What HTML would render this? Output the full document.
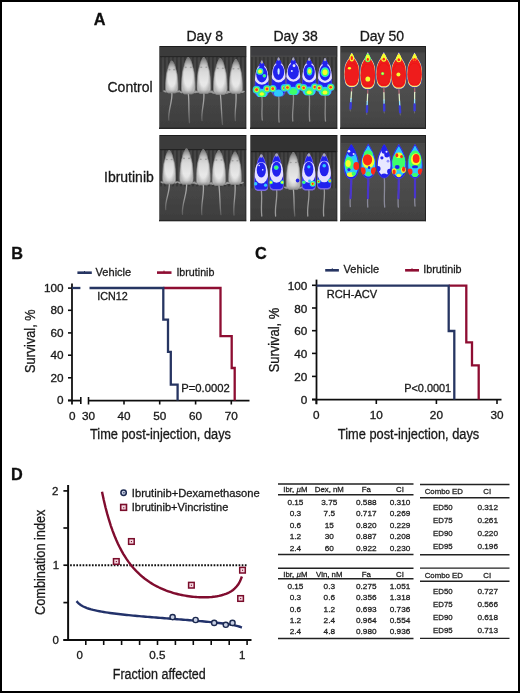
<!DOCTYPE html>
<html><head><meta charset="utf-8"><title>Figure</title><style>
html,body{margin:0;padding:0;background:#fff;width:520px;height:693px;overflow:hidden}
svg{display:block}
text{font-family:"Liberation Sans",sans-serif;stroke:currentColor;stroke-width:0.3px}
</style></head><body>
<svg width="520" height="693" viewBox="0 0 520 693">
<defs><filter id="gsoft" x="0" y="0" width="100%" height="100%" filterUnits="userSpaceOnUse"><feGaussianBlur stdDeviation="0.32"/></filter></defs>
<g filter="url(#gsoft)">
<rect x="0" y="0" width="520" height="693" fill="#fff"/>
<text x="93.7" y="24.6" font-size="16.3" font-weight="bold" fill="#111" color="#111">A</text>
<text x="204.8" y="40.7" font-size="14" text-anchor="middle" fill="#1a1a1a" color="#1a1a1a">Day 8</text>
<text x="295.6" y="40.7" font-size="14" text-anchor="middle" fill="#1a1a1a" color="#1a1a1a">Day 38</text>
<text x="381.9" y="40.7" font-size="14" text-anchor="middle" fill="#1a1a1a" color="#1a1a1a">Day 50</text>
<text x="107.5" y="91.9" font-size="14" fill="#1a1a1a" color="#1a1a1a">Control</text>
<text x="104.0" y="181.9" font-size="14" fill="#1a1a1a" color="#1a1a1a">Ibrutinib</text>
<defs>
<linearGradient id="gW" x1="0" y1="0" x2="0" y2="1">
<stop offset="0" stop-color="#8a8a8a"/><stop offset="0.1" stop-color="#ababab"/><stop offset="0.22" stop-color="#c6c6c6"/><stop offset="0.4" stop-color="#dadada"/><stop offset="0.7" stop-color="#e8e8e8"/><stop offset="0.9" stop-color="#e4e4e4"/><stop offset="1" stop-color="#b8b8b8"/>
</linearGradient>
<radialGradient id="gWe" cx="0.5" cy="0.5" r="0.5"><stop offset="0.6" stop-color="#000" stop-opacity="0"/><stop offset="1" stop-color="#000" stop-opacity="0.2"/></radialGradient>
<linearGradient id="gT" x1="0" y1="0" x2="0" y2="1" gradientUnits="objectBoundingBox"><stop offset="0" stop-color="#b0b0b0"/><stop offset="0.5" stop-color="#969696"/><stop offset="1" stop-color="#5e5e5e"/></linearGradient>
<linearGradient id="gBG" x1="0" y1="0" x2="0" y2="1"><stop offset="0" stop-color="#fff" stop-opacity="0.0"/><stop offset="0.45" stop-color="#fff" stop-opacity="0.05"/><stop offset="1" stop-color="#000" stop-opacity="0.06"/></linearGradient>
<filter id="soft" x="-5%" y="-5%" width="110%" height="110%"><feGaussianBlur stdDeviation="0.55"/></filter>
<clipPath id="ci1"><rect x="159" y="46" width="87.5" height="83"/></clipPath>
<clipPath id="ci2"><rect x="250" y="46" width="87.5" height="83"/></clipPath>
<clipPath id="ci3"><rect x="340" y="46" width="86" height="83"/></clipPath>
<clipPath id="ci4"><rect x="159" y="135" width="87.5" height="86.4"/></clipPath>
<clipPath id="ci5"><rect x="250" y="135" width="87.5" height="86.4"/></clipPath>
<clipPath id="ci6"><rect x="340" y="135" width="86" height="86.4"/></clipPath>
</defs>
<g clip-path="url(#ci1)"><g filter="url(#soft)">
<rect x="159" y="46" width="87.5" height="83" fill="#404040"/>
<rect x="159" y="46" width="87.5" height="83" fill="url(#gBG)"/>
<rect x="160" y="57" width="1.8" height="34.9" fill="#2a2a2a" opacity="0.55"/>
<rect x="164" y="57" width="1.8" height="34.9" fill="#2a2a2a" opacity="0.55"/>
<rect x="168" y="57" width="1.8" height="34.9" fill="#2a2a2a" opacity="0.55"/>
<rect x="172" y="57" width="1.8" height="34.9" fill="#2a2a2a" opacity="0.55"/>
<rect x="176" y="57" width="1.8" height="34.9" fill="#2a2a2a" opacity="0.55"/>
<rect x="180" y="57" width="1.8" height="34.9" fill="#2a2a2a" opacity="0.55"/>
<rect x="184" y="57" width="1.8" height="34.9" fill="#2a2a2a" opacity="0.55"/>
<rect x="188" y="57" width="1.8" height="34.9" fill="#2a2a2a" opacity="0.55"/>
<rect x="192" y="57" width="1.8" height="34.9" fill="#2a2a2a" opacity="0.55"/>
<rect x="196" y="57" width="1.8" height="34.9" fill="#2a2a2a" opacity="0.55"/>
<rect x="200" y="57" width="1.8" height="34.9" fill="#2a2a2a" opacity="0.55"/>
<rect x="204" y="57" width="1.8" height="34.9" fill="#2a2a2a" opacity="0.55"/>
<rect x="208" y="57" width="1.8" height="34.9" fill="#2a2a2a" opacity="0.55"/>
<rect x="212" y="57" width="1.8" height="34.9" fill="#2a2a2a" opacity="0.55"/>
<rect x="216" y="57" width="1.8" height="34.9" fill="#2a2a2a" opacity="0.55"/>
<rect x="220" y="57" width="1.8" height="34.9" fill="#2a2a2a" opacity="0.55"/>
<rect x="224" y="57" width="1.8" height="34.9" fill="#2a2a2a" opacity="0.55"/>
<rect x="228" y="57" width="1.8" height="34.9" fill="#2a2a2a" opacity="0.55"/>
<rect x="232" y="57" width="1.8" height="34.9" fill="#2a2a2a" opacity="0.55"/>
<rect x="236" y="57" width="1.8" height="34.9" fill="#2a2a2a" opacity="0.55"/>
<rect x="240" y="57" width="1.8" height="34.9" fill="#2a2a2a" opacity="0.55"/>
<rect x="244" y="57" width="1.8" height="34.9" fill="#2a2a2a" opacity="0.55"/>
<rect x="159" y="46" width="87.5" height="11" fill="#3a3a3a"/>
<rect x="159" y="56" width="87.5" height="1.2" fill="#262626"/>
<rect x="159" y="46" width="87.5" height="1" fill="#1e1e1e"/>
<rect x="159" y="46" width="1" height="83" fill="#6a6a6a"/>
<rect x="245.5" y="46" width="1" height="83" fill="#242424"/>
<rect x="159" y="127.5" width="87.5" height="1.5" fill="#262626"/>
<path d="M171.80,92.00 C172.92,101.24 167.68,110.48 168.80,120.00" stroke="url(#gT)" stroke-width="1.3" fill="none" stroke-linecap="round"/>
<ellipse cx="165.00" cy="91.40" rx="2.0" ry="0.9" fill="#9a9a9a" transform="rotate(20 165.00 91.40)"/>
<ellipse cx="178.60" cy="91.40" rx="2.0" ry="0.9" fill="#9a9a9a" transform="rotate(-20 178.60 91.40)"/>
<path d="M172.42,61.00 L173.06,62.10 L173.70,63.21 L174.32,64.31 L174.75,65.41 L175.17,66.52 L175.41,67.62 L175.66,68.72 L176.01,69.83 L176.35,70.93 L176.63,72.03 L176.90,73.14 L177.12,74.24 L177.25,75.34 L177.38,76.45 L177.51,77.55 L177.63,78.66 L177.70,79.76 L177.77,80.86 L177.85,81.97 L177.92,83.07 L177.95,84.17 L177.96,85.28 L177.98,86.38 L177.99,87.48 L177.95,88.59 L177.87,89.69 L177.66,90.79 L177.19,91.90 L175.21,93.00 L168.39,93.00 L166.41,91.90 L165.94,90.79 L165.73,89.69 L165.65,88.59 L165.61,87.48 L165.62,86.38 L165.64,85.28 L165.65,84.17 L165.68,83.07 L165.75,81.97 L165.83,80.86 L165.90,79.76 L165.97,78.66 L166.09,77.55 L166.22,76.45 L166.35,75.34 L166.48,74.24 L166.70,73.14 L166.97,72.03 L167.25,70.93 L167.59,69.83 L167.94,68.72 L168.19,67.62 L168.43,66.52 L168.85,65.41 L169.28,64.31 L169.90,63.21 L170.54,62.10 L171.18,61.00Z" fill="url(#gW)" stroke="#9c9c9c" stroke-width="0.8" stroke-opacity="0.7"/>
<path d="M172.42,61.00 L173.06,62.10 L173.70,63.21 L174.32,64.31 L174.75,65.41 L175.17,66.52 L175.41,67.62 L175.66,68.72 L176.01,69.83 L176.35,70.93 L176.63,72.03 L176.90,73.14 L177.12,74.24 L177.25,75.34 L177.38,76.45 L177.51,77.55 L177.63,78.66 L177.70,79.76 L177.77,80.86 L177.85,81.97 L177.92,83.07 L177.95,84.17 L177.96,85.28 L177.98,86.38 L177.99,87.48 L177.95,88.59 L177.87,89.69 L177.66,90.79 L177.19,91.90 L175.21,93.00 L168.39,93.00 L166.41,91.90 L165.94,90.79 L165.73,89.69 L165.65,88.59 L165.61,87.48 L165.62,86.38 L165.64,85.28 L165.65,84.17 L165.68,83.07 L165.75,81.97 L165.83,80.86 L165.90,79.76 L165.97,78.66 L166.09,77.55 L166.22,76.45 L166.35,75.34 L166.48,74.24 L166.70,73.14 L166.97,72.03 L167.25,70.93 L167.59,69.83 L167.94,68.72 L168.19,67.62 L168.43,66.52 L168.85,65.41 L169.28,64.31 L169.90,63.21 L170.54,62.10 L171.18,61.00Z" fill="url(#gWe)"/>
<ellipse cx="169.44" cy="69.64" rx="1.1" ry="0.8" fill="#8a8a8a" opacity="0.7"/>
<ellipse cx="174.16" cy="69.64" rx="1.1" ry="0.8" fill="#8a8a8a" opacity="0.7"/>
<path d="M188.30,93.00 C189.42,102.80 188.38,112.60 189.50,122.70" stroke="url(#gT)" stroke-width="1.3" fill="none" stroke-linecap="round"/>
<ellipse cx="180.90" cy="92.17" rx="2.0" ry="0.9" fill="#9a9a9a" transform="rotate(20 180.90 92.17)"/>
<ellipse cx="195.70" cy="92.17" rx="2.0" ry="0.9" fill="#9a9a9a" transform="rotate(-20 195.70 92.17)"/>
<path d="M188.98,57.50 L189.68,58.76 L190.39,60.02 L191.07,61.28 L191.54,62.53 L191.99,63.79 L192.26,65.05 L192.53,66.31 L192.92,67.57 L193.29,68.83 L193.59,70.09 L193.90,71.34 L194.14,72.60 L194.28,73.86 L194.42,75.12 L194.56,76.38 L194.70,77.64 L194.77,78.90 L194.85,80.16 L194.93,81.41 L195.01,82.67 L195.04,83.93 L195.06,85.19 L195.08,86.45 L195.09,87.71 L195.04,88.97 L194.96,90.22 L194.73,91.48 L194.22,92.74 L192.04,94.00 L184.56,94.00 L182.38,92.74 L181.87,91.48 L181.64,90.22 L181.56,88.97 L181.51,87.71 L181.52,86.45 L181.54,85.19 L181.56,83.93 L181.59,82.67 L181.67,81.41 L181.75,80.16 L181.83,78.90 L181.90,77.64 L182.04,76.38 L182.18,75.12 L182.32,73.86 L182.46,72.60 L182.70,71.34 L183.01,70.09 L183.31,68.83 L183.68,67.57 L184.07,66.31 L184.34,65.05 L184.61,63.79 L185.06,62.53 L185.53,61.28 L186.21,60.02 L186.92,58.76 L187.62,57.50Z" fill="url(#gW)" stroke="#9c9c9c" stroke-width="0.8" stroke-opacity="0.7"/>
<path d="M188.98,57.50 L189.68,58.76 L190.39,60.02 L191.07,61.28 L191.54,62.53 L191.99,63.79 L192.26,65.05 L192.53,66.31 L192.92,67.57 L193.29,68.83 L193.59,70.09 L193.90,71.34 L194.14,72.60 L194.28,73.86 L194.42,75.12 L194.56,76.38 L194.70,77.64 L194.77,78.90 L194.85,80.16 L194.93,81.41 L195.01,82.67 L195.04,83.93 L195.06,85.19 L195.08,86.45 L195.09,87.71 L195.04,88.97 L194.96,90.22 L194.73,91.48 L194.22,92.74 L192.04,94.00 L184.56,94.00 L182.38,92.74 L181.87,91.48 L181.64,90.22 L181.56,88.97 L181.51,87.71 L181.52,86.45 L181.54,85.19 L181.56,83.93 L181.59,82.67 L181.67,81.41 L181.75,80.16 L181.83,78.90 L181.90,77.64 L182.04,76.38 L182.18,75.12 L182.32,73.86 L182.46,72.60 L182.70,71.34 L183.01,70.09 L183.31,68.83 L183.68,67.57 L184.07,66.31 L184.34,65.05 L184.61,63.79 L185.06,62.53 L185.53,61.28 L186.21,60.02 L186.92,58.76 L187.62,57.50Z" fill="url(#gWe)"/>
<ellipse cx="185.72" cy="67.36" rx="1.1" ry="0.8" fill="#8a8a8a" opacity="0.7"/>
<ellipse cx="190.88" cy="67.36" rx="1.1" ry="0.8" fill="#8a8a8a" opacity="0.7"/>
<path d="M203.80,92.50 C204.92,101.74 200.88,110.98 202.00,120.50" stroke="url(#gT)" stroke-width="1.3" fill="none" stroke-linecap="round"/>
<ellipse cx="196.40" cy="91.70" rx="2.0" ry="0.9" fill="#9a9a9a" transform="rotate(20 196.40 91.70)"/>
<ellipse cx="211.20" cy="91.70" rx="2.0" ry="0.9" fill="#9a9a9a" transform="rotate(-20 211.20 91.70)"/>
<path d="M204.48,57.50 L205.18,58.74 L205.89,59.98 L206.57,61.22 L207.04,62.47 L207.49,63.71 L207.76,64.95 L208.03,66.19 L208.42,67.43 L208.79,68.67 L209.09,69.91 L209.40,71.16 L209.64,72.40 L209.78,73.64 L209.92,74.88 L210.06,76.12 L210.20,77.36 L210.27,78.60 L210.35,79.84 L210.43,81.09 L210.51,82.33 L210.54,83.57 L210.56,84.81 L210.58,86.05 L210.59,87.29 L210.54,88.53 L210.46,89.78 L210.23,91.02 L209.72,92.26 L207.54,93.50 L200.06,93.50 L197.88,92.26 L197.37,91.02 L197.14,89.78 L197.06,88.53 L197.01,87.29 L197.02,86.05 L197.04,84.81 L197.06,83.57 L197.09,82.33 L197.17,81.09 L197.25,79.84 L197.33,78.60 L197.40,77.36 L197.54,76.12 L197.68,74.88 L197.82,73.64 L197.96,72.40 L198.20,71.16 L198.51,69.91 L198.81,68.67 L199.18,67.43 L199.57,66.19 L199.84,64.95 L200.11,63.71 L200.56,62.47 L201.03,61.22 L201.71,59.98 L202.42,58.74 L203.12,57.50Z" fill="url(#gW)" stroke="#9c9c9c" stroke-width="0.8" stroke-opacity="0.7"/>
<path d="M204.48,57.50 L205.18,58.74 L205.89,59.98 L206.57,61.22 L207.04,62.47 L207.49,63.71 L207.76,64.95 L208.03,66.19 L208.42,67.43 L208.79,68.67 L209.09,69.91 L209.40,71.16 L209.64,72.40 L209.78,73.64 L209.92,74.88 L210.06,76.12 L210.20,77.36 L210.27,78.60 L210.35,79.84 L210.43,81.09 L210.51,82.33 L210.54,83.57 L210.56,84.81 L210.58,86.05 L210.59,87.29 L210.54,88.53 L210.46,89.78 L210.23,91.02 L209.72,92.26 L207.54,93.50 L200.06,93.50 L197.88,92.26 L197.37,91.02 L197.14,89.78 L197.06,88.53 L197.01,87.29 L197.02,86.05 L197.04,84.81 L197.06,83.57 L197.09,82.33 L197.17,81.09 L197.25,79.84 L197.33,78.60 L197.40,77.36 L197.54,76.12 L197.68,74.88 L197.82,73.64 L197.96,72.40 L198.20,71.16 L198.51,69.91 L198.81,68.67 L199.18,67.43 L199.57,66.19 L199.84,64.95 L200.11,63.71 L200.56,62.47 L201.03,61.22 L201.71,59.98 L202.42,58.74 L203.12,57.50Z" fill="url(#gWe)"/>
<ellipse cx="201.22" cy="67.22" rx="1.1" ry="0.8" fill="#8a8a8a" opacity="0.7"/>
<ellipse cx="206.38" cy="67.22" rx="1.1" ry="0.8" fill="#8a8a8a" opacity="0.7"/>
<path d="M220.30,93.50 C221.42,103.70 221.38,113.89 222.50,124.40" stroke="url(#gT)" stroke-width="1.3" fill="none" stroke-linecap="round"/>
<ellipse cx="212.90" cy="92.70" rx="2.0" ry="0.9" fill="#9a9a9a" transform="rotate(20 212.90 92.70)"/>
<ellipse cx="227.70" cy="92.70" rx="2.0" ry="0.9" fill="#9a9a9a" transform="rotate(-20 227.70 92.70)"/>
<path d="M220.98,58.50 L221.68,59.74 L222.39,60.98 L223.07,62.22 L223.54,63.47 L223.99,64.71 L224.26,65.95 L224.53,67.19 L224.92,68.43 L225.29,69.67 L225.59,70.91 L225.90,72.16 L226.14,73.40 L226.28,74.64 L226.42,75.88 L226.56,77.12 L226.70,78.36 L226.77,79.60 L226.85,80.84 L226.93,82.09 L227.01,83.33 L227.04,84.57 L227.06,85.81 L227.08,87.05 L227.09,88.29 L227.04,89.53 L226.96,90.78 L226.73,92.02 L226.22,93.26 L224.04,94.50 L216.56,94.50 L214.38,93.26 L213.87,92.02 L213.64,90.78 L213.56,89.53 L213.51,88.29 L213.52,87.05 L213.54,85.81 L213.56,84.57 L213.59,83.33 L213.67,82.09 L213.75,80.84 L213.83,79.60 L213.90,78.36 L214.04,77.12 L214.18,75.88 L214.32,74.64 L214.46,73.40 L214.70,72.16 L215.01,70.91 L215.31,69.67 L215.68,68.43 L216.07,67.19 L216.34,65.95 L216.61,64.71 L217.06,63.47 L217.53,62.22 L218.21,60.98 L218.92,59.74 L219.62,58.50Z" fill="url(#gW)" stroke="#9c9c9c" stroke-width="0.8" stroke-opacity="0.7"/>
<path d="M220.98,58.50 L221.68,59.74 L222.39,60.98 L223.07,62.22 L223.54,63.47 L223.99,64.71 L224.26,65.95 L224.53,67.19 L224.92,68.43 L225.29,69.67 L225.59,70.91 L225.90,72.16 L226.14,73.40 L226.28,74.64 L226.42,75.88 L226.56,77.12 L226.70,78.36 L226.77,79.60 L226.85,80.84 L226.93,82.09 L227.01,83.33 L227.04,84.57 L227.06,85.81 L227.08,87.05 L227.09,88.29 L227.04,89.53 L226.96,90.78 L226.73,92.02 L226.22,93.26 L224.04,94.50 L216.56,94.50 L214.38,93.26 L213.87,92.02 L213.64,90.78 L213.56,89.53 L213.51,88.29 L213.52,87.05 L213.54,85.81 L213.56,84.57 L213.59,83.33 L213.67,82.09 L213.75,80.84 L213.83,79.60 L213.90,78.36 L214.04,77.12 L214.18,75.88 L214.32,74.64 L214.46,73.40 L214.70,72.16 L215.01,70.91 L215.31,69.67 L215.68,68.43 L216.07,67.19 L216.34,65.95 L216.61,64.71 L217.06,63.47 L217.53,62.22 L218.21,60.98 L218.92,59.74 L219.62,58.50Z" fill="url(#gWe)"/>
<ellipse cx="217.72" cy="68.22" rx="1.1" ry="0.8" fill="#8a8a8a" opacity="0.7"/>
<ellipse cx="222.88" cy="68.22" rx="1.1" ry="0.8" fill="#8a8a8a" opacity="0.7"/>
<path d="M235.90,92.50 C237.02,101.74 234.28,110.98 235.40,120.50" stroke="url(#gT)" stroke-width="1.3" fill="none" stroke-linecap="round"/>
<ellipse cx="228.80" cy="91.80" rx="2.0" ry="0.9" fill="#9a9a9a" transform="rotate(20 228.80 91.80)"/>
<ellipse cx="243.00" cy="91.80" rx="2.0" ry="0.9" fill="#9a9a9a" transform="rotate(-20 243.00 91.80)"/>
<path d="M236.55,59.50 L237.22,60.67 L237.89,61.84 L238.54,63.02 L238.99,64.19 L239.43,65.36 L239.68,66.53 L239.94,67.71 L240.32,68.88 L240.67,70.05 L240.96,71.22 L241.25,72.40 L241.48,73.57 L241.61,74.74 L241.75,75.91 L241.88,77.09 L242.01,78.26 L242.09,79.43 L242.16,80.60 L242.24,81.78 L242.31,82.95 L242.35,84.12 L242.36,85.29 L242.38,86.47 L242.39,87.64 L242.35,88.81 L242.26,89.98 L242.05,91.16 L241.55,92.33 L239.47,93.50 L232.33,93.50 L230.25,92.33 L229.75,91.16 L229.54,89.98 L229.45,88.81 L229.41,87.64 L229.42,86.47 L229.44,85.29 L229.45,84.12 L229.49,82.95 L229.56,81.78 L229.64,80.60 L229.71,79.43 L229.79,78.26 L229.92,77.09 L230.05,75.91 L230.19,74.74 L230.32,73.57 L230.55,72.40 L230.84,71.22 L231.13,70.05 L231.48,68.88 L231.86,67.71 L232.12,66.53 L232.37,65.36 L232.81,64.19 L233.26,63.02 L233.91,61.84 L234.58,60.67 L235.25,59.50Z" fill="url(#gW)" stroke="#9c9c9c" stroke-width="0.8" stroke-opacity="0.7"/>
<path d="M236.55,59.50 L237.22,60.67 L237.89,61.84 L238.54,63.02 L238.99,64.19 L239.43,65.36 L239.68,66.53 L239.94,67.71 L240.32,68.88 L240.67,70.05 L240.96,71.22 L241.25,72.40 L241.48,73.57 L241.61,74.74 L241.75,75.91 L241.88,77.09 L242.01,78.26 L242.09,79.43 L242.16,80.60 L242.24,81.78 L242.31,82.95 L242.35,84.12 L242.36,85.29 L242.38,86.47 L242.39,87.64 L242.35,88.81 L242.26,89.98 L242.05,91.16 L241.55,92.33 L239.47,93.50 L232.33,93.50 L230.25,92.33 L229.75,91.16 L229.54,89.98 L229.45,88.81 L229.41,87.64 L229.42,86.47 L229.44,85.29 L229.45,84.12 L229.49,82.95 L229.56,81.78 L229.64,80.60 L229.71,79.43 L229.79,78.26 L229.92,77.09 L230.05,75.91 L230.19,74.74 L230.32,73.57 L230.55,72.40 L230.84,71.22 L231.13,70.05 L231.48,68.88 L231.86,67.71 L232.12,66.53 L232.37,65.36 L232.81,64.19 L233.26,63.02 L233.91,61.84 L234.58,60.67 L235.25,59.50Z" fill="url(#gWe)"/>
<ellipse cx="233.43" cy="68.68" rx="1.1" ry="0.8" fill="#8a8a8a" opacity="0.7"/>
<ellipse cx="238.37" cy="68.68" rx="1.1" ry="0.8" fill="#8a8a8a" opacity="0.7"/>
</g></g>
<g clip-path="url(#ci4)"><g filter="url(#soft)">
<rect x="159" y="135" width="87.5" height="86.4" fill="#404040"/>
<rect x="159" y="135" width="87.5" height="86.4" fill="url(#gBG)"/>
<rect x="160" y="150" width="1.8" height="36.3" fill="#2a2a2a" opacity="0.55"/>
<rect x="164" y="150" width="1.8" height="36.3" fill="#2a2a2a" opacity="0.55"/>
<rect x="168" y="150" width="1.8" height="36.3" fill="#2a2a2a" opacity="0.55"/>
<rect x="172" y="150" width="1.8" height="36.3" fill="#2a2a2a" opacity="0.55"/>
<rect x="176" y="150" width="1.8" height="36.3" fill="#2a2a2a" opacity="0.55"/>
<rect x="180" y="150" width="1.8" height="36.3" fill="#2a2a2a" opacity="0.55"/>
<rect x="184" y="150" width="1.8" height="36.3" fill="#2a2a2a" opacity="0.55"/>
<rect x="188" y="150" width="1.8" height="36.3" fill="#2a2a2a" opacity="0.55"/>
<rect x="192" y="150" width="1.8" height="36.3" fill="#2a2a2a" opacity="0.55"/>
<rect x="196" y="150" width="1.8" height="36.3" fill="#2a2a2a" opacity="0.55"/>
<rect x="200" y="150" width="1.8" height="36.3" fill="#2a2a2a" opacity="0.55"/>
<rect x="204" y="150" width="1.8" height="36.3" fill="#2a2a2a" opacity="0.55"/>
<rect x="208" y="150" width="1.8" height="36.3" fill="#2a2a2a" opacity="0.55"/>
<rect x="212" y="150" width="1.8" height="36.3" fill="#2a2a2a" opacity="0.55"/>
<rect x="216" y="150" width="1.8" height="36.3" fill="#2a2a2a" opacity="0.55"/>
<rect x="220" y="150" width="1.8" height="36.3" fill="#2a2a2a" opacity="0.55"/>
<rect x="224" y="150" width="1.8" height="36.3" fill="#2a2a2a" opacity="0.55"/>
<rect x="228" y="150" width="1.8" height="36.3" fill="#2a2a2a" opacity="0.55"/>
<rect x="232" y="150" width="1.8" height="36.3" fill="#2a2a2a" opacity="0.55"/>
<rect x="236" y="150" width="1.8" height="36.3" fill="#2a2a2a" opacity="0.55"/>
<rect x="240" y="150" width="1.8" height="36.3" fill="#2a2a2a" opacity="0.55"/>
<rect x="244" y="150" width="1.8" height="36.3" fill="#2a2a2a" opacity="0.55"/>
<rect x="159" y="135" width="87.5" height="15" fill="#3a3a3a"/>
<rect x="159" y="149" width="87.5" height="1.2" fill="#222222"/>
<rect x="159" y="135" width="87.5" height="1" fill="#1e1e1e"/>
<rect x="159" y="135" width="1" height="86.4" fill="#6a6a6a"/>
<rect x="245.5" y="135" width="1" height="86.4" fill="#242424"/>
<rect x="159" y="219.9" width="87.5" height="1.5" fill="#262626"/>
<path d="M169.20,183.00 C170.32,191.75 164.58,200.49 165.70,209.50" stroke="url(#gT)" stroke-width="1.3" fill="none" stroke-linecap="round"/>
<ellipse cx="162.20" cy="182.32" rx="2.0" ry="0.9" fill="#9a9a9a" transform="rotate(20 162.20 182.32)"/>
<ellipse cx="176.20" cy="182.32" rx="2.0" ry="0.9" fill="#9a9a9a" transform="rotate(-20 176.20 182.32)"/>
<path d="M169.84,150.50 L170.50,151.66 L171.16,152.81 L171.80,153.97 L172.25,155.12 L172.67,156.28 L172.93,157.43 L173.18,158.59 L173.55,159.74 L173.89,160.90 L174.18,162.05 L174.47,163.21 L174.69,164.36 L174.83,165.52 L174.96,166.67 L175.09,167.83 L175.22,168.98 L175.29,170.14 L175.37,171.29 L175.44,172.45 L175.51,173.60 L175.55,174.76 L175.56,175.91 L175.58,177.07 L175.59,178.22 L175.55,179.38 L175.46,180.53 L175.25,181.69 L174.77,182.84 L172.72,184.00 L165.68,184.00 L163.63,182.84 L163.15,181.69 L162.94,180.53 L162.85,179.38 L162.81,178.22 L162.82,177.07 L162.84,175.91 L162.85,174.76 L162.89,173.60 L162.96,172.45 L163.03,171.29 L163.11,170.14 L163.18,168.98 L163.31,167.83 L163.44,166.67 L163.57,165.52 L163.71,164.36 L163.93,163.21 L164.22,162.05 L164.51,160.90 L164.85,159.74 L165.22,158.59 L165.47,157.43 L165.73,156.28 L166.15,155.12 L166.60,153.97 L167.24,152.81 L167.90,151.66 L168.56,150.50Z" fill="url(#gW)" stroke="#9c9c9c" stroke-width="0.8" stroke-opacity="0.7"/>
<path d="M169.84,150.50 L170.50,151.66 L171.16,152.81 L171.80,153.97 L172.25,155.12 L172.67,156.28 L172.93,157.43 L173.18,158.59 L173.55,159.74 L173.89,160.90 L174.18,162.05 L174.47,163.21 L174.69,164.36 L174.83,165.52 L174.96,166.67 L175.09,167.83 L175.22,168.98 L175.29,170.14 L175.37,171.29 L175.44,172.45 L175.51,173.60 L175.55,174.76 L175.56,175.91 L175.58,177.07 L175.59,178.22 L175.55,179.38 L175.46,180.53 L175.25,181.69 L174.77,182.84 L172.72,184.00 L165.68,184.00 L163.63,182.84 L163.15,181.69 L162.94,180.53 L162.85,179.38 L162.81,178.22 L162.82,177.07 L162.84,175.91 L162.85,174.76 L162.89,173.60 L162.96,172.45 L163.03,171.29 L163.11,170.14 L163.18,168.98 L163.31,167.83 L163.44,166.67 L163.57,165.52 L163.71,164.36 L163.93,163.21 L164.22,162.05 L164.51,160.90 L164.85,159.74 L165.22,158.59 L165.47,157.43 L165.73,156.28 L166.15,155.12 L166.60,153.97 L167.24,152.81 L167.90,151.66 L168.56,150.50Z" fill="url(#gWe)"/>
<ellipse cx="166.77" cy="159.54" rx="1.1" ry="0.8" fill="#8a8a8a" opacity="0.7"/>
<ellipse cx="171.63" cy="159.54" rx="1.1" ry="0.8" fill="#8a8a8a" opacity="0.7"/>
<path d="M186.50,183.30 C187.62,193.53 181.38,203.76 182.50,214.30" stroke="url(#gT)" stroke-width="1.3" fill="none" stroke-linecap="round"/>
<ellipse cx="179.20" cy="182.53" rx="2.0" ry="0.9" fill="#9a9a9a" transform="rotate(20 179.20 182.53)"/>
<ellipse cx="193.80" cy="182.53" rx="2.0" ry="0.9" fill="#9a9a9a" transform="rotate(-20 193.80 182.53)"/>
<path d="M187.17,148.80 L187.86,150.02 L188.56,151.25 L189.23,152.47 L189.69,153.70 L190.14,154.92 L190.40,156.14 L190.67,157.37 L191.05,158.59 L191.41,159.82 L191.71,161.04 L192.01,162.27 L192.25,163.49 L192.39,164.71 L192.53,165.94 L192.67,167.16 L192.80,168.39 L192.88,169.61 L192.96,170.83 L193.03,172.06 L193.11,173.28 L193.14,174.51 L193.16,175.73 L193.18,176.96 L193.19,178.18 L193.14,179.40 L193.06,180.63 L192.84,181.85 L192.33,183.08 L190.19,184.30 L182.81,184.30 L180.67,183.08 L180.16,181.85 L179.94,180.63 L179.86,179.40 L179.81,178.18 L179.82,176.96 L179.84,175.73 L179.86,174.51 L179.89,173.28 L179.97,172.06 L180.04,170.83 L180.12,169.61 L180.20,168.39 L180.33,167.16 L180.47,165.94 L180.61,164.71 L180.75,163.49 L180.99,162.27 L181.29,161.04 L181.59,159.82 L181.95,158.59 L182.33,157.37 L182.60,156.14 L182.86,154.92 L183.31,153.70 L183.77,152.47 L184.44,151.25 L185.14,150.02 L185.83,148.80Z" fill="url(#gW)" stroke="#9c9c9c" stroke-width="0.8" stroke-opacity="0.7"/>
<path d="M187.17,148.80 L187.86,150.02 L188.56,151.25 L189.23,152.47 L189.69,153.70 L190.14,154.92 L190.40,156.14 L190.67,157.37 L191.05,158.59 L191.41,159.82 L191.71,161.04 L192.01,162.27 L192.25,163.49 L192.39,164.71 L192.53,165.94 L192.67,167.16 L192.80,168.39 L192.88,169.61 L192.96,170.83 L193.03,172.06 L193.11,173.28 L193.14,174.51 L193.16,175.73 L193.18,176.96 L193.19,178.18 L193.14,179.40 L193.06,180.63 L192.84,181.85 L192.33,183.08 L190.19,184.30 L182.81,184.30 L180.67,183.08 L180.16,181.85 L179.94,180.63 L179.86,179.40 L179.81,178.18 L179.82,176.96 L179.84,175.73 L179.86,174.51 L179.89,173.28 L179.97,172.06 L180.04,170.83 L180.12,169.61 L180.20,168.39 L180.33,167.16 L180.47,165.94 L180.61,164.71 L180.75,163.49 L180.99,162.27 L181.29,161.04 L181.59,159.82 L181.95,158.59 L182.33,157.37 L182.60,156.14 L182.86,154.92 L183.31,153.70 L183.77,152.47 L184.44,151.25 L185.14,150.02 L185.83,148.80Z" fill="url(#gWe)"/>
<ellipse cx="183.95" cy="158.39" rx="1.1" ry="0.8" fill="#8a8a8a" opacity="0.7"/>
<ellipse cx="189.05" cy="158.39" rx="1.1" ry="0.8" fill="#8a8a8a" opacity="0.7"/>
<path d="M203.30,184.10 C204.42,194.13 200.68,204.16 201.80,214.50" stroke="url(#gT)" stroke-width="1.3" fill="none" stroke-linecap="round"/>
<ellipse cx="195.80" cy="183.32" rx="2.0" ry="0.9" fill="#9a9a9a" transform="rotate(20 195.80 183.32)"/>
<ellipse cx="210.80" cy="183.32" rx="2.0" ry="0.9" fill="#9a9a9a" transform="rotate(-20 210.80 183.32)"/>
<path d="M203.99,149.60 L204.70,150.82 L205.42,152.05 L206.11,153.27 L206.58,154.50 L207.05,155.72 L207.32,156.94 L207.59,158.17 L207.99,159.39 L208.36,160.62 L208.67,161.84 L208.98,163.07 L209.22,164.29 L209.36,165.51 L209.51,166.74 L209.65,167.96 L209.79,169.19 L209.87,170.41 L209.95,171.63 L210.03,172.86 L210.11,174.08 L210.14,175.31 L210.16,176.53 L210.18,177.76 L210.19,178.98 L210.14,180.20 L210.05,181.43 L209.83,182.65 L209.30,183.88 L207.09,185.10 L199.51,185.10 L197.30,183.88 L196.77,182.65 L196.55,181.43 L196.46,180.20 L196.41,178.98 L196.42,177.76 L196.44,176.53 L196.46,175.31 L196.49,174.08 L196.57,172.86 L196.65,171.63 L196.73,170.41 L196.81,169.19 L196.95,167.96 L197.09,166.74 L197.24,165.51 L197.38,164.29 L197.62,163.07 L197.93,161.84 L198.24,160.62 L198.61,159.39 L199.01,158.17 L199.28,156.94 L199.55,155.72 L200.02,154.50 L200.49,153.27 L201.18,152.05 L201.90,150.82 L202.61,149.60Z" fill="url(#gW)" stroke="#9c9c9c" stroke-width="0.8" stroke-opacity="0.7"/>
<path d="M203.99,149.60 L204.70,150.82 L205.42,152.05 L206.11,153.27 L206.58,154.50 L207.05,155.72 L207.32,156.94 L207.59,158.17 L207.99,159.39 L208.36,160.62 L208.67,161.84 L208.98,163.07 L209.22,164.29 L209.36,165.51 L209.51,166.74 L209.65,167.96 L209.79,169.19 L209.87,170.41 L209.95,171.63 L210.03,172.86 L210.11,174.08 L210.14,175.31 L210.16,176.53 L210.18,177.76 L210.19,178.98 L210.14,180.20 L210.05,181.43 L209.83,182.65 L209.30,183.88 L207.09,185.10 L199.51,185.10 L197.30,183.88 L196.77,182.65 L196.55,181.43 L196.46,180.20 L196.41,178.98 L196.42,177.76 L196.44,176.53 L196.46,175.31 L196.49,174.08 L196.57,172.86 L196.65,171.63 L196.73,170.41 L196.81,169.19 L196.95,167.96 L197.09,166.74 L197.24,165.51 L197.38,164.29 L197.62,163.07 L197.93,161.84 L198.24,160.62 L198.61,159.39 L199.01,158.17 L199.28,156.94 L199.55,155.72 L200.02,154.50 L200.49,153.27 L201.18,152.05 L201.90,150.82 L202.61,149.60Z" fill="url(#gWe)"/>
<ellipse cx="200.68" cy="159.19" rx="1.1" ry="0.8" fill="#8a8a8a" opacity="0.7"/>
<ellipse cx="205.92" cy="159.19" rx="1.1" ry="0.8" fill="#8a8a8a" opacity="0.7"/>
<path d="M218.90,184.50 C220.02,194.40 219.78,204.30 220.90,214.50" stroke="url(#gT)" stroke-width="1.3" fill="none" stroke-linecap="round"/>
<ellipse cx="211.60" cy="183.75" rx="2.0" ry="0.9" fill="#9a9a9a" transform="rotate(20 211.60 183.75)"/>
<ellipse cx="226.20" cy="183.75" rx="2.0" ry="0.9" fill="#9a9a9a" transform="rotate(-20 226.20 183.75)"/>
<path d="M219.57,150.50 L220.26,151.71 L220.96,152.91 L221.63,154.12 L222.09,155.33 L222.54,156.53 L222.80,157.74 L223.07,158.95 L223.45,160.16 L223.81,161.36 L224.11,162.57 L224.41,163.78 L224.65,164.98 L224.79,166.19 L224.93,167.40 L225.07,168.60 L225.20,169.81 L225.28,171.02 L225.36,172.22 L225.43,173.43 L225.51,174.64 L225.54,175.84 L225.56,177.05 L225.58,178.26 L225.59,179.47 L225.54,180.67 L225.46,181.88 L225.24,183.09 L224.73,184.29 L222.59,185.50 L215.22,185.50 L213.07,184.29 L212.56,183.09 L212.34,181.88 L212.26,180.67 L212.21,179.47 L212.22,178.26 L212.24,177.05 L212.26,175.84 L212.29,174.64 L212.37,173.43 L212.44,172.22 L212.52,171.02 L212.60,169.81 L212.73,168.60 L212.87,167.40 L213.01,166.19 L213.15,164.98 L213.39,163.78 L213.69,162.57 L213.99,161.36 L214.35,160.16 L214.73,158.95 L215.00,157.74 L215.26,156.53 L215.71,155.33 L216.17,154.12 L216.84,152.91 L217.54,151.71 L218.23,150.50Z" fill="url(#gW)" stroke="#9c9c9c" stroke-width="0.8" stroke-opacity="0.7"/>
<path d="M219.57,150.50 L220.26,151.71 L220.96,152.91 L221.63,154.12 L222.09,155.33 L222.54,156.53 L222.80,157.74 L223.07,158.95 L223.45,160.16 L223.81,161.36 L224.11,162.57 L224.41,163.78 L224.65,164.98 L224.79,166.19 L224.93,167.40 L225.07,168.60 L225.20,169.81 L225.28,171.02 L225.36,172.22 L225.43,173.43 L225.51,174.64 L225.54,175.84 L225.56,177.05 L225.58,178.26 L225.59,179.47 L225.54,180.67 L225.46,181.88 L225.24,183.09 L224.73,184.29 L222.59,185.50 L215.22,185.50 L213.07,184.29 L212.56,183.09 L212.34,181.88 L212.26,180.67 L212.21,179.47 L212.22,178.26 L212.24,177.05 L212.26,175.84 L212.29,174.64 L212.37,173.43 L212.44,172.22 L212.52,171.02 L212.60,169.81 L212.73,168.60 L212.87,167.40 L213.01,166.19 L213.15,164.98 L213.39,163.78 L213.69,162.57 L213.99,161.36 L214.35,160.16 L214.73,158.95 L215.00,157.74 L215.26,156.53 L215.71,155.33 L216.17,154.12 L216.84,152.91 L217.54,151.71 L218.23,150.50Z" fill="url(#gWe)"/>
<ellipse cx="216.35" cy="159.95" rx="1.1" ry="0.8" fill="#8a8a8a" opacity="0.7"/>
<ellipse cx="221.45" cy="159.95" rx="1.1" ry="0.8" fill="#8a8a8a" opacity="0.7"/>
<path d="M235.00,183.50 C236.12,193.90 232.88,204.29 234.00,215.00" stroke="url(#gT)" stroke-width="1.3" fill="none" stroke-linecap="round"/>
<ellipse cx="228.00" cy="182.88" rx="2.0" ry="0.9" fill="#9a9a9a" transform="rotate(20 228.00 182.88)"/>
<ellipse cx="242.00" cy="182.88" rx="2.0" ry="0.9" fill="#9a9a9a" transform="rotate(-20 242.00 182.88)"/>
<path d="M235.64,152.00 L236.30,153.12 L236.96,154.24 L237.60,155.36 L238.05,156.48 L238.47,157.60 L238.73,158.72 L238.98,159.84 L239.35,160.97 L239.69,162.09 L239.98,163.21 L240.27,164.33 L240.49,165.45 L240.63,166.57 L240.76,167.69 L240.89,168.81 L241.02,169.93 L241.09,171.05 L241.17,172.17 L241.24,173.29 L241.31,174.41 L241.35,175.53 L241.36,176.66 L241.38,177.78 L241.39,178.90 L241.35,180.02 L241.26,181.14 L241.05,182.26 L240.57,183.38 L238.52,184.50 L231.48,184.50 L229.43,183.38 L228.95,182.26 L228.74,181.14 L228.65,180.02 L228.61,178.90 L228.62,177.78 L228.64,176.66 L228.65,175.53 L228.69,174.41 L228.76,173.29 L228.83,172.17 L228.91,171.05 L228.98,169.93 L229.11,168.81 L229.24,167.69 L229.37,166.57 L229.51,165.45 L229.73,164.33 L230.02,163.21 L230.31,162.09 L230.65,160.97 L231.02,159.84 L231.27,158.72 L231.53,157.60 L231.95,156.48 L232.40,155.36 L233.04,154.24 L233.70,153.12 L234.36,152.00Z" fill="url(#gW)" stroke="#9c9c9c" stroke-width="0.8" stroke-opacity="0.7"/>
<path d="M235.64,152.00 L236.30,153.12 L236.96,154.24 L237.60,155.36 L238.05,156.48 L238.47,157.60 L238.73,158.72 L238.98,159.84 L239.35,160.97 L239.69,162.09 L239.98,163.21 L240.27,164.33 L240.49,165.45 L240.63,166.57 L240.76,167.69 L240.89,168.81 L241.02,169.93 L241.09,171.05 L241.17,172.17 L241.24,173.29 L241.31,174.41 L241.35,175.53 L241.36,176.66 L241.38,177.78 L241.39,178.90 L241.35,180.02 L241.26,181.14 L241.05,182.26 L240.57,183.38 L238.52,184.50 L231.48,184.50 L229.43,183.38 L228.95,182.26 L228.74,181.14 L228.65,180.02 L228.61,178.90 L228.62,177.78 L228.64,176.66 L228.65,175.53 L228.69,174.41 L228.76,173.29 L228.83,172.17 L228.91,171.05 L228.98,169.93 L229.11,168.81 L229.24,167.69 L229.37,166.57 L229.51,165.45 L229.73,164.33 L230.02,163.21 L230.31,162.09 L230.65,160.97 L231.02,159.84 L231.27,158.72 L231.53,157.60 L231.95,156.48 L232.40,155.36 L233.04,154.24 L233.70,153.12 L234.36,152.00Z" fill="url(#gWe)"/>
<ellipse cx="232.57" cy="160.78" rx="1.1" ry="0.8" fill="#8a8a8a" opacity="0.7"/>
<ellipse cx="237.43" cy="160.78" rx="1.1" ry="0.8" fill="#8a8a8a" opacity="0.7"/>
</g></g>
<g clip-path="url(#ci2)"><g filter="url(#soft)">
<rect x="250" y="46" width="87.5" height="83" fill="#404040"/>
<rect x="250" y="46" width="87.5" height="83" fill="url(#gBG)"/>
<rect x="251" y="56.5" width="1.8" height="34.9" fill="#2a2a2a" opacity="0.55"/>
<rect x="255" y="56.5" width="1.8" height="34.9" fill="#2a2a2a" opacity="0.55"/>
<rect x="259" y="56.5" width="1.8" height="34.9" fill="#2a2a2a" opacity="0.55"/>
<rect x="263" y="56.5" width="1.8" height="34.9" fill="#2a2a2a" opacity="0.55"/>
<rect x="267" y="56.5" width="1.8" height="34.9" fill="#2a2a2a" opacity="0.55"/>
<rect x="271" y="56.5" width="1.8" height="34.9" fill="#2a2a2a" opacity="0.55"/>
<rect x="275" y="56.5" width="1.8" height="34.9" fill="#2a2a2a" opacity="0.55"/>
<rect x="279" y="56.5" width="1.8" height="34.9" fill="#2a2a2a" opacity="0.55"/>
<rect x="283" y="56.5" width="1.8" height="34.9" fill="#2a2a2a" opacity="0.55"/>
<rect x="287" y="56.5" width="1.8" height="34.9" fill="#2a2a2a" opacity="0.55"/>
<rect x="291" y="56.5" width="1.8" height="34.9" fill="#2a2a2a" opacity="0.55"/>
<rect x="295" y="56.5" width="1.8" height="34.9" fill="#2a2a2a" opacity="0.55"/>
<rect x="299" y="56.5" width="1.8" height="34.9" fill="#2a2a2a" opacity="0.55"/>
<rect x="303" y="56.5" width="1.8" height="34.9" fill="#2a2a2a" opacity="0.55"/>
<rect x="307" y="56.5" width="1.8" height="34.9" fill="#2a2a2a" opacity="0.55"/>
<rect x="311" y="56.5" width="1.8" height="34.9" fill="#2a2a2a" opacity="0.55"/>
<rect x="315" y="56.5" width="1.8" height="34.9" fill="#2a2a2a" opacity="0.55"/>
<rect x="319" y="56.5" width="1.8" height="34.9" fill="#2a2a2a" opacity="0.55"/>
<rect x="323" y="56.5" width="1.8" height="34.9" fill="#2a2a2a" opacity="0.55"/>
<rect x="327" y="56.5" width="1.8" height="34.9" fill="#2a2a2a" opacity="0.55"/>
<rect x="331" y="56.5" width="1.8" height="34.9" fill="#2a2a2a" opacity="0.55"/>
<rect x="335" y="56.5" width="1.8" height="34.9" fill="#2a2a2a" opacity="0.55"/>
<rect x="250" y="46" width="87.5" height="10.5" fill="#3c3c40"/>
<rect x="250" y="55.5" width="87.5" height="1.2" fill="#4a4a4a"/>
<rect x="250" y="46" width="87.5" height="1" fill="#1e1e1e"/>
<rect x="250" y="46" width="1" height="83" fill="#6a6a6a"/>
<rect x="336.5" y="46" width="1" height="83" fill="#242424"/>
<rect x="250" y="127.5" width="87.5" height="1.5" fill="#262626"/>
<path d="M261.80,96.00 C262.92,103.92 261.18,111.84 262.30,120.00" stroke="#8a8a8a" stroke-width="1.3" fill="none" stroke-linecap="round"/>
<clipPath id="m2_0"><path d="M262.23,60.50 L262.81,61.76 L263.44,63.02 L264.22,64.28 L264.99,65.53 L265.65,66.79 L266.30,68.05 L266.80,69.31 L267.20,70.57 L267.59,71.83 L267.84,73.09 L268.03,74.34 L268.22,75.60 L268.41,76.86 L268.50,78.12 L268.59,79.38 L268.67,80.64 L268.75,81.90 L268.81,83.16 L268.86,84.41 L268.91,85.67 L268.96,86.93 L268.99,88.19 L268.94,89.45 L268.90,90.71 L268.84,91.97 L268.53,93.22 L268.22,94.48 L267.13,95.74 L265.76,97.00 L257.84,97.00 L256.47,95.74 L255.38,94.48 L255.07,93.22 L254.76,91.97 L254.70,90.71 L254.66,89.45 L254.61,88.19 L254.64,86.93 L254.69,85.67 L254.74,84.41 L254.79,83.16 L254.85,81.90 L254.93,80.64 L255.01,79.38 L255.10,78.12 L255.19,76.86 L255.38,75.60 L255.57,74.34 L255.76,73.09 L256.01,71.83 L256.40,70.57 L256.80,69.31 L257.30,68.05 L257.95,66.79 L258.61,65.53 L259.38,64.28 L260.16,63.02 L260.79,61.76 L261.37,60.50Z"/></clipPath>
<path d="M262.23,60.50 L262.81,61.76 L263.44,63.02 L264.22,64.28 L264.99,65.53 L265.65,66.79 L266.30,68.05 L266.80,69.31 L267.20,70.57 L267.59,71.83 L267.84,73.09 L268.03,74.34 L268.22,75.60 L268.41,76.86 L268.50,78.12 L268.59,79.38 L268.67,80.64 L268.75,81.90 L268.81,83.16 L268.86,84.41 L268.91,85.67 L268.96,86.93 L268.99,88.19 L268.94,89.45 L268.90,90.71 L268.84,91.97 L268.53,93.22 L268.22,94.48 L267.13,95.74 L265.76,97.00 L257.84,97.00 L256.47,95.74 L255.38,94.48 L255.07,93.22 L254.76,91.97 L254.70,90.71 L254.66,89.45 L254.61,88.19 L254.64,86.93 L254.69,85.67 L254.74,84.41 L254.79,83.16 L254.85,81.90 L254.93,80.64 L255.01,79.38 L255.10,78.12 L255.19,76.86 L255.38,75.60 L255.57,74.34 L255.76,73.09 L256.01,71.83 L256.40,70.57 L256.80,69.31 L257.30,68.05 L257.95,66.79 L258.61,65.53 L259.38,64.28 L260.16,63.02 L260.79,61.76 L261.37,60.50Z" fill="#5a48c8"/>
<g clip-path="url(#m2_0)">
<path d="M262.19,62.33 L262.71,63.46 L263.28,64.59 L263.98,65.72 L264.67,66.86 L265.27,67.99 L265.85,69.12 L266.30,70.25 L266.66,71.39 L267.01,72.52 L267.24,73.65 L267.41,74.79 L267.58,75.92 L267.75,77.05 L267.83,78.18 L267.91,79.32 L267.98,80.45 L268.06,81.58 L268.11,82.71 L268.16,83.85 L268.20,84.98 L268.25,86.11 L268.27,87.25 L268.23,88.38 L268.19,89.51 L268.13,90.64 L267.85,91.78 L267.58,92.91 L266.59,94.04 L265.36,95.18 L258.24,95.18 L257.01,94.04 L256.02,92.91 L255.75,91.78 L255.47,90.64 L255.41,89.51 L255.37,88.38 L255.33,87.25 L255.35,86.11 L255.40,84.98 L255.44,83.85 L255.49,82.71 L255.54,81.58 L255.62,80.45 L255.69,79.32 L255.77,78.18 L255.85,77.05 L256.02,75.92 L256.19,74.79 L256.36,73.65 L256.59,72.52 L256.94,71.39 L257.30,70.25 L257.75,69.12 L258.33,67.99 L258.93,66.86 L259.62,65.72 L260.32,64.59 L260.89,63.46 L261.41,62.33Z" fill="#2222ee"/>
<ellipse cx="261.80" cy="75.10" rx="8.05" ry="9.72" fill="#e2dcff" transform="rotate(0 261.80 75.10)"/>
<ellipse cx="261.80" cy="74.37" rx="5.60" ry="8.10" fill="#2222ee" transform="rotate(0 261.80 74.37)"/>
<ellipse cx="261.80" cy="64.88" rx="2.45" ry="3.24" fill="#2222ee" transform="rotate(0 261.80 64.88)"/>
<ellipse cx="260.00" cy="71.45" rx="3.40" ry="3.40" fill="#2fc8ff" transform="rotate(0 260.00 71.45)"/>
<ellipse cx="260.00" cy="71.45" rx="2.65" ry="2.65" fill="#3cff6a" transform="rotate(0 260.00 71.45)"/>
<ellipse cx="260.00" cy="71.45" rx="1.90" ry="1.90" fill="#f4ff2c" transform="rotate(0 260.00 71.45)"/>
<ellipse cx="264.32" cy="75.83" rx="1.80" ry="1.80" fill="#2fc8ff" transform="rotate(0 264.32 75.83)"/>
<ellipse cx="264.32" cy="75.83" rx="1.40" ry="1.40" fill="#3cff6a" transform="rotate(0 264.32 75.83)"/>
<ellipse cx="261.80" cy="93.35" rx="5.72" ry="4.62" fill="#2fc8ff" transform="rotate(0 261.80 93.35)"/>
<ellipse cx="261.80" cy="93.72" rx="3.96" ry="3.30" fill="#3cff6a" transform="rotate(0 261.80 93.72)"/>
<ellipse cx="261.80" cy="94.08" rx="2.20" ry="1.76" fill="#f4ff2c" transform="rotate(0 261.80 94.08)"/>
<ellipse cx="261.80" cy="60.50" rx="1.60" ry="3.20" fill="#a8a8b0" transform="rotate(0 261.80 60.50)"/>
</g>
<ellipse cx="256.62" cy="89.70" rx="4.00" ry="4.00" fill="#2fc8ff" transform="rotate(0 256.62 89.70)" opacity="0.9"/>
<ellipse cx="256.62" cy="89.70" rx="3.12" ry="3.12" fill="#3cff6a" transform="rotate(0 256.62 89.70)" opacity="0.9"/>
<ellipse cx="256.62" cy="89.70" rx="2.24" ry="2.24" fill="#f4ff2c" transform="rotate(0 256.62 89.70)" opacity="0.9"/>
<ellipse cx="256.62" cy="89.70" rx="1.44" ry="1.44" fill="#ff2a12" transform="rotate(0 256.62 89.70)" opacity="0.9"/>
<ellipse cx="266.98" cy="88.97" rx="4.00" ry="4.00" fill="#2fc8ff" transform="rotate(0 266.98 88.97)" opacity="0.9"/>
<ellipse cx="266.98" cy="88.97" rx="3.12" ry="3.12" fill="#3cff6a" transform="rotate(0 266.98 88.97)" opacity="0.9"/>
<ellipse cx="266.98" cy="88.97" rx="2.24" ry="2.24" fill="#f4ff2c" transform="rotate(0 266.98 88.97)" opacity="0.9"/>
<ellipse cx="266.98" cy="88.97" rx="1.44" ry="1.44" fill="#ff2a12" transform="rotate(0 266.98 88.97)" opacity="0.9"/>
<path d="M278.60,95.50 C279.72,104.25 277.98,112.99 279.10,122.00" stroke="#8a8a8a" stroke-width="1.3" fill="none" stroke-linecap="round"/>
<clipPath id="m2_1"><path d="M279.04,57.50 L279.63,58.84 L280.26,60.19 L281.05,61.53 L281.84,62.88 L282.51,64.22 L283.17,65.57 L283.67,66.91 L284.07,68.26 L284.47,69.60 L284.73,70.95 L284.92,72.29 L285.11,73.64 L285.31,74.98 L285.40,76.33 L285.48,77.67 L285.56,79.02 L285.65,80.36 L285.71,81.71 L285.76,83.05 L285.81,84.40 L285.86,85.74 L285.89,87.09 L285.84,88.43 L285.80,89.78 L285.74,91.12 L285.42,92.47 L285.11,93.81 L284.00,95.16 L282.62,96.50 L274.59,96.50 L273.20,95.16 L272.09,93.81 L271.78,92.47 L271.46,91.12 L271.40,89.78 L271.36,88.43 L271.31,87.09 L271.34,85.74 L271.39,84.40 L271.44,83.05 L271.49,81.71 L271.55,80.36 L271.64,79.02 L271.72,77.67 L271.80,76.33 L271.89,74.98 L272.09,73.64 L272.28,72.29 L272.47,70.95 L272.73,69.60 L273.13,68.26 L273.53,66.91 L274.03,65.57 L274.69,64.22 L275.36,62.88 L276.15,61.53 L276.94,60.19 L277.57,58.84 L278.16,57.50Z"/></clipPath>
<path d="M279.04,57.50 L279.63,58.84 L280.26,60.19 L281.05,61.53 L281.84,62.88 L282.51,64.22 L283.17,65.57 L283.67,66.91 L284.07,68.26 L284.47,69.60 L284.73,70.95 L284.92,72.29 L285.11,73.64 L285.31,74.98 L285.40,76.33 L285.48,77.67 L285.56,79.02 L285.65,80.36 L285.71,81.71 L285.76,83.05 L285.81,84.40 L285.86,85.74 L285.89,87.09 L285.84,88.43 L285.80,89.78 L285.74,91.12 L285.42,92.47 L285.11,93.81 L284.00,95.16 L282.62,96.50 L274.59,96.50 L273.20,95.16 L272.09,93.81 L271.78,92.47 L271.46,91.12 L271.40,89.78 L271.36,88.43 L271.31,87.09 L271.34,85.74 L271.39,84.40 L271.44,83.05 L271.49,81.71 L271.55,80.36 L271.64,79.02 L271.72,77.67 L271.80,76.33 L271.89,74.98 L272.09,73.64 L272.28,72.29 L272.47,70.95 L272.73,69.60 L273.13,68.26 L273.53,66.91 L274.03,65.57 L274.69,64.22 L275.36,62.88 L276.15,61.53 L276.94,60.19 L277.57,58.84 L278.16,57.50Z" fill="#5a48c8"/>
<g clip-path="url(#m2_1)">
<path d="M278.99,59.45 L279.52,60.66 L280.10,61.87 L280.81,63.08 L281.51,64.29 L282.12,65.50 L282.71,66.71 L283.16,67.92 L283.52,69.13 L283.89,70.34 L284.11,71.55 L284.29,72.76 L284.46,73.97 L284.64,75.18 L284.72,76.39 L284.79,77.61 L284.87,78.82 L284.94,80.03 L285.00,81.24 L285.05,82.45 L285.09,83.66 L285.14,84.87 L285.16,86.08 L285.12,87.29 L285.08,88.50 L285.02,89.71 L284.74,90.92 L284.46,92.13 L283.46,93.34 L282.21,94.55 L274.99,94.55 L273.74,93.34 L272.74,92.13 L272.46,90.92 L272.18,89.71 L272.12,88.50 L272.08,87.29 L272.04,86.08 L272.06,84.87 L272.11,83.66 L272.15,82.45 L272.20,81.24 L272.26,80.03 L272.33,78.82 L272.41,77.61 L272.48,76.39 L272.56,75.18 L272.74,73.97 L272.91,72.76 L273.09,71.55 L273.31,70.34 L273.68,69.13 L274.04,67.92 L274.49,66.71 L275.08,65.50 L275.69,64.29 L276.39,63.08 L277.10,61.87 L277.68,60.66 L278.21,59.45Z" fill="#2222ee"/>
<ellipse cx="278.60" cy="72.71" rx="8.05" ry="9.72" fill="#e2dcff" transform="rotate(0 278.60 72.71)"/>
<ellipse cx="278.60" cy="71.93" rx="5.60" ry="8.10" fill="#2222ee" transform="rotate(0 278.60 71.93)"/>
<ellipse cx="278.60" cy="62.18" rx="2.45" ry="3.24" fill="#2222ee" transform="rotate(0 278.60 62.18)"/>
<ellipse cx="278.60" cy="71.54" rx="1.10" ry="3.20" fill="#c8f0ff" transform="rotate(0 278.60 71.54)"/>
<ellipse cx="278.60" cy="93.38" rx="4.68" ry="3.78" fill="#2fc8ff" transform="rotate(0 278.60 93.38)"/>
<ellipse cx="278.60" cy="57.50" rx="1.60" ry="3.20" fill="#a8a8b0" transform="rotate(0 278.60 57.50)"/>
</g>
<ellipse cx="272.76" cy="88.70" rx="3.80" ry="3.80" fill="#2fc8ff" transform="rotate(0 272.76 88.70)" opacity="0.9"/>
<ellipse cx="272.76" cy="88.70" rx="2.96" ry="2.96" fill="#3cff6a" transform="rotate(0 272.76 88.70)" opacity="0.9"/>
<ellipse cx="272.76" cy="88.70" rx="2.13" ry="2.13" fill="#f4ff2c" transform="rotate(0 272.76 88.70)" opacity="0.9"/>
<ellipse cx="272.76" cy="88.70" rx="1.37" ry="1.37" fill="#ff2a12" transform="rotate(0 272.76 88.70)" opacity="0.9"/>
<ellipse cx="284.44" cy="87.92" rx="3.80" ry="3.80" fill="#2fc8ff" transform="rotate(0 284.44 87.92)" opacity="0.9"/>
<ellipse cx="284.44" cy="87.92" rx="2.96" ry="2.96" fill="#3cff6a" transform="rotate(0 284.44 87.92)" opacity="0.9"/>
<ellipse cx="284.44" cy="87.92" rx="2.13" ry="2.13" fill="#f4ff2c" transform="rotate(0 284.44 87.92)" opacity="0.9"/>
<ellipse cx="284.44" cy="87.92" rx="1.37" ry="1.37" fill="#ff2a12" transform="rotate(0 284.44 87.92)" opacity="0.9"/>
<path d="M293.30,94.00 C294.42,102.91 291.68,111.82 292.80,121.00" stroke="#8a8a8a" stroke-width="1.3" fill="none" stroke-linecap="round"/>
<clipPath id="m2_2"><path d="M293.74,57.50 L294.33,58.79 L294.96,60.09 L295.75,61.38 L296.54,62.67 L297.21,63.97 L297.87,65.26 L298.37,66.55 L298.77,67.84 L299.17,69.14 L299.43,70.43 L299.62,71.72 L299.81,73.02 L300.01,74.31 L300.10,75.60 L300.18,76.90 L300.26,78.19 L300.35,79.48 L300.41,80.78 L300.46,82.07 L300.51,83.36 L300.56,84.66 L300.59,85.95 L300.54,87.24 L300.50,88.53 L300.44,89.83 L300.12,91.12 L299.81,92.41 L298.70,93.71 L297.31,95.00 L289.29,95.00 L287.90,93.71 L286.79,92.41 L286.48,91.12 L286.16,89.83 L286.10,88.53 L286.06,87.24 L286.01,85.95 L286.04,84.66 L286.09,83.36 L286.14,82.07 L286.19,80.78 L286.25,79.48 L286.34,78.19 L286.42,76.90 L286.50,75.60 L286.59,74.31 L286.79,73.02 L286.98,71.72 L287.17,70.43 L287.43,69.14 L287.83,67.84 L288.23,66.55 L288.73,65.26 L289.39,63.97 L290.06,62.67 L290.85,61.38 L291.64,60.09 L292.27,58.79 L292.86,57.50Z"/></clipPath>
<path d="M293.74,57.50 L294.33,58.79 L294.96,60.09 L295.75,61.38 L296.54,62.67 L297.21,63.97 L297.87,65.26 L298.37,66.55 L298.77,67.84 L299.17,69.14 L299.43,70.43 L299.62,71.72 L299.81,73.02 L300.01,74.31 L300.10,75.60 L300.18,76.90 L300.26,78.19 L300.35,79.48 L300.41,80.78 L300.46,82.07 L300.51,83.36 L300.56,84.66 L300.59,85.95 L300.54,87.24 L300.50,88.53 L300.44,89.83 L300.12,91.12 L299.81,92.41 L298.70,93.71 L297.31,95.00 L289.29,95.00 L287.90,93.71 L286.79,92.41 L286.48,91.12 L286.16,89.83 L286.10,88.53 L286.06,87.24 L286.01,85.95 L286.04,84.66 L286.09,83.36 L286.14,82.07 L286.19,80.78 L286.25,79.48 L286.34,78.19 L286.42,76.90 L286.50,75.60 L286.59,74.31 L286.79,73.02 L286.98,71.72 L287.17,70.43 L287.43,69.14 L287.83,67.84 L288.23,66.55 L288.73,65.26 L289.39,63.97 L290.06,62.67 L290.85,61.38 L291.64,60.09 L292.27,58.79 L292.86,57.50Z" fill="#5a48c8"/>
<g clip-path="url(#m2_2)">
<path d="M293.69,59.38 L294.22,60.54 L294.80,61.70 L295.51,62.87 L296.21,64.03 L296.82,65.19 L297.41,66.36 L297.86,67.52 L298.22,68.69 L298.59,69.85 L298.81,71.01 L298.99,72.18 L299.16,73.34 L299.34,74.50 L299.42,75.67 L299.49,76.83 L299.57,78.00 L299.64,79.16 L299.70,80.32 L299.75,81.49 L299.79,82.65 L299.84,83.81 L299.86,84.98 L299.82,86.14 L299.78,87.31 L299.72,88.47 L299.44,89.63 L299.16,90.80 L298.16,91.96 L296.91,93.12 L289.69,93.12 L288.44,91.96 L287.44,90.80 L287.16,89.63 L286.88,88.47 L286.82,87.31 L286.78,86.14 L286.74,84.98 L286.76,83.81 L286.81,82.65 L286.85,81.49 L286.90,80.32 L286.96,79.16 L287.03,78.00 L287.11,76.83 L287.18,75.67 L287.26,74.50 L287.44,73.34 L287.61,72.18 L287.79,71.01 L288.01,69.85 L288.38,68.69 L288.74,67.52 L289.19,66.36 L289.78,65.19 L290.39,64.03 L291.09,62.87 L291.80,61.70 L292.38,60.54 L292.91,59.38Z" fill="#2222ee"/>
<ellipse cx="293.30" cy="72.12" rx="8.05" ry="9.72" fill="#e2dcff" transform="rotate(0 293.30 72.12)"/>
<ellipse cx="293.30" cy="71.38" rx="5.60" ry="8.10" fill="#2222ee" transform="rotate(0 293.30 71.38)"/>
<ellipse cx="293.30" cy="62.00" rx="2.45" ry="3.24" fill="#2222ee" transform="rotate(0 293.30 62.00)"/>
<ellipse cx="294.03" cy="65.75" rx="1.40" ry="1.40" fill="#e0e0ff" transform="rotate(0 294.03 65.75)"/>
<ellipse cx="291.84" cy="71.00" rx="1.00" ry="1.00" fill="#e0e0ff" transform="rotate(0 291.84 71.00)"/>
<ellipse cx="293.30" cy="91.25" rx="5.72" ry="4.62" fill="#2fc8ff" transform="rotate(0 293.30 91.25)"/>
<ellipse cx="293.30" cy="91.62" rx="3.96" ry="3.30" fill="#3cff6a" transform="rotate(0 293.30 91.62)"/>
<ellipse cx="293.30" cy="57.50" rx="1.60" ry="3.20" fill="#a8a8b0" transform="rotate(0 293.30 57.50)"/>
</g>
<ellipse cx="287.46" cy="87.50" rx="3.80" ry="3.80" fill="#2fc8ff" transform="rotate(0 287.46 87.50)" opacity="0.9"/>
<ellipse cx="287.46" cy="87.50" rx="2.96" ry="2.96" fill="#3cff6a" transform="rotate(0 287.46 87.50)" opacity="0.9"/>
<ellipse cx="287.46" cy="87.50" rx="2.13" ry="2.13" fill="#f4ff2c" transform="rotate(0 287.46 87.50)" opacity="0.9"/>
<ellipse cx="287.46" cy="87.50" rx="1.37" ry="1.37" fill="#ff2a12" transform="rotate(0 287.46 87.50)" opacity="0.9"/>
<ellipse cx="299.14" cy="86.75" rx="3.80" ry="3.80" fill="#2fc8ff" transform="rotate(0 299.14 86.75)" opacity="0.9"/>
<ellipse cx="299.14" cy="86.75" rx="2.96" ry="2.96" fill="#3cff6a" transform="rotate(0 299.14 86.75)" opacity="0.9"/>
<ellipse cx="299.14" cy="86.75" rx="2.13" ry="2.13" fill="#f4ff2c" transform="rotate(0 299.14 86.75)" opacity="0.9"/>
<ellipse cx="299.14" cy="86.75" rx="1.37" ry="1.37" fill="#ff2a12" transform="rotate(0 299.14 86.75)" opacity="0.9"/>
<path d="M309.20,94.30 C310.32,103.11 308.58,111.92 309.70,121.00" stroke="#8a8a8a" stroke-width="1.3" fill="none" stroke-linecap="round"/>
<clipPath id="m2_3"><path d="M309.64,57.80 L310.23,59.09 L310.86,60.39 L311.65,61.68 L312.44,62.97 L313.11,64.27 L313.77,65.56 L314.27,66.85 L314.67,68.14 L315.07,69.44 L315.33,70.73 L315.52,72.02 L315.71,73.32 L315.91,74.61 L316.00,75.90 L316.08,77.20 L316.16,78.49 L316.25,79.78 L316.31,81.08 L316.36,82.37 L316.41,83.66 L316.46,84.96 L316.49,86.25 L316.44,87.54 L316.40,88.83 L316.34,90.13 L316.02,91.42 L315.71,92.71 L314.60,94.01 L313.21,95.30 L305.19,95.30 L303.80,94.01 L302.69,92.71 L302.38,91.42 L302.06,90.13 L302.00,88.83 L301.96,87.54 L301.91,86.25 L301.94,84.96 L301.99,83.66 L302.04,82.37 L302.09,81.08 L302.15,79.78 L302.24,78.49 L302.32,77.20 L302.40,75.90 L302.49,74.61 L302.69,73.32 L302.88,72.02 L303.07,70.73 L303.33,69.44 L303.73,68.14 L304.13,66.85 L304.63,65.56 L305.29,64.27 L305.96,62.97 L306.75,61.68 L307.54,60.39 L308.17,59.09 L308.76,57.80Z"/></clipPath>
<path d="M309.64,57.80 L310.23,59.09 L310.86,60.39 L311.65,61.68 L312.44,62.97 L313.11,64.27 L313.77,65.56 L314.27,66.85 L314.67,68.14 L315.07,69.44 L315.33,70.73 L315.52,72.02 L315.71,73.32 L315.91,74.61 L316.00,75.90 L316.08,77.20 L316.16,78.49 L316.25,79.78 L316.31,81.08 L316.36,82.37 L316.41,83.66 L316.46,84.96 L316.49,86.25 L316.44,87.54 L316.40,88.83 L316.34,90.13 L316.02,91.42 L315.71,92.71 L314.60,94.01 L313.21,95.30 L305.19,95.30 L303.80,94.01 L302.69,92.71 L302.38,91.42 L302.06,90.13 L302.00,88.83 L301.96,87.54 L301.91,86.25 L301.94,84.96 L301.99,83.66 L302.04,82.37 L302.09,81.08 L302.15,79.78 L302.24,78.49 L302.32,77.20 L302.40,75.90 L302.49,74.61 L302.69,73.32 L302.88,72.02 L303.07,70.73 L303.33,69.44 L303.73,68.14 L304.13,66.85 L304.63,65.56 L305.29,64.27 L305.96,62.97 L306.75,61.68 L307.54,60.39 L308.17,59.09 L308.76,57.80Z" fill="#5a48c8"/>
<g clip-path="url(#m2_3)">
<path d="M309.59,59.67 L310.12,60.84 L310.70,62.00 L311.41,63.17 L312.11,64.33 L312.72,65.49 L313.31,66.66 L313.76,67.82 L314.12,68.99 L314.49,70.15 L314.71,71.31 L314.89,72.48 L315.06,73.64 L315.24,74.80 L315.32,75.97 L315.39,77.13 L315.47,78.30 L315.54,79.46 L315.60,80.62 L315.65,81.79 L315.69,82.95 L315.74,84.11 L315.76,85.28 L315.72,86.44 L315.68,87.61 L315.62,88.77 L315.34,89.93 L315.06,91.10 L314.06,92.26 L312.81,93.42 L305.59,93.42 L304.34,92.26 L303.34,91.10 L303.06,89.93 L302.78,88.77 L302.72,87.61 L302.68,86.44 L302.64,85.28 L302.66,84.11 L302.71,82.95 L302.75,81.79 L302.80,80.62 L302.86,79.46 L302.93,78.30 L303.01,77.13 L303.08,75.97 L303.16,74.80 L303.34,73.64 L303.51,72.48 L303.69,71.31 L303.91,70.15 L304.28,68.99 L304.64,67.82 L305.09,66.66 L305.68,65.49 L306.29,64.33 L306.99,63.17 L307.70,62.00 L308.28,60.84 L308.81,59.67Z" fill="#2222ee"/>
<ellipse cx="309.20" cy="72.80" rx="8.05" ry="9.72" fill="#e2dcff" transform="rotate(0 309.20 72.80)"/>
<ellipse cx="309.20" cy="72.05" rx="5.60" ry="8.10" fill="#2222ee" transform="rotate(0 309.20 72.05)"/>
<ellipse cx="309.20" cy="62.30" rx="2.45" ry="3.24" fill="#2222ee" transform="rotate(0 309.20 62.30)"/>
<ellipse cx="309.56" cy="71.30" rx="2.80" ry="4.20" fill="#2fc8ff" transform="rotate(0 309.56 71.30)"/>
<ellipse cx="309.56" cy="71.30" rx="2.18" ry="3.28" fill="#3cff6a" transform="rotate(0 309.56 71.30)"/>
<ellipse cx="309.56" cy="71.30" rx="1.57" ry="2.35" fill="#f4ff2c" transform="rotate(0 309.56 71.30)"/>
<ellipse cx="309.20" cy="91.55" rx="6.24" ry="5.04" fill="#2fc8ff" transform="rotate(0 309.20 91.55)"/>
<ellipse cx="309.20" cy="91.92" rx="4.32" ry="3.60" fill="#3cff6a" transform="rotate(0 309.20 91.92)"/>
<ellipse cx="309.20" cy="92.30" rx="2.40" ry="1.92" fill="#f4ff2c" transform="rotate(0 309.20 92.30)"/>
<ellipse cx="309.20" cy="57.80" rx="1.60" ry="3.20" fill="#a8a8b0" transform="rotate(0 309.20 57.80)"/>
</g>
<ellipse cx="303.65" cy="87.80" rx="3.80" ry="3.80" fill="#2fc8ff" transform="rotate(0 303.65 87.80)" opacity="0.9"/>
<ellipse cx="303.65" cy="87.80" rx="2.96" ry="2.96" fill="#3cff6a" transform="rotate(0 303.65 87.80)" opacity="0.9"/>
<ellipse cx="303.65" cy="87.80" rx="2.13" ry="2.13" fill="#f4ff2c" transform="rotate(0 303.65 87.80)" opacity="0.9"/>
<ellipse cx="303.65" cy="87.80" rx="1.37" ry="1.37" fill="#ff2a12" transform="rotate(0 303.65 87.80)" opacity="0.9"/>
<ellipse cx="314.75" cy="87.05" rx="3.80" ry="3.80" fill="#2fc8ff" transform="rotate(0 314.75 87.05)" opacity="0.9"/>
<ellipse cx="314.75" cy="87.05" rx="2.96" ry="2.96" fill="#3cff6a" transform="rotate(0 314.75 87.05)" opacity="0.9"/>
<ellipse cx="314.75" cy="87.05" rx="2.13" ry="2.13" fill="#f4ff2c" transform="rotate(0 314.75 87.05)" opacity="0.9"/>
<ellipse cx="314.75" cy="87.05" rx="1.37" ry="1.37" fill="#ff2a12" transform="rotate(0 314.75 87.05)" opacity="0.9"/>
<path d="M325.00,94.50 C326.12,103.25 324.38,111.99 325.50,121.00" stroke="#8a8a8a" stroke-width="1.3" fill="none" stroke-linecap="round"/>
<clipPath id="m2_4"><path d="M325.44,58.00 L326.03,59.29 L326.66,60.59 L327.45,61.88 L328.24,63.17 L328.91,64.47 L329.57,65.76 L330.07,67.05 L330.47,68.34 L330.87,69.64 L331.13,70.93 L331.32,72.22 L331.51,73.52 L331.71,74.81 L331.80,76.10 L331.88,77.40 L331.96,78.69 L332.05,79.98 L332.11,81.28 L332.16,82.57 L332.21,83.86 L332.26,85.16 L332.29,86.45 L332.24,87.74 L332.20,89.03 L332.14,90.33 L331.82,91.62 L331.51,92.91 L330.40,94.21 L329.01,95.50 L320.99,95.50 L319.60,94.21 L318.49,92.91 L318.18,91.62 L317.86,90.33 L317.80,89.03 L317.76,87.74 L317.71,86.45 L317.74,85.16 L317.79,83.86 L317.84,82.57 L317.89,81.28 L317.95,79.98 L318.04,78.69 L318.12,77.40 L318.20,76.10 L318.29,74.81 L318.49,73.52 L318.68,72.22 L318.87,70.93 L319.13,69.64 L319.53,68.34 L319.93,67.05 L320.43,65.76 L321.09,64.47 L321.76,63.17 L322.55,61.88 L323.34,60.59 L323.97,59.29 L324.56,58.00Z"/></clipPath>
<path d="M325.44,58.00 L326.03,59.29 L326.66,60.59 L327.45,61.88 L328.24,63.17 L328.91,64.47 L329.57,65.76 L330.07,67.05 L330.47,68.34 L330.87,69.64 L331.13,70.93 L331.32,72.22 L331.51,73.52 L331.71,74.81 L331.80,76.10 L331.88,77.40 L331.96,78.69 L332.05,79.98 L332.11,81.28 L332.16,82.57 L332.21,83.86 L332.26,85.16 L332.29,86.45 L332.24,87.74 L332.20,89.03 L332.14,90.33 L331.82,91.62 L331.51,92.91 L330.40,94.21 L329.01,95.50 L320.99,95.50 L319.60,94.21 L318.49,92.91 L318.18,91.62 L317.86,90.33 L317.80,89.03 L317.76,87.74 L317.71,86.45 L317.74,85.16 L317.79,83.86 L317.84,82.57 L317.89,81.28 L317.95,79.98 L318.04,78.69 L318.12,77.40 L318.20,76.10 L318.29,74.81 L318.49,73.52 L318.68,72.22 L318.87,70.93 L319.13,69.64 L319.53,68.34 L319.93,67.05 L320.43,65.76 L321.09,64.47 L321.76,63.17 L322.55,61.88 L323.34,60.59 L323.97,59.29 L324.56,58.00Z" fill="#5a48c8"/>
<g clip-path="url(#m2_4)">
<path d="M325.39,59.88 L325.92,61.04 L326.50,62.20 L327.21,63.37 L327.91,64.53 L328.52,65.69 L329.11,66.86 L329.56,68.02 L329.92,69.19 L330.29,70.35 L330.51,71.51 L330.69,72.68 L330.86,73.84 L331.04,75.00 L331.12,76.17 L331.19,77.33 L331.27,78.50 L331.34,79.66 L331.40,80.82 L331.45,81.99 L331.49,83.15 L331.54,84.31 L331.56,85.48 L331.52,86.64 L331.48,87.81 L331.42,88.97 L331.14,90.13 L330.86,91.30 L329.86,92.46 L328.61,93.62 L321.39,93.62 L320.14,92.46 L319.14,91.30 L318.86,90.13 L318.58,88.97 L318.52,87.81 L318.48,86.64 L318.44,85.48 L318.46,84.31 L318.51,83.15 L318.55,81.99 L318.60,80.82 L318.66,79.66 L318.73,78.50 L318.81,77.33 L318.88,76.17 L318.96,75.00 L319.14,73.84 L319.31,72.68 L319.49,71.51 L319.71,70.35 L320.08,69.19 L320.44,68.02 L320.89,66.86 L321.48,65.69 L322.09,64.53 L322.79,63.37 L323.50,62.20 L324.08,61.04 L324.61,59.88Z" fill="#2222ee"/>
<ellipse cx="325.00" cy="73.38" rx="8.05" ry="9.72" fill="#e2dcff" transform="rotate(0 325.00 73.38)"/>
<ellipse cx="325.00" cy="72.62" rx="5.60" ry="8.10" fill="#2222ee" transform="rotate(0 325.00 72.62)"/>
<ellipse cx="325.00" cy="62.50" rx="2.45" ry="3.24" fill="#2222ee" transform="rotate(0 325.00 62.50)"/>
<ellipse cx="325.00" cy="72.25" rx="4.40" ry="5.06" fill="#2fc8ff" transform="rotate(0 325.00 72.25)"/>
<ellipse cx="325.00" cy="72.25" rx="3.43" ry="3.95" fill="#3cff6a" transform="rotate(0 325.00 72.25)"/>
<ellipse cx="325.00" cy="72.25" rx="2.46" ry="2.83" fill="#f4ff2c" transform="rotate(0 325.00 72.25)"/>
<ellipse cx="325.00" cy="91.75" rx="6.24" ry="5.04" fill="#2fc8ff" transform="rotate(0 325.00 91.75)"/>
<ellipse cx="325.00" cy="92.12" rx="4.32" ry="3.60" fill="#3cff6a" transform="rotate(0 325.00 92.12)"/>
<ellipse cx="325.00" cy="92.50" rx="2.40" ry="1.92" fill="#f4ff2c" transform="rotate(0 325.00 92.50)"/>
<ellipse cx="325.00" cy="58.00" rx="1.60" ry="3.20" fill="#a8a8b0" transform="rotate(0 325.00 58.00)"/>
</g>
<ellipse cx="319.31" cy="88.00" rx="3.80" ry="3.80" fill="#2fc8ff" transform="rotate(0 319.31 88.00)" opacity="0.9"/>
<ellipse cx="319.31" cy="88.00" rx="2.96" ry="2.96" fill="#3cff6a" transform="rotate(0 319.31 88.00)" opacity="0.9"/>
<ellipse cx="319.31" cy="88.00" rx="2.13" ry="2.13" fill="#f4ff2c" transform="rotate(0 319.31 88.00)" opacity="0.9"/>
<ellipse cx="319.31" cy="88.00" rx="1.37" ry="1.37" fill="#ff2a12" transform="rotate(0 319.31 88.00)" opacity="0.9"/>
<ellipse cx="330.69" cy="87.25" rx="3.80" ry="3.80" fill="#2fc8ff" transform="rotate(0 330.69 87.25)" opacity="0.9"/>
<ellipse cx="330.69" cy="87.25" rx="2.96" ry="2.96" fill="#3cff6a" transform="rotate(0 330.69 87.25)" opacity="0.9"/>
<ellipse cx="330.69" cy="87.25" rx="2.13" ry="2.13" fill="#f4ff2c" transform="rotate(0 330.69 87.25)" opacity="0.9"/>
<ellipse cx="330.69" cy="87.25" rx="1.37" ry="1.37" fill="#ff2a12" transform="rotate(0 330.69 87.25)" opacity="0.9"/>
</g></g>
<g clip-path="url(#ci3)"><g filter="url(#soft)">
<rect x="340" y="46" width="86" height="83" fill="#464646"/>
<rect x="340" y="46" width="86" height="83" fill="url(#gBG)"/>
<rect x="340" y="46" width="86" height="7.5" fill="#3a3a3a"/>
<rect x="340" y="52.5" width="86" height="1.2" fill="#4a4a4a"/>
<rect x="340" y="46" width="86" height="1" fill="#1e1e1e"/>
<rect x="340" y="46" width="1" height="83" fill="#6a6a6a"/>
<rect x="425" y="46" width="1" height="83" fill="#242424"/>
<rect x="340" y="127.5" width="86" height="1.5" fill="#262626"/>
<path d="M351.80,86.50 C352.92,94.59 349.18,102.67 350.30,111.00" stroke="#6a6a6a" stroke-width="1.1" fill="none" stroke-linecap="round"/>
<path d="M351.80,86.50 L351.47,91.89" stroke="#a86070" stroke-width="1.2" fill="none" stroke-linecap="round"/>
<path d="M351.47,91.89 L351.05,98.75" stroke="#e0f0c8" stroke-width="1.2" fill="none" stroke-linecap="round"/>
<path d="M351.05,98.75 L350.78,103.16" stroke="#90e0ff" stroke-width="1.3" fill="none" stroke-linecap="round"/>
<path d="M350.78,103.16 L350.45,108.55" stroke="#3a3ad8" stroke-width="2.4" fill="none" stroke-linecap="round"/>
<clipPath id="m3_0"><path d="M352.19,52.50 L352.69,53.71 L353.20,54.91 L353.83,56.12 L354.52,57.33 L355.31,58.53 L356.16,59.74 L356.90,60.95 L357.57,62.16 L358.16,63.36 L358.56,64.57 L358.97,65.78 L359.25,66.98 L359.34,68.19 L359.43,69.40 L359.51,70.60 L359.60,71.81 L359.57,73.02 L359.54,74.22 L359.52,75.43 L359.49,76.64 L359.46,77.84 L359.39,79.05 L359.19,80.26 L358.98,81.47 L358.77,82.67 L358.29,83.88 L357.52,85.09 L356.49,86.29 L354.14,87.50 L349.46,87.50 L347.11,86.29 L346.08,85.09 L345.31,83.88 L344.83,82.67 L344.62,81.47 L344.41,80.26 L344.21,79.05 L344.14,77.84 L344.11,76.64 L344.08,75.43 L344.06,74.22 L344.03,73.02 L344.00,71.81 L344.09,70.60 L344.17,69.40 L344.26,68.19 L344.35,66.98 L344.63,65.78 L345.04,64.57 L345.44,63.36 L346.03,62.16 L346.70,60.95 L347.44,59.74 L348.29,58.53 L349.08,57.33 L349.77,56.12 L350.40,54.91 L350.91,53.71 L351.41,52.50Z"/></clipPath>
<path d="M352.19,52.50 L352.69,53.71 L353.20,54.91 L353.83,56.12 L354.52,57.33 L355.31,58.53 L356.16,59.74 L356.90,60.95 L357.57,62.16 L358.16,63.36 L358.56,64.57 L358.97,65.78 L359.25,66.98 L359.34,68.19 L359.43,69.40 L359.51,70.60 L359.60,71.81 L359.57,73.02 L359.54,74.22 L359.52,75.43 L359.49,76.64 L359.46,77.84 L359.39,79.05 L359.19,80.26 L358.98,81.47 L358.77,82.67 L358.29,83.88 L357.52,85.09 L356.49,86.29 L354.14,87.50 L349.46,87.50 L347.11,86.29 L346.08,85.09 L345.31,83.88 L344.83,82.67 L344.62,81.47 L344.41,80.26 L344.21,79.05 L344.14,77.84 L344.11,76.64 L344.08,75.43 L344.06,74.22 L344.03,73.02 L344.00,71.81 L344.09,70.60 L344.17,69.40 L344.26,68.19 L344.35,66.98 L344.63,65.78 L345.04,64.57 L345.44,63.36 L346.03,62.16 L346.70,60.95 L347.44,59.74 L348.29,58.53 L349.08,57.33 L349.77,56.12 L350.40,54.91 L350.91,53.71 L351.41,52.50Z" fill="#4438c8"/>
<g clip-path="url(#m3_0)">
<path d="M352.18,53.02 L352.67,54.20 L353.16,55.37 L353.77,56.54 L354.44,57.71 L355.21,58.88 L356.03,60.05 L356.74,61.22 L357.40,62.39 L357.97,63.56 L358.36,64.73 L358.75,65.90 L359.02,67.07 L359.11,68.24 L359.20,69.41 L359.28,70.59 L359.36,71.76 L359.34,72.93 L359.31,74.10 L359.29,75.27 L359.26,76.44 L359.23,77.61 L359.16,78.78 L358.96,79.95 L358.76,81.12 L358.56,82.29 L358.10,83.46 L357.35,84.63 L356.35,85.80 L354.07,86.97 L349.53,86.97 L347.25,85.80 L346.25,84.63 L345.50,83.46 L345.04,82.29 L344.84,81.12 L344.64,79.95 L344.44,78.78 L344.37,77.61 L344.34,76.44 L344.31,75.27 L344.29,74.10 L344.26,72.93 L344.24,71.76 L344.32,70.59 L344.40,69.41 L344.49,68.24 L344.58,67.07 L344.85,65.90 L345.24,64.73 L345.63,63.56 L346.20,62.39 L346.86,61.22 L347.57,60.05 L348.39,58.88 L349.16,57.71 L349.83,56.54 L350.44,55.37 L350.93,54.20 L351.42,53.02Z" fill="#f0f080"/>
<path d="M352.15,54.25 L352.60,55.34 L353.06,56.42 L353.63,57.51 L354.25,58.59 L354.96,59.68 L355.72,60.77 L356.39,61.85 L356.99,62.94 L357.52,64.03 L357.89,65.11 L358.25,66.20 L358.50,67.28 L358.58,68.37 L358.66,69.46 L358.74,70.54 L358.82,71.63 L358.79,72.72 L358.77,73.80 L358.75,74.89 L358.72,75.97 L358.70,77.06 L358.63,78.15 L358.45,79.23 L358.26,80.32 L358.07,81.41 L357.64,82.49 L356.95,83.58 L356.02,84.66 L353.91,85.75 L349.69,85.75 L347.58,84.66 L346.65,83.58 L345.96,82.49 L345.53,81.41 L345.34,80.32 L345.15,79.23 L344.97,78.15 L344.90,77.06 L344.88,75.97 L344.85,74.89 L344.83,73.80 L344.81,72.72 L344.78,71.63 L344.86,70.54 L344.94,69.46 L345.02,68.37 L345.10,67.28 L345.35,66.20 L345.71,65.11 L346.08,64.03 L346.61,62.94 L347.21,61.85 L347.88,60.77 L348.64,59.68 L349.35,58.59 L349.97,57.51 L350.54,56.42 L351.00,55.34 L351.45,54.25Z" fill="#ee1a1a"/>
<ellipse cx="351.80" cy="74.20" rx="7.20" ry="11.00" fill="#ee1a1a" transform="rotate(0 351.80 74.20)"/>
<ellipse cx="351.80" cy="57.40" rx="2.40" ry="4.00" fill="#f4ff30" transform="rotate(0 351.80 57.40)"/>
<ellipse cx="351.80" cy="58.10" rx="1.20" ry="2.20" fill="#ff2a12" transform="rotate(0 351.80 58.10)"/>
<ellipse cx="349.46" cy="68.25" rx="1.60" ry="1.20" fill="#f4ff30" transform="rotate(0 349.46 68.25)"/>
</g>
<path d="M367.80,88.50 C368.92,97.05 365.68,105.59 366.80,114.40" stroke="#6a6a6a" stroke-width="1.1" fill="none" stroke-linecap="round"/>
<path d="M367.80,88.50 L367.58,94.20" stroke="#a86070" stroke-width="1.2" fill="none" stroke-linecap="round"/>
<path d="M367.58,94.20 L367.30,101.45" stroke="#e0f0c8" stroke-width="1.2" fill="none" stroke-linecap="round"/>
<path d="M367.30,101.45 L367.12,106.11" stroke="#90e0ff" stroke-width="1.3" fill="none" stroke-linecap="round"/>
<path d="M367.12,106.11 L366.90,111.81" stroke="#3a3ad8" stroke-width="2.4" fill="none" stroke-linecap="round"/>
<clipPath id="m3_1"><path d="M368.19,52.00 L368.69,53.29 L369.20,54.59 L369.83,55.88 L370.52,57.17 L371.31,58.47 L372.16,59.76 L372.90,61.05 L373.57,62.34 L374.16,63.64 L374.56,64.93 L374.97,66.22 L375.25,67.52 L375.34,68.81 L375.43,70.10 L375.51,71.40 L375.60,72.69 L375.57,73.98 L375.54,75.28 L375.52,76.57 L375.49,77.86 L375.46,79.16 L375.39,80.45 L375.19,81.74 L374.98,83.03 L374.77,84.33 L374.29,85.62 L373.52,86.91 L372.49,88.21 L370.14,89.50 L365.46,89.50 L363.11,88.21 L362.08,86.91 L361.31,85.62 L360.83,84.33 L360.62,83.03 L360.41,81.74 L360.21,80.45 L360.14,79.16 L360.11,77.86 L360.08,76.57 L360.06,75.28 L360.03,73.98 L360.00,72.69 L360.09,71.40 L360.17,70.10 L360.26,68.81 L360.35,67.52 L360.63,66.22 L361.04,64.93 L361.44,63.64 L362.03,62.34 L362.70,61.05 L363.44,59.76 L364.29,58.47 L365.08,57.17 L365.77,55.88 L366.40,54.59 L366.91,53.29 L367.41,52.00Z"/></clipPath>
<path d="M368.19,52.00 L368.69,53.29 L369.20,54.59 L369.83,55.88 L370.52,57.17 L371.31,58.47 L372.16,59.76 L372.90,61.05 L373.57,62.34 L374.16,63.64 L374.56,64.93 L374.97,66.22 L375.25,67.52 L375.34,68.81 L375.43,70.10 L375.51,71.40 L375.60,72.69 L375.57,73.98 L375.54,75.28 L375.52,76.57 L375.49,77.86 L375.46,79.16 L375.39,80.45 L375.19,81.74 L374.98,83.03 L374.77,84.33 L374.29,85.62 L373.52,86.91 L372.49,88.21 L370.14,89.50 L365.46,89.50 L363.11,88.21 L362.08,86.91 L361.31,85.62 L360.83,84.33 L360.62,83.03 L360.41,81.74 L360.21,80.45 L360.14,79.16 L360.11,77.86 L360.08,76.57 L360.06,75.28 L360.03,73.98 L360.00,72.69 L360.09,71.40 L360.17,70.10 L360.26,68.81 L360.35,67.52 L360.63,66.22 L361.04,64.93 L361.44,63.64 L362.03,62.34 L362.70,61.05 L363.44,59.76 L364.29,58.47 L365.08,57.17 L365.77,55.88 L366.40,54.59 L366.91,53.29 L367.41,52.00Z" fill="#4438c8"/>
<g clip-path="url(#m3_1)">
<path d="M368.18,52.56 L368.67,53.82 L369.16,55.07 L369.77,56.33 L370.44,57.58 L371.21,58.83 L372.03,60.09 L372.74,61.34 L373.40,62.60 L373.97,63.85 L374.36,65.11 L374.75,66.36 L375.02,67.61 L375.11,68.87 L375.20,70.12 L375.28,71.38 L375.36,72.63 L375.34,73.89 L375.31,75.14 L375.29,76.39 L375.26,77.65 L375.23,78.90 L375.16,80.16 L374.96,81.41 L374.76,82.67 L374.56,83.92 L374.10,85.17 L373.35,86.43 L372.35,87.68 L370.07,88.94 L365.53,88.94 L363.25,87.68 L362.25,86.43 L361.50,85.17 L361.04,83.92 L360.84,82.67 L360.64,81.41 L360.44,80.16 L360.37,78.90 L360.34,77.65 L360.31,76.39 L360.29,75.14 L360.26,73.89 L360.24,72.63 L360.32,71.38 L360.40,70.12 L360.49,68.87 L360.58,67.61 L360.85,66.36 L361.24,65.11 L361.63,63.85 L362.20,62.60 L362.86,61.34 L363.57,60.09 L364.39,58.83 L365.16,57.58 L365.83,56.33 L366.44,55.07 L366.93,53.82 L367.42,52.56Z" fill="#f0f080"/>
<path d="M368.15,53.88 L368.60,55.04 L369.06,56.20 L369.63,57.37 L370.25,58.53 L370.96,59.69 L371.72,60.86 L372.39,62.02 L372.99,63.19 L373.52,64.35 L373.89,65.51 L374.25,66.68 L374.50,67.84 L374.58,69.00 L374.66,70.17 L374.74,71.33 L374.82,72.50 L374.79,73.66 L374.77,74.82 L374.75,75.99 L374.72,77.15 L374.70,78.31 L374.63,79.48 L374.45,80.64 L374.26,81.81 L374.07,82.97 L373.64,84.13 L372.95,85.30 L372.02,86.46 L369.91,87.62 L365.69,87.62 L363.58,86.46 L362.65,85.30 L361.96,84.13 L361.53,82.97 L361.34,81.81 L361.15,80.64 L360.97,79.48 L360.90,78.31 L360.88,77.15 L360.85,75.99 L360.83,74.82 L360.81,73.66 L360.78,72.50 L360.86,71.33 L360.94,70.17 L361.02,69.00 L361.10,67.84 L361.35,66.68 L361.71,65.51 L362.08,64.35 L362.61,63.19 L363.21,62.02 L363.88,60.86 L364.64,59.69 L365.35,58.53 L365.97,57.37 L366.54,56.20 L367.00,55.04 L367.45,53.88Z" fill="#ee1a1a"/>
<ellipse cx="367.80" cy="75.25" rx="7.20" ry="11.00" fill="#ee1a1a" transform="rotate(0 367.80 75.25)"/>
<ellipse cx="367.80" cy="58.00" rx="3.00" ry="4.20" fill="#3cff6a" transform="rotate(0 367.80 58.00)"/>
<ellipse cx="367.80" cy="58.00" rx="2.20" ry="3.40" fill="#f4ff30" transform="rotate(0 367.80 58.00)"/>
<ellipse cx="367.80" cy="59.50" rx="1.10" ry="1.40" fill="#ff2a12" transform="rotate(0 367.80 59.50)"/>
<ellipse cx="367.80" cy="79.00" rx="2.40" ry="2.60" fill="#f4ff30" transform="rotate(0 367.80 79.00)"/>
</g>
<path d="M383.80,87.00 C384.92,95.58 383.18,104.16 384.30,113.00" stroke="#6a6a6a" stroke-width="1.1" fill="none" stroke-linecap="round"/>
<path d="M383.80,87.00 L383.91,92.72" stroke="#a86070" stroke-width="1.2" fill="none" stroke-linecap="round"/>
<path d="M383.91,92.72 L384.05,100.00" stroke="#e0f0c8" stroke-width="1.2" fill="none" stroke-linecap="round"/>
<path d="M384.05,100.00 L384.14,104.68" stroke="#90e0ff" stroke-width="1.3" fill="none" stroke-linecap="round"/>
<path d="M384.14,104.68 L384.25,110.40" stroke="#3a3ad8" stroke-width="2.4" fill="none" stroke-linecap="round"/>
<clipPath id="m3_2"><path d="M384.19,52.00 L384.69,53.24 L385.20,54.48 L385.83,55.72 L386.52,56.97 L387.31,58.21 L388.16,59.45 L388.90,60.69 L389.57,61.93 L390.16,63.17 L390.56,64.41 L390.97,65.66 L391.25,66.90 L391.34,68.14 L391.43,69.38 L391.51,70.62 L391.60,71.86 L391.57,73.10 L391.54,74.34 L391.52,75.59 L391.49,76.83 L391.46,78.07 L391.39,79.31 L391.19,80.55 L390.98,81.79 L390.77,83.03 L390.29,84.28 L389.52,85.52 L388.49,86.76 L386.14,88.00 L381.46,88.00 L379.11,86.76 L378.08,85.52 L377.31,84.28 L376.83,83.03 L376.62,81.79 L376.41,80.55 L376.21,79.31 L376.14,78.07 L376.11,76.83 L376.08,75.59 L376.06,74.34 L376.03,73.10 L376.00,71.86 L376.09,70.62 L376.17,69.38 L376.26,68.14 L376.35,66.90 L376.63,65.66 L377.04,64.41 L377.44,63.17 L378.03,61.93 L378.70,60.69 L379.44,59.45 L380.29,58.21 L381.08,56.97 L381.77,55.72 L382.40,54.48 L382.91,53.24 L383.41,52.00Z"/></clipPath>
<path d="M384.19,52.00 L384.69,53.24 L385.20,54.48 L385.83,55.72 L386.52,56.97 L387.31,58.21 L388.16,59.45 L388.90,60.69 L389.57,61.93 L390.16,63.17 L390.56,64.41 L390.97,65.66 L391.25,66.90 L391.34,68.14 L391.43,69.38 L391.51,70.62 L391.60,71.86 L391.57,73.10 L391.54,74.34 L391.52,75.59 L391.49,76.83 L391.46,78.07 L391.39,79.31 L391.19,80.55 L390.98,81.79 L390.77,83.03 L390.29,84.28 L389.52,85.52 L388.49,86.76 L386.14,88.00 L381.46,88.00 L379.11,86.76 L378.08,85.52 L377.31,84.28 L376.83,83.03 L376.62,81.79 L376.41,80.55 L376.21,79.31 L376.14,78.07 L376.11,76.83 L376.08,75.59 L376.06,74.34 L376.03,73.10 L376.00,71.86 L376.09,70.62 L376.17,69.38 L376.26,68.14 L376.35,66.90 L376.63,65.66 L377.04,64.41 L377.44,63.17 L378.03,61.93 L378.70,60.69 L379.44,59.45 L380.29,58.21 L381.08,56.97 L381.77,55.72 L382.40,54.48 L382.91,53.24 L383.41,52.00Z" fill="#4438c8"/>
<g clip-path="url(#m3_2)">
<path d="M384.18,52.54 L384.67,53.74 L385.16,54.95 L385.77,56.15 L386.44,57.36 L387.21,58.56 L388.03,59.76 L388.74,60.97 L389.40,62.17 L389.97,63.38 L390.36,64.58 L390.75,65.79 L391.02,66.99 L391.11,68.19 L391.20,69.40 L391.28,70.60 L391.36,71.81 L391.34,73.01 L391.31,74.21 L391.29,75.42 L391.26,76.62 L391.23,77.83 L391.16,79.03 L390.96,80.24 L390.76,81.44 L390.56,82.64 L390.10,83.85 L389.35,85.05 L388.35,86.26 L386.07,87.46 L381.53,87.46 L379.25,86.26 L378.25,85.05 L377.50,83.85 L377.04,82.64 L376.84,81.44 L376.64,80.24 L376.44,79.03 L376.37,77.83 L376.34,76.62 L376.31,75.42 L376.29,74.21 L376.26,73.01 L376.24,71.81 L376.32,70.60 L376.40,69.40 L376.49,68.19 L376.58,66.99 L376.85,65.79 L377.24,64.58 L377.63,63.38 L378.20,62.17 L378.86,60.97 L379.57,59.76 L380.39,58.56 L381.16,57.36 L381.83,56.15 L382.44,54.95 L382.93,53.74 L383.42,52.54Z" fill="#f0f080"/>
<path d="M384.15,53.80 L384.60,54.92 L385.06,56.03 L385.63,57.15 L386.25,58.27 L386.96,59.39 L387.72,60.50 L388.39,61.62 L388.99,62.74 L389.52,63.86 L389.89,64.97 L390.25,66.09 L390.50,67.21 L390.58,68.32 L390.66,69.44 L390.74,70.56 L390.82,71.68 L390.79,72.79 L390.77,73.91 L390.75,75.03 L390.72,76.14 L390.70,77.26 L390.63,78.38 L390.45,79.50 L390.26,80.61 L390.07,81.73 L389.64,82.85 L388.95,83.97 L388.02,85.08 L385.91,86.20 L381.69,86.20 L379.58,85.08 L378.65,83.97 L377.96,82.85 L377.53,81.73 L377.34,80.61 L377.15,79.50 L376.97,78.38 L376.90,77.26 L376.88,76.14 L376.85,75.03 L376.83,73.91 L376.81,72.79 L376.78,71.68 L376.86,70.56 L376.94,69.44 L377.02,68.32 L377.10,67.21 L377.35,66.09 L377.71,64.97 L378.08,63.86 L378.61,62.74 L379.21,61.62 L379.88,60.50 L380.64,59.39 L381.35,58.27 L381.97,57.15 L382.54,56.03 L383.00,54.92 L383.45,53.80Z" fill="#ee1a1a"/>
<ellipse cx="383.80" cy="74.32" rx="7.20" ry="11.00" fill="#ee1a1a" transform="rotate(0 383.80 74.32)"/>
<ellipse cx="383.80" cy="57.76" rx="2.80" ry="4.00" fill="#f4ff30" transform="rotate(0 383.80 57.76)"/>
<ellipse cx="383.80" cy="59.20" rx="1.20" ry="1.40" fill="#ff2a12" transform="rotate(0 383.80 59.20)"/>
<ellipse cx="382.63" cy="73.60" rx="1.60" ry="1.60" fill="#3cff6a" transform="rotate(0 382.63 73.60)"/>
<ellipse cx="382.63" cy="73.60" rx="1.00" ry="1.00" fill="#f4ff30" transform="rotate(0 382.63 73.60)"/>
</g>
<path d="M398.80,88.30 C399.92,97.11 399.18,105.92 400.30,115.00" stroke="#6a6a6a" stroke-width="1.1" fill="none" stroke-linecap="round"/>
<path d="M398.80,88.30 L399.13,94.17" stroke="#a86070" stroke-width="1.2" fill="none" stroke-linecap="round"/>
<path d="M399.13,94.17 L399.55,101.65" stroke="#e0f0c8" stroke-width="1.2" fill="none" stroke-linecap="round"/>
<path d="M399.55,101.65 L399.82,106.46" stroke="#90e0ff" stroke-width="1.3" fill="none" stroke-linecap="round"/>
<path d="M399.82,106.46 L400.15,112.33" stroke="#3a3ad8" stroke-width="2.4" fill="none" stroke-linecap="round"/>
<clipPath id="m3_3"><path d="M399.19,52.30 L399.69,53.58 L400.20,54.85 L400.83,56.13 L401.52,57.40 L402.31,58.68 L403.16,59.96 L403.90,61.23 L404.57,62.51 L405.16,63.78 L405.56,65.06 L405.97,66.33 L406.25,67.61 L406.34,68.89 L406.43,70.16 L406.51,71.44 L406.60,72.71 L406.57,73.99 L406.54,75.27 L406.52,76.54 L406.49,77.82 L406.46,79.09 L406.39,80.37 L406.19,81.64 L405.98,82.92 L405.77,84.20 L405.29,85.47 L404.52,86.75 L403.49,88.02 L401.14,89.30 L396.46,89.30 L394.11,88.02 L393.08,86.75 L392.31,85.47 L391.83,84.20 L391.62,82.92 L391.41,81.64 L391.21,80.37 L391.14,79.09 L391.11,77.82 L391.08,76.54 L391.06,75.27 L391.03,73.99 L391.00,72.71 L391.09,71.44 L391.17,70.16 L391.26,68.89 L391.35,67.61 L391.63,66.33 L392.04,65.06 L392.44,63.78 L393.03,62.51 L393.70,61.23 L394.44,59.96 L395.29,58.68 L396.08,57.40 L396.77,56.13 L397.40,54.85 L397.91,53.58 L398.41,52.30Z"/></clipPath>
<path d="M399.19,52.30 L399.69,53.58 L400.20,54.85 L400.83,56.13 L401.52,57.40 L402.31,58.68 L403.16,59.96 L403.90,61.23 L404.57,62.51 L405.16,63.78 L405.56,65.06 L405.97,66.33 L406.25,67.61 L406.34,68.89 L406.43,70.16 L406.51,71.44 L406.60,72.71 L406.57,73.99 L406.54,75.27 L406.52,76.54 L406.49,77.82 L406.46,79.09 L406.39,80.37 L406.19,81.64 L405.98,82.92 L405.77,84.20 L405.29,85.47 L404.52,86.75 L403.49,88.02 L401.14,89.30 L396.46,89.30 L394.11,88.02 L393.08,86.75 L392.31,85.47 L391.83,84.20 L391.62,82.92 L391.41,81.64 L391.21,80.37 L391.14,79.09 L391.11,77.82 L391.08,76.54 L391.06,75.27 L391.03,73.99 L391.00,72.71 L391.09,71.44 L391.17,70.16 L391.26,68.89 L391.35,67.61 L391.63,66.33 L392.04,65.06 L392.44,63.78 L393.03,62.51 L393.70,61.23 L394.44,59.96 L395.29,58.68 L396.08,57.40 L396.77,56.13 L397.40,54.85 L397.91,53.58 L398.41,52.30Z" fill="#4438c8"/>
<g clip-path="url(#m3_3)">
<path d="M399.18,52.85 L399.67,54.09 L400.16,55.33 L400.77,56.57 L401.44,57.81 L402.21,59.04 L403.03,60.28 L403.74,61.52 L404.40,62.76 L404.97,63.99 L405.36,65.23 L405.75,66.47 L406.02,67.71 L406.11,68.94 L406.20,70.18 L406.28,71.42 L406.36,72.66 L406.34,73.89 L406.31,75.13 L406.29,76.37 L406.26,77.61 L406.23,78.84 L406.16,80.08 L405.96,81.32 L405.76,82.56 L405.56,83.79 L405.10,85.03 L404.35,86.27 L403.35,87.51 L401.07,88.75 L396.53,88.75 L394.25,87.51 L393.25,86.27 L392.50,85.03 L392.04,83.79 L391.84,82.56 L391.64,81.32 L391.44,80.08 L391.37,78.84 L391.34,77.61 L391.31,76.37 L391.29,75.13 L391.26,73.89 L391.24,72.66 L391.32,71.42 L391.40,70.18 L391.49,68.94 L391.58,67.71 L391.85,66.47 L392.24,65.23 L392.63,63.99 L393.20,62.76 L393.86,61.52 L394.57,60.28 L395.39,59.04 L396.16,57.81 L396.83,56.57 L397.44,55.33 L397.93,54.09 L398.42,52.85Z" fill="#f0f080"/>
<path d="M399.15,54.15 L399.60,55.30 L400.06,56.45 L400.63,57.59 L401.25,58.74 L401.96,59.89 L402.72,61.04 L403.39,62.19 L403.99,63.34 L404.52,64.48 L404.89,65.63 L405.25,66.78 L405.50,67.93 L405.58,69.08 L405.66,70.23 L405.74,71.37 L405.82,72.52 L405.79,73.67 L405.77,74.82 L405.75,75.97 L405.72,77.12 L405.70,78.26 L405.63,79.41 L405.45,80.56 L405.26,81.71 L405.07,82.86 L404.64,84.01 L403.95,85.15 L403.02,86.30 L400.91,87.45 L396.69,87.45 L394.58,86.30 L393.65,85.15 L392.96,84.01 L392.53,82.86 L392.34,81.71 L392.15,80.56 L391.97,79.41 L391.90,78.26 L391.88,77.12 L391.85,75.97 L391.83,74.82 L391.81,73.67 L391.78,72.52 L391.86,71.37 L391.94,70.23 L392.02,69.08 L392.10,67.93 L392.35,66.78 L392.71,65.63 L393.08,64.48 L393.61,63.34 L394.21,62.19 L394.88,61.04 L395.64,59.89 L396.35,58.74 L396.97,57.59 L397.54,56.45 L398.00,55.30 L398.45,54.15Z" fill="#ee1a1a"/>
<ellipse cx="398.80" cy="75.24" rx="7.20" ry="11.00" fill="#ee1a1a" transform="rotate(0 398.80 75.24)"/>
<ellipse cx="398.80" cy="58.22" rx="2.80" ry="4.00" fill="#f4ff30" transform="rotate(0 398.80 58.22)"/>
<ellipse cx="398.80" cy="59.70" rx="1.30" ry="1.50" fill="#ff2a12" transform="rotate(0 398.80 59.70)"/>
<ellipse cx="398.41" cy="74.50" rx="2.00" ry="2.00" fill="#f4ff30" transform="rotate(0 398.41 74.50)"/>
</g>
<path d="M414.60,86.50 C415.72,95.25 413.48,103.99 414.60,113.00" stroke="#6a6a6a" stroke-width="1.1" fill="none" stroke-linecap="round"/>
<path d="M414.60,86.50 L414.60,92.33" stroke="#a86070" stroke-width="1.2" fill="none" stroke-linecap="round"/>
<path d="M414.60,92.33 L414.60,99.75" stroke="#e0f0c8" stroke-width="1.2" fill="none" stroke-linecap="round"/>
<path d="M414.60,99.75 L414.60,104.52" stroke="#90e0ff" stroke-width="1.3" fill="none" stroke-linecap="round"/>
<path d="M414.60,104.52 L414.60,110.35" stroke="#3a3ad8" stroke-width="2.4" fill="none" stroke-linecap="round"/>
<clipPath id="m3_4"><path d="M414.98,52.50 L415.47,53.71 L415.96,54.91 L416.58,56.12 L417.25,57.33 L418.02,58.53 L418.85,59.74 L419.57,60.95 L420.22,62.16 L420.80,63.36 L421.19,64.57 L421.58,65.78 L421.85,66.98 L421.94,68.19 L422.03,69.40 L422.12,70.60 L422.20,71.81 L422.17,73.02 L422.15,74.22 L422.12,75.43 L422.09,76.64 L422.07,77.84 L422.00,79.05 L421.80,80.26 L421.59,81.47 L421.39,82.67 L420.93,83.88 L420.17,85.09 L419.17,86.29 L416.88,87.50 L412.32,87.50 L410.03,86.29 L409.03,85.09 L408.27,83.88 L407.81,82.67 L407.61,81.47 L407.40,80.26 L407.20,79.05 L407.13,77.84 L407.11,76.64 L407.08,75.43 L407.05,74.22 L407.03,73.02 L407.00,71.81 L407.08,70.60 L407.17,69.40 L407.26,68.19 L407.35,66.98 L407.62,65.78 L408.01,64.57 L408.40,63.36 L408.98,62.16 L409.63,60.95 L410.35,59.74 L411.18,58.53 L411.95,57.33 L412.62,56.12 L413.24,54.91 L413.73,53.71 L414.22,52.50Z"/></clipPath>
<path d="M414.98,52.50 L415.47,53.71 L415.96,54.91 L416.58,56.12 L417.25,57.33 L418.02,58.53 L418.85,59.74 L419.57,60.95 L420.22,62.16 L420.80,63.36 L421.19,64.57 L421.58,65.78 L421.85,66.98 L421.94,68.19 L422.03,69.40 L422.12,70.60 L422.20,71.81 L422.17,73.02 L422.15,74.22 L422.12,75.43 L422.09,76.64 L422.07,77.84 L422.00,79.05 L421.80,80.26 L421.59,81.47 L421.39,82.67 L420.93,83.88 L420.17,85.09 L419.17,86.29 L416.88,87.50 L412.32,87.50 L410.03,86.29 L409.03,85.09 L408.27,83.88 L407.81,82.67 L407.61,81.47 L407.40,80.26 L407.20,79.05 L407.13,77.84 L407.11,76.64 L407.08,75.43 L407.05,74.22 L407.03,73.02 L407.00,71.81 L407.08,70.60 L407.17,69.40 L407.26,68.19 L407.35,66.98 L407.62,65.78 L408.01,64.57 L408.40,63.36 L408.98,62.16 L409.63,60.95 L410.35,59.74 L411.18,58.53 L411.95,57.33 L412.62,56.12 L413.24,54.91 L413.73,53.71 L414.22,52.50Z" fill="#4438c8"/>
<g clip-path="url(#m3_4)">
<path d="M414.97,53.02 L415.45,54.20 L415.92,55.37 L416.52,56.54 L417.17,57.71 L417.92,58.88 L418.72,60.05 L419.42,61.22 L420.05,62.39 L420.61,63.56 L420.99,64.73 L421.37,65.90 L421.64,67.07 L421.72,68.24 L421.81,69.41 L421.89,70.59 L421.97,71.76 L421.95,72.93 L421.92,74.10 L421.89,75.27 L421.87,76.44 L421.84,77.61 L421.78,78.78 L421.58,79.95 L421.38,81.12 L421.19,82.29 L420.74,83.46 L420.01,84.63 L419.04,85.80 L416.81,86.97 L412.39,86.97 L410.16,85.80 L409.19,84.63 L408.46,83.46 L408.01,82.29 L407.82,81.12 L407.62,79.95 L407.42,78.78 L407.36,77.61 L407.33,76.44 L407.31,75.27 L407.28,74.10 L407.25,72.93 L407.23,71.76 L407.31,70.59 L407.39,69.41 L407.48,68.24 L407.56,67.07 L407.83,65.90 L408.21,64.73 L408.59,63.56 L409.15,62.39 L409.78,61.22 L410.48,60.05 L411.28,58.88 L412.03,57.71 L412.68,56.54 L413.28,55.37 L413.75,54.20 L414.23,53.02Z" fill="#f0f080"/>
<path d="M414.94,54.25 L415.38,55.34 L415.83,56.42 L416.38,57.51 L416.99,58.59 L417.68,59.68 L418.42,60.77 L419.07,61.85 L419.66,62.94 L420.18,64.03 L420.53,65.11 L420.89,66.20 L421.13,67.28 L421.21,68.37 L421.29,69.46 L421.37,70.54 L421.44,71.63 L421.42,72.72 L421.39,73.80 L421.37,74.89 L421.34,75.97 L421.32,77.06 L421.26,78.15 L421.08,79.23 L420.89,80.32 L420.71,81.41 L420.29,82.49 L419.62,83.58 L418.72,84.66 L416.65,85.75 L412.55,85.75 L410.48,84.66 L409.58,83.58 L408.91,82.49 L408.49,81.41 L408.31,80.32 L408.12,79.23 L407.94,78.15 L407.88,77.06 L407.86,75.97 L407.83,74.89 L407.81,73.80 L407.78,72.72 L407.76,71.63 L407.83,70.54 L407.91,69.46 L407.99,68.37 L408.07,67.28 L408.31,66.20 L408.67,65.11 L409.02,64.03 L409.54,62.94 L410.13,61.85 L410.78,60.77 L411.52,59.68 L412.21,58.59 L412.82,57.51 L413.37,56.42 L413.82,55.34 L414.26,54.25Z" fill="#ee1a1a"/>
<ellipse cx="414.60" cy="74.20" rx="7.20" ry="11.00" fill="#ee1a1a" transform="rotate(0 414.60 74.20)"/>
<ellipse cx="414.60" cy="57.40" rx="2.20" ry="3.40" fill="#f4ff30" transform="rotate(0 414.60 57.40)"/>
<ellipse cx="414.60" cy="59.50" rx="1.40" ry="1.60" fill="#ff2a12" transform="rotate(0 414.60 59.50)"/>
</g>
</g></g>
<g clip-path="url(#ci5)"><g filter="url(#soft)">
<rect x="250" y="135" width="87.5" height="86.4" fill="#3e3e3e"/>
<rect x="250" y="135" width="87.5" height="86.4" fill="url(#gBG)"/>
<rect x="251" y="152" width="1.8" height="36.3" fill="#2a2a2a" opacity="0.55"/>
<rect x="255" y="152" width="1.8" height="36.3" fill="#2a2a2a" opacity="0.55"/>
<rect x="259" y="152" width="1.8" height="36.3" fill="#2a2a2a" opacity="0.55"/>
<rect x="263" y="152" width="1.8" height="36.3" fill="#2a2a2a" opacity="0.55"/>
<rect x="267" y="152" width="1.8" height="36.3" fill="#2a2a2a" opacity="0.55"/>
<rect x="271" y="152" width="1.8" height="36.3" fill="#2a2a2a" opacity="0.55"/>
<rect x="275" y="152" width="1.8" height="36.3" fill="#2a2a2a" opacity="0.55"/>
<rect x="279" y="152" width="1.8" height="36.3" fill="#2a2a2a" opacity="0.55"/>
<rect x="283" y="152" width="1.8" height="36.3" fill="#2a2a2a" opacity="0.55"/>
<rect x="287" y="152" width="1.8" height="36.3" fill="#2a2a2a" opacity="0.55"/>
<rect x="291" y="152" width="1.8" height="36.3" fill="#2a2a2a" opacity="0.55"/>
<rect x="295" y="152" width="1.8" height="36.3" fill="#2a2a2a" opacity="0.55"/>
<rect x="299" y="152" width="1.8" height="36.3" fill="#2a2a2a" opacity="0.55"/>
<rect x="303" y="152" width="1.8" height="36.3" fill="#2a2a2a" opacity="0.55"/>
<rect x="307" y="152" width="1.8" height="36.3" fill="#2a2a2a" opacity="0.55"/>
<rect x="311" y="152" width="1.8" height="36.3" fill="#2a2a2a" opacity="0.55"/>
<rect x="315" y="152" width="1.8" height="36.3" fill="#2a2a2a" opacity="0.55"/>
<rect x="319" y="152" width="1.8" height="36.3" fill="#2a2a2a" opacity="0.55"/>
<rect x="323" y="152" width="1.8" height="36.3" fill="#2a2a2a" opacity="0.55"/>
<rect x="327" y="152" width="1.8" height="36.3" fill="#2a2a2a" opacity="0.55"/>
<rect x="331" y="152" width="1.8" height="36.3" fill="#2a2a2a" opacity="0.55"/>
<rect x="335" y="152" width="1.8" height="36.3" fill="#2a2a2a" opacity="0.55"/>
<rect x="250" y="135" width="87.5" height="17" fill="#323232"/>
<rect x="250" y="151" width="87.5" height="1.2" fill="#1c1c1c"/>
<rect x="250" y="135" width="87.5" height="1" fill="#1e1e1e"/>
<rect x="250" y="135" width="1" height="86.4" fill="#6a6a6a"/>
<rect x="336.5" y="135" width="1" height="86.4" fill="#242424"/>
<rect x="250" y="219.9" width="87.5" height="1.5" fill="#262626"/>
<path d="M293.30,188.50 C294.42,197.57 293.68,206.65 294.80,216.00" stroke="url(#gT)" stroke-width="1.3" fill="none" stroke-linecap="round"/>
<ellipse cx="285.70" cy="187.65" rx="2.0" ry="0.9" fill="#9a9a9a" transform="rotate(20 285.70 187.65)"/>
<ellipse cx="300.90" cy="187.65" rx="2.0" ry="0.9" fill="#9a9a9a" transform="rotate(-20 300.90 187.65)"/>
<path d="M294.00,152.50 L294.72,153.78 L295.45,155.05 L296.15,156.33 L296.63,157.60 L297.10,158.88 L297.38,160.16 L297.66,161.43 L298.06,162.71 L298.43,163.98 L298.75,165.26 L299.06,166.53 L299.31,167.81 L299.45,169.09 L299.60,170.36 L299.74,171.64 L299.88,172.91 L299.96,174.19 L300.04,175.47 L300.13,176.74 L300.21,178.02 L300.24,179.29 L300.26,180.57 L300.28,181.84 L300.29,183.12 L300.24,184.40 L300.15,185.67 L299.92,186.95 L299.39,188.22 L297.15,189.50 L289.45,189.50 L287.21,188.22 L286.68,186.95 L286.45,185.67 L286.36,184.40 L286.31,183.12 L286.32,181.84 L286.34,180.57 L286.36,179.29 L286.39,178.02 L286.47,176.74 L286.56,175.47 L286.64,174.19 L286.72,172.91 L286.86,171.64 L287.00,170.36 L287.15,169.09 L287.29,167.81 L287.54,166.53 L287.85,165.26 L288.17,163.98 L288.54,162.71 L288.94,161.43 L289.22,160.16 L289.50,158.88 L289.97,157.60 L290.45,156.33 L291.15,155.05 L291.88,153.78 L292.60,152.50Z" fill="url(#gW)" stroke="#9c9c9c" stroke-width="0.8" stroke-opacity="0.7"/>
<path d="M294.00,152.50 L294.72,153.78 L295.45,155.05 L296.15,156.33 L296.63,157.60 L297.10,158.88 L297.38,160.16 L297.66,161.43 L298.06,162.71 L298.43,163.98 L298.75,165.26 L299.06,166.53 L299.31,167.81 L299.45,169.09 L299.60,170.36 L299.74,171.64 L299.88,172.91 L299.96,174.19 L300.04,175.47 L300.13,176.74 L300.21,178.02 L300.24,179.29 L300.26,180.57 L300.28,181.84 L300.29,183.12 L300.24,184.40 L300.15,185.67 L299.92,186.95 L299.39,188.22 L297.15,189.50 L289.45,189.50 L287.21,188.22 L286.68,186.95 L286.45,185.67 L286.36,184.40 L286.31,183.12 L286.32,181.84 L286.34,180.57 L286.36,179.29 L286.39,178.02 L286.47,176.74 L286.56,175.47 L286.64,174.19 L286.72,172.91 L286.86,171.64 L287.00,170.36 L287.15,169.09 L287.29,167.81 L287.54,166.53 L287.85,165.26 L288.17,163.98 L288.54,162.71 L288.94,161.43 L289.22,160.16 L289.50,158.88 L289.97,157.60 L290.45,156.33 L291.15,155.05 L291.88,153.78 L292.60,152.50Z" fill="url(#gWe)"/>
<ellipse cx="290.64" cy="162.49" rx="1.1" ry="0.8" fill="#8a8a8a" opacity="0.7"/>
<ellipse cx="295.96" cy="162.49" rx="1.1" ry="0.8" fill="#8a8a8a" opacity="0.7"/>
<ellipse cx="297.6" cy="180.4" rx="1.8" ry="2" fill="#2828e8"/>
<path d="M261.30,190.00 C262.42,198.58 260.68,207.16 261.80,216.00" stroke="#9a9a9a" stroke-width="1.3" fill="none" stroke-linecap="round"/>
<clipPath id="m5_0"><path d="M262.01,154.50 L262.74,155.76 L263.48,157.02 L264.19,158.28 L264.68,159.53 L265.15,160.79 L265.43,162.05 L265.72,163.31 L266.13,164.57 L266.51,165.83 L266.83,167.09 L267.14,168.34 L267.39,169.60 L267.54,170.86 L267.69,172.12 L267.83,173.38 L267.98,174.64 L268.06,175.90 L268.14,177.16 L268.22,178.41 L268.30,179.67 L268.34,180.93 L268.36,182.19 L268.38,183.45 L268.39,184.71 L268.34,185.97 L268.25,187.22 L268.01,188.48 L267.48,189.74 L265.20,191.00 L257.40,191.00 L255.12,189.74 L254.59,188.48 L254.35,187.22 L254.26,185.97 L254.21,184.71 L254.22,183.45 L254.24,182.19 L254.26,180.93 L254.30,179.67 L254.38,178.41 L254.46,177.16 L254.54,175.90 L254.62,174.64 L254.77,173.38 L254.91,172.12 L255.06,170.86 L255.21,169.60 L255.46,168.34 L255.77,167.09 L256.09,165.83 L256.47,164.57 L256.88,163.31 L257.17,162.05 L257.45,160.79 L257.92,159.53 L258.41,158.28 L259.12,157.02 L259.86,155.76 L260.59,154.50Z"/></clipPath>
<path d="M262.01,154.50 L262.74,155.76 L263.48,157.02 L264.19,158.28 L264.68,159.53 L265.15,160.79 L265.43,162.05 L265.72,163.31 L266.13,164.57 L266.51,165.83 L266.83,167.09 L267.14,168.34 L267.39,169.60 L267.54,170.86 L267.69,172.12 L267.83,173.38 L267.98,174.64 L268.06,175.90 L268.14,177.16 L268.22,178.41 L268.30,179.67 L268.34,180.93 L268.36,182.19 L268.38,183.45 L268.39,184.71 L268.34,185.97 L268.25,187.22 L268.01,188.48 L267.48,189.74 L265.20,191.00 L257.40,191.00 L255.12,189.74 L254.59,188.48 L254.35,187.22 L254.26,185.97 L254.21,184.71 L254.22,183.45 L254.24,182.19 L254.26,180.93 L254.30,179.67 L254.38,178.41 L254.46,177.16 L254.54,175.90 L254.62,174.64 L254.77,173.38 L254.91,172.12 L255.06,170.86 L255.21,169.60 L255.46,168.34 L255.77,167.09 L256.09,165.83 L256.47,164.57 L256.88,163.31 L257.17,162.05 L257.45,160.79 L257.92,159.53 L258.41,158.28 L259.12,157.02 L259.86,155.76 L260.59,154.50Z" fill="#7a6ae0"/>
<g clip-path="url(#m5_0)">
<path d="M261.95,155.96 L262.63,157.12 L263.30,158.28 L263.96,159.43 L264.41,160.59 L264.85,161.75 L265.10,162.91 L265.36,164.07 L265.74,165.22 L266.09,166.38 L266.38,167.54 L266.68,168.70 L266.91,169.86 L267.04,171.01 L267.18,172.17 L267.31,173.33 L267.44,174.49 L267.52,175.64 L267.59,176.80 L267.67,177.96 L267.74,179.12 L267.78,180.28 L267.79,181.43 L267.81,182.59 L267.83,183.75 L267.78,184.91 L267.69,186.07 L267.48,187.22 L266.98,188.38 L264.89,189.54 L257.71,189.54 L255.62,188.38 L255.12,187.22 L254.91,186.07 L254.82,184.91 L254.77,183.75 L254.79,182.59 L254.81,181.43 L254.82,180.28 L254.86,179.12 L254.93,177.96 L255.01,176.80 L255.08,175.64 L255.16,174.49 L255.29,173.33 L255.42,172.17 L255.56,171.01 L255.69,169.86 L255.92,168.70 L256.22,167.54 L256.51,166.38 L256.86,165.22 L257.24,164.07 L257.50,162.91 L257.75,161.75 L258.19,160.59 L258.64,159.43 L259.30,158.28 L259.97,157.12 L260.65,155.96Z" fill="#2424ee"/>
<ellipse cx="261.30" cy="154.50" rx="1.60" ry="3.20" fill="#a8a8b0" transform="rotate(0 261.30 154.50)"/>
<ellipse cx="261.30" cy="172.75" rx="7.00" ry="10.80" fill="#e4e0ff" transform="rotate(0 261.30 172.75)"/>
<ellipse cx="261.30" cy="170.01" rx="4.62" ry="7.56" fill="#2222ee" transform="rotate(0 261.30 170.01)"/>
<ellipse cx="259.17" cy="165.45" rx="0.80" ry="0.80" fill="#e8e8ff" transform="rotate(0 259.17 165.45)"/>
<ellipse cx="262.72" cy="169.83" rx="0.80" ry="0.80" fill="#e8e8ff" transform="rotate(0 262.72 169.83)"/>
<ellipse cx="255.62" cy="183.70" rx="1.80" ry="1.80" fill="#2fc8ff" transform="rotate(0 255.62 183.70)"/>
<ellipse cx="265.56" cy="185.16" rx="1.60" ry="1.60" fill="#2fc8ff" transform="rotate(0 265.56 185.16)"/>
</g>
<path d="M276.60,189.50 C277.72,198.25 274.48,206.99 275.60,216.00" stroke="#9a9a9a" stroke-width="1.3" fill="none" stroke-linecap="round"/>
<clipPath id="m5_1"><path d="M277.31,153.50 L278.04,154.78 L278.78,156.05 L279.49,157.33 L279.98,158.60 L280.45,159.88 L280.73,161.16 L281.02,162.43 L281.43,163.71 L281.81,164.98 L282.13,166.26 L282.44,167.53 L282.69,168.81 L282.84,170.09 L282.99,171.36 L283.13,172.64 L283.28,173.91 L283.36,175.19 L283.44,176.47 L283.52,177.74 L283.60,179.02 L283.64,180.29 L283.66,181.57 L283.68,182.84 L283.69,184.12 L283.64,185.40 L283.55,186.67 L283.31,187.95 L282.78,189.22 L280.50,190.50 L272.70,190.50 L270.42,189.22 L269.89,187.95 L269.65,186.67 L269.56,185.40 L269.51,184.12 L269.52,182.84 L269.54,181.57 L269.56,180.29 L269.60,179.02 L269.68,177.74 L269.76,176.47 L269.84,175.19 L269.92,173.91 L270.07,172.64 L270.21,171.36 L270.36,170.09 L270.51,168.81 L270.76,167.53 L271.07,166.26 L271.39,164.98 L271.77,163.71 L272.18,162.43 L272.47,161.16 L272.75,159.88 L273.22,158.60 L273.71,157.33 L274.42,156.05 L275.16,154.78 L275.89,153.50Z"/></clipPath>
<path d="M277.31,153.50 L278.04,154.78 L278.78,156.05 L279.49,157.33 L279.98,158.60 L280.45,159.88 L280.73,161.16 L281.02,162.43 L281.43,163.71 L281.81,164.98 L282.13,166.26 L282.44,167.53 L282.69,168.81 L282.84,170.09 L282.99,171.36 L283.13,172.64 L283.28,173.91 L283.36,175.19 L283.44,176.47 L283.52,177.74 L283.60,179.02 L283.64,180.29 L283.66,181.57 L283.68,182.84 L283.69,184.12 L283.64,185.40 L283.55,186.67 L283.31,187.95 L282.78,189.22 L280.50,190.50 L272.70,190.50 L270.42,189.22 L269.89,187.95 L269.65,186.67 L269.56,185.40 L269.51,184.12 L269.52,182.84 L269.54,181.57 L269.56,180.29 L269.60,179.02 L269.68,177.74 L269.76,176.47 L269.84,175.19 L269.92,173.91 L270.07,172.64 L270.21,171.36 L270.36,170.09 L270.51,168.81 L270.76,167.53 L271.07,166.26 L271.39,164.98 L271.77,163.71 L272.18,162.43 L272.47,161.16 L272.75,159.88 L273.22,158.60 L273.71,157.33 L274.42,156.05 L275.16,154.78 L275.89,153.50Z" fill="#7a6ae0"/>
<g clip-path="url(#m5_1)">
<path d="M277.25,154.98 L277.93,156.15 L278.60,157.33 L279.26,158.50 L279.71,159.68 L280.15,160.85 L280.40,162.02 L280.66,163.20 L281.04,164.37 L281.39,165.54 L281.68,166.72 L281.98,167.89 L282.21,169.07 L282.34,170.24 L282.48,171.41 L282.61,172.59 L282.74,173.76 L282.82,174.93 L282.89,176.11 L282.97,177.28 L283.04,178.46 L283.08,179.63 L283.09,180.80 L283.11,181.98 L283.13,183.15 L283.08,184.32 L282.99,185.50 L282.78,186.67 L282.28,187.85 L280.19,189.02 L273.01,189.02 L270.92,187.85 L270.42,186.67 L270.21,185.50 L270.12,184.32 L270.07,183.15 L270.09,181.98 L270.11,180.80 L270.12,179.63 L270.16,178.46 L270.23,177.28 L270.31,176.11 L270.38,174.93 L270.46,173.76 L270.59,172.59 L270.72,171.41 L270.86,170.24 L270.99,169.07 L271.22,167.89 L271.52,166.72 L271.81,165.54 L272.16,164.37 L272.54,163.20 L272.80,162.02 L273.05,160.85 L273.49,159.68 L273.94,158.50 L274.60,157.33 L275.27,156.15 L275.95,154.98Z" fill="#2424ee"/>
<ellipse cx="276.60" cy="153.50" rx="1.60" ry="3.20" fill="#a8a8b0" transform="rotate(0 276.60 153.50)"/>
<ellipse cx="276.60" cy="172.00" rx="7.00" ry="10.80" fill="#e4e0ff" transform="rotate(0 276.60 172.00)"/>
<ellipse cx="276.60" cy="169.22" rx="4.62" ry="7.56" fill="#2222ee" transform="rotate(0 276.60 169.22)"/>
<ellipse cx="276.25" cy="167.56" rx="2.40" ry="2.40" fill="#2fc8ff" transform="rotate(0 276.25 167.56)"/>
<ellipse cx="276.25" cy="167.56" rx="1.87" ry="1.87" fill="#3cff6a" transform="rotate(0 276.25 167.56)"/>
<ellipse cx="270.92" cy="182.36" rx="2.00" ry="2.00" fill="#2fc8ff" transform="rotate(0 270.92 182.36)"/>
<ellipse cx="270.92" cy="182.36" rx="1.56" ry="1.56" fill="#3cff6a" transform="rotate(0 270.92 182.36)"/>
<ellipse cx="270.92" cy="182.36" rx="1.12" ry="1.12" fill="#f4ff2c" transform="rotate(0 270.92 182.36)"/>
<ellipse cx="282.28" cy="182.36" rx="2.00" ry="2.00" fill="#2fc8ff" transform="rotate(0 282.28 182.36)"/>
<ellipse cx="282.28" cy="182.36" rx="1.56" ry="1.56" fill="#3cff6a" transform="rotate(0 282.28 182.36)"/>
<ellipse cx="282.28" cy="182.36" rx="1.12" ry="1.12" fill="#f4ff2c" transform="rotate(0 282.28 182.36)"/>
</g>
<path d="M308.80,189.50 C309.92,198.25 306.68,206.99 307.80,216.00" stroke="#9a9a9a" stroke-width="1.3" fill="none" stroke-linecap="round"/>
<clipPath id="m5_2"><path d="M309.51,153.50 L310.24,154.78 L310.98,156.05 L311.69,157.33 L312.18,158.60 L312.65,159.88 L312.93,161.16 L313.22,162.43 L313.63,163.71 L314.01,164.98 L314.33,166.26 L314.64,167.53 L314.89,168.81 L315.04,170.09 L315.19,171.36 L315.33,172.64 L315.48,173.91 L315.56,175.19 L315.64,176.47 L315.72,177.74 L315.80,179.02 L315.84,180.29 L315.86,181.57 L315.88,182.84 L315.89,184.12 L315.84,185.40 L315.75,186.67 L315.51,187.95 L314.98,189.22 L312.70,190.50 L304.90,190.50 L302.62,189.22 L302.09,187.95 L301.85,186.67 L301.76,185.40 L301.71,184.12 L301.72,182.84 L301.74,181.57 L301.76,180.29 L301.80,179.02 L301.88,177.74 L301.96,176.47 L302.04,175.19 L302.12,173.91 L302.27,172.64 L302.41,171.36 L302.56,170.09 L302.71,168.81 L302.96,167.53 L303.27,166.26 L303.59,164.98 L303.97,163.71 L304.38,162.43 L304.67,161.16 L304.95,159.88 L305.42,158.60 L305.91,157.33 L306.62,156.05 L307.36,154.78 L308.09,153.50Z"/></clipPath>
<path d="M309.51,153.50 L310.24,154.78 L310.98,156.05 L311.69,157.33 L312.18,158.60 L312.65,159.88 L312.93,161.16 L313.22,162.43 L313.63,163.71 L314.01,164.98 L314.33,166.26 L314.64,167.53 L314.89,168.81 L315.04,170.09 L315.19,171.36 L315.33,172.64 L315.48,173.91 L315.56,175.19 L315.64,176.47 L315.72,177.74 L315.80,179.02 L315.84,180.29 L315.86,181.57 L315.88,182.84 L315.89,184.12 L315.84,185.40 L315.75,186.67 L315.51,187.95 L314.98,189.22 L312.70,190.50 L304.90,190.50 L302.62,189.22 L302.09,187.95 L301.85,186.67 L301.76,185.40 L301.71,184.12 L301.72,182.84 L301.74,181.57 L301.76,180.29 L301.80,179.02 L301.88,177.74 L301.96,176.47 L302.04,175.19 L302.12,173.91 L302.27,172.64 L302.41,171.36 L302.56,170.09 L302.71,168.81 L302.96,167.53 L303.27,166.26 L303.59,164.98 L303.97,163.71 L304.38,162.43 L304.67,161.16 L304.95,159.88 L305.42,158.60 L305.91,157.33 L306.62,156.05 L307.36,154.78 L308.09,153.50Z" fill="#7a6ae0"/>
<g clip-path="url(#m5_2)">
<path d="M309.45,154.98 L310.13,156.15 L310.80,157.33 L311.46,158.50 L311.91,159.68 L312.35,160.85 L312.60,162.02 L312.86,163.20 L313.24,164.37 L313.59,165.54 L313.88,166.72 L314.18,167.89 L314.41,169.07 L314.54,170.24 L314.68,171.41 L314.81,172.59 L314.94,173.76 L315.02,174.93 L315.09,176.11 L315.17,177.28 L315.24,178.46 L315.28,179.63 L315.29,180.80 L315.31,181.98 L315.33,183.15 L315.28,184.32 L315.19,185.50 L314.98,186.67 L314.48,187.85 L312.39,189.02 L305.21,189.02 L303.12,187.85 L302.62,186.67 L302.41,185.50 L302.32,184.32 L302.27,183.15 L302.29,181.98 L302.31,180.80 L302.32,179.63 L302.36,178.46 L302.43,177.28 L302.51,176.11 L302.58,174.93 L302.66,173.76 L302.79,172.59 L302.92,171.41 L303.06,170.24 L303.19,169.07 L303.42,167.89 L303.72,166.72 L304.01,165.54 L304.36,164.37 L304.74,163.20 L305.00,162.02 L305.25,160.85 L305.69,159.68 L306.14,158.50 L306.80,157.33 L307.47,156.15 L308.15,154.98Z" fill="#2424ee"/>
<ellipse cx="308.80" cy="153.50" rx="1.60" ry="3.20" fill="#a8a8b0" transform="rotate(0 308.80 153.50)"/>
<ellipse cx="308.80" cy="172.00" rx="7.00" ry="10.80" fill="#e4e0ff" transform="rotate(0 308.80 172.00)"/>
<ellipse cx="308.80" cy="169.22" rx="4.62" ry="7.56" fill="#2222ee" transform="rotate(0 308.80 169.22)"/>
<ellipse cx="308.80" cy="166.82" rx="1.60" ry="1.60" fill="#2fc8ff" transform="rotate(0 308.80 166.82)"/>
<ellipse cx="303.83" cy="182.36" rx="1.80" ry="1.80" fill="#2fc8ff" transform="rotate(0 303.83 182.36)"/>
<ellipse cx="303.83" cy="182.36" rx="1.40" ry="1.40" fill="#3cff6a" transform="rotate(0 303.83 182.36)"/>
<ellipse cx="312.70" cy="183.84" rx="3.00" ry="3.00" fill="#2fc8ff" transform="rotate(0 312.70 183.84)"/>
<ellipse cx="312.70" cy="183.84" rx="2.34" ry="2.34" fill="#3cff6a" transform="rotate(0 312.70 183.84)"/>
<ellipse cx="312.70" cy="183.84" rx="1.68" ry="1.68" fill="#f4ff2c" transform="rotate(0 312.70 183.84)"/>
<ellipse cx="312.70" cy="183.84" rx="1.08" ry="1.08" fill="#ff2a12" transform="rotate(0 312.70 183.84)"/>
<ellipse cx="309.51" cy="180.88" rx="1.40" ry="1.40" fill="#2fc8ff" transform="rotate(0 309.51 180.88)"/>
</g>
<path d="M324.20,188.50 C325.32,197.57 322.58,206.65 323.70,216.00" stroke="#9a9a9a" stroke-width="1.3" fill="none" stroke-linecap="round"/>
<clipPath id="m5_3"><path d="M324.91,153.50 L325.64,154.74 L326.38,155.98 L327.09,157.22 L327.58,158.47 L328.05,159.71 L328.33,160.95 L328.62,162.19 L329.03,163.43 L329.41,164.67 L329.73,165.91 L330.04,167.16 L330.29,168.40 L330.44,169.64 L330.59,170.88 L330.73,172.12 L330.88,173.36 L330.96,174.60 L331.04,175.84 L331.12,177.09 L331.20,178.33 L331.24,179.57 L331.26,180.81 L331.28,182.05 L331.29,183.29 L331.24,184.53 L331.15,185.78 L330.91,187.02 L330.38,188.26 L328.10,189.50 L320.30,189.50 L318.02,188.26 L317.49,187.02 L317.25,185.78 L317.16,184.53 L317.11,183.29 L317.12,182.05 L317.14,180.81 L317.16,179.57 L317.20,178.33 L317.28,177.09 L317.36,175.84 L317.44,174.60 L317.52,173.36 L317.67,172.12 L317.81,170.88 L317.96,169.64 L318.11,168.40 L318.36,167.16 L318.67,165.91 L318.99,164.67 L319.37,163.43 L319.78,162.19 L320.07,160.95 L320.35,159.71 L320.82,158.47 L321.31,157.22 L322.02,155.98 L322.76,154.74 L323.49,153.50Z"/></clipPath>
<path d="M324.91,153.50 L325.64,154.74 L326.38,155.98 L327.09,157.22 L327.58,158.47 L328.05,159.71 L328.33,160.95 L328.62,162.19 L329.03,163.43 L329.41,164.67 L329.73,165.91 L330.04,167.16 L330.29,168.40 L330.44,169.64 L330.59,170.88 L330.73,172.12 L330.88,173.36 L330.96,174.60 L331.04,175.84 L331.12,177.09 L331.20,178.33 L331.24,179.57 L331.26,180.81 L331.28,182.05 L331.29,183.29 L331.24,184.53 L331.15,185.78 L330.91,187.02 L330.38,188.26 L328.10,189.50 L320.30,189.50 L318.02,188.26 L317.49,187.02 L317.25,185.78 L317.16,184.53 L317.11,183.29 L317.12,182.05 L317.14,180.81 L317.16,179.57 L317.20,178.33 L317.28,177.09 L317.36,175.84 L317.44,174.60 L317.52,173.36 L317.67,172.12 L317.81,170.88 L317.96,169.64 L318.11,168.40 L318.36,167.16 L318.67,165.91 L318.99,164.67 L319.37,163.43 L319.78,162.19 L320.07,160.95 L320.35,159.71 L320.82,158.47 L321.31,157.22 L322.02,155.98 L322.76,154.74 L323.49,153.50Z" fill="#7a6ae0"/>
<g clip-path="url(#m5_3)">
<path d="M324.85,154.94 L325.53,156.08 L326.20,157.22 L326.86,158.37 L327.31,159.51 L327.75,160.65 L328.00,161.79 L328.26,162.93 L328.64,164.08 L328.99,165.22 L329.28,166.36 L329.58,167.50 L329.81,168.64 L329.94,169.79 L330.08,170.93 L330.21,172.07 L330.34,173.21 L330.42,174.36 L330.49,175.50 L330.57,176.64 L330.64,177.78 L330.68,178.92 L330.69,180.07 L330.71,181.21 L330.73,182.35 L330.68,183.49 L330.59,184.63 L330.38,185.78 L329.88,186.92 L327.79,188.06 L320.61,188.06 L318.52,186.92 L318.02,185.78 L317.81,184.63 L317.72,183.49 L317.67,182.35 L317.69,181.21 L317.71,180.07 L317.72,178.92 L317.76,177.78 L317.83,176.64 L317.91,175.50 L317.98,174.36 L318.06,173.21 L318.19,172.07 L318.32,170.93 L318.46,169.79 L318.59,168.64 L318.82,167.50 L319.12,166.36 L319.41,165.22 L319.76,164.08 L320.14,162.93 L320.40,161.79 L320.65,160.65 L321.09,159.51 L321.54,158.37 L322.20,157.22 L322.87,156.08 L323.55,154.94Z" fill="#2424ee"/>
<ellipse cx="324.20" cy="153.50" rx="1.60" ry="3.20" fill="#a8a8b0" transform="rotate(0 324.20 153.50)"/>
<ellipse cx="324.20" cy="171.50" rx="7.00" ry="10.80" fill="#e4e0ff" transform="rotate(0 324.20 171.50)"/>
<ellipse cx="324.20" cy="168.80" rx="4.62" ry="7.56" fill="#2222ee" transform="rotate(0 324.20 168.80)"/>
<ellipse cx="324.20" cy="165.74" rx="1.80" ry="1.80" fill="#2fc8ff" transform="rotate(0 324.20 165.74)"/>
<ellipse cx="318.52" cy="181.58" rx="2.00" ry="2.00" fill="#2fc8ff" transform="rotate(0 318.52 181.58)"/>
<ellipse cx="318.52" cy="181.58" rx="1.56" ry="1.56" fill="#3cff6a" transform="rotate(0 318.52 181.58)"/>
<ellipse cx="318.52" cy="181.58" rx="1.12" ry="1.12" fill="#f4ff2c" transform="rotate(0 318.52 181.58)"/>
<ellipse cx="318.52" cy="181.58" rx="0.72" ry="0.72" fill="#ff2a12" transform="rotate(0 318.52 181.58)"/>
<ellipse cx="329.88" cy="180.86" rx="2.00" ry="2.00" fill="#2fc8ff" transform="rotate(0 329.88 180.86)"/>
<ellipse cx="329.88" cy="180.86" rx="1.56" ry="1.56" fill="#3cff6a" transform="rotate(0 329.88 180.86)"/>
<ellipse cx="329.88" cy="180.86" rx="1.12" ry="1.12" fill="#f4ff2c" transform="rotate(0 329.88 180.86)"/>
<ellipse cx="329.88" cy="180.86" rx="0.72" ry="0.72" fill="#ff2a12" transform="rotate(0 329.88 180.86)"/>
</g>
</g></g>
<g clip-path="url(#ci6)"><g filter="url(#soft)">
<rect x="340" y="135" width="86" height="86.4" fill="#454545"/>
<rect x="340" y="135" width="86" height="86.4" fill="url(#gBG)"/>
<rect x="340" y="135" width="86" height="9" fill="#3a3a3a"/>
<rect x="340" y="143" width="86" height="1.2" fill="#4a4a4a"/>
<rect x="340" y="135" width="86" height="1" fill="#1e1e1e"/>
<rect x="340" y="135" width="1" height="86.4" fill="#6a6a6a"/>
<rect x="425" y="135" width="1" height="86.4" fill="#242424"/>
<rect x="340" y="219.9" width="86" height="1.5" fill="#262626"/>
<path d="M351.30,178.50 C352.42,187.77 349.18,197.05 350.30,206.60" stroke="#8a8a9a" stroke-width="1.3" fill="none" stroke-linecap="round"/>
<path d="M351.30,178.50 L350.60,198.17" stroke="#4a34cc" stroke-width="2.2" fill="none" stroke-linecap="round"/>
<clipPath id="m6_0"><path d="M351.69,144.20 L352.36,145.42 L353.03,146.63 L353.71,147.85 L354.38,149.07 L355.05,150.29 L355.69,151.50 L356.17,152.72 L356.66,153.94 L357.14,155.16 L357.62,156.37 L357.91,157.59 L358.16,158.81 L358.41,160.02 L358.66,161.24 L358.82,162.46 L358.90,163.68 L358.97,164.89 L359.04,166.11 L359.08,167.33 L358.93,168.54 L358.79,169.76 L358.64,170.98 L358.38,172.20 L357.90,173.41 L357.43,174.63 L356.96,175.85 L355.98,177.07 L354.94,178.28 L352.86,179.50 L349.74,179.50 L347.66,178.28 L346.62,177.07 L345.64,175.85 L345.17,174.63 L344.70,173.41 L344.22,172.20 L343.96,170.98 L343.81,169.76 L343.67,168.54 L343.52,167.33 L343.56,166.11 L343.63,164.89 L343.70,163.68 L343.78,162.46 L343.94,161.24 L344.19,160.02 L344.44,158.81 L344.69,157.59 L344.98,156.37 L345.46,155.16 L345.94,153.94 L346.43,152.72 L346.91,151.50 L347.55,150.29 L348.22,149.07 L348.89,147.85 L349.57,146.63 L350.24,145.42 L350.91,144.20Z"/></clipPath>
<path d="M351.69,144.20 L352.36,145.42 L353.03,146.63 L353.71,147.85 L354.38,149.07 L355.05,150.29 L355.69,151.50 L356.17,152.72 L356.66,153.94 L357.14,155.16 L357.62,156.37 L357.91,157.59 L358.16,158.81 L358.41,160.02 L358.66,161.24 L358.82,162.46 L358.90,163.68 L358.97,164.89 L359.04,166.11 L359.08,167.33 L358.93,168.54 L358.79,169.76 L358.64,170.98 L358.38,172.20 L357.90,173.41 L357.43,174.63 L356.96,175.85 L355.98,177.07 L354.94,178.28 L352.86,179.50 L349.74,179.50 L347.66,178.28 L346.62,177.07 L345.64,175.85 L345.17,174.63 L344.70,173.41 L344.22,172.20 L343.96,170.98 L343.81,169.76 L343.67,168.54 L343.52,167.33 L343.56,166.11 L343.63,164.89 L343.70,163.68 L343.78,162.46 L343.94,161.24 L344.19,160.02 L344.44,158.81 L344.69,157.59 L344.98,156.37 L345.46,155.16 L345.94,153.94 L346.43,152.72 L346.91,151.50 L347.55,150.29 L348.22,149.07 L348.89,147.85 L349.57,146.63 L350.24,145.42 L350.91,144.20Z" fill="#4a40c8"/>
<g clip-path="url(#m6_0)">
<path d="M351.67,145.08 L352.31,146.24 L352.95,147.40 L353.59,148.55 L354.23,149.71 L354.86,150.86 L355.47,152.02 L355.93,153.18 L356.39,154.33 L356.85,155.49 L357.31,156.65 L357.58,157.80 L357.82,158.96 L358.06,160.12 L358.29,161.27 L358.45,162.43 L358.52,163.58 L358.58,164.74 L358.65,165.90 L358.69,167.05 L358.55,168.21 L358.41,169.37 L358.28,170.52 L358.02,171.68 L357.57,172.84 L357.13,173.99 L356.68,175.15 L355.75,176.30 L354.76,177.46 L352.78,178.62 L349.82,178.62 L347.84,177.46 L346.85,176.30 L345.92,175.15 L345.47,173.99 L345.03,172.84 L344.58,171.68 L344.32,170.52 L344.19,169.37 L344.05,168.21 L343.91,167.05 L343.95,165.90 L344.02,164.74 L344.08,163.58 L344.15,162.43 L344.31,161.27 L344.54,160.12 L344.78,158.96 L345.02,157.80 L345.29,156.65 L345.75,155.49 L346.21,154.33 L346.67,153.18 L347.13,152.02 L347.74,150.86 L348.37,149.71 L349.01,148.55 L349.65,147.40 L350.29,146.24 L350.93,145.08Z" fill="#2424ee"/>
<path d="M351.64,146.67 L352.21,147.72 L352.79,148.76 L353.37,149.81 L353.95,150.86 L354.53,151.91 L355.07,152.95 L355.49,154.00 L355.91,155.05 L356.32,156.09 L356.74,157.14 L356.98,158.19 L357.20,159.23 L357.42,160.28 L357.63,161.33 L357.77,162.37 L357.83,163.42 L357.89,164.47 L357.96,165.51 L357.99,166.56 L357.86,167.61 L357.74,168.65 L357.62,169.70 L357.38,170.75 L356.98,171.79 L356.58,172.84 L356.17,173.89 L355.33,174.94 L354.43,175.98 L352.64,177.03 L349.96,177.03 L348.17,175.98 L347.27,174.94 L346.43,173.89 L346.02,172.84 L345.62,171.79 L345.22,170.75 L344.98,169.70 L344.86,168.65 L344.74,167.61 L344.61,166.56 L344.64,165.51 L344.71,164.47 L344.77,163.42 L344.83,162.37 L344.97,161.33 L345.18,160.28 L345.40,159.23 L345.62,158.19 L345.86,157.14 L346.28,156.09 L346.69,155.05 L347.11,154.00 L347.53,152.95 L348.07,151.91 L348.65,150.86 L349.23,149.81 L349.81,148.76 L350.39,147.72 L350.96,146.67Z" fill="#2fc8ff"/>
<ellipse cx="351.30" cy="150.55" rx="4.50" ry="6.00" fill="#2424ee" transform="rotate(0 351.30 150.55)"/>
<ellipse cx="348.96" cy="151.26" rx="1.30" ry="1.20" fill="#e8e8ff" transform="rotate(0 348.96 151.26)"/>
<ellipse cx="353.64" cy="154.08" rx="1.00" ry="1.00" fill="#e8e8ff" transform="rotate(0 353.64 154.08)"/>
<ellipse cx="348.96" cy="163.61" rx="4.40" ry="6.50" fill="#3cff6a" transform="rotate(0 348.96 163.61)"/>
<ellipse cx="348.18" cy="163.61" rx="2.60" ry="3.50" fill="#f4ff2c" transform="rotate(0 348.18 163.61)"/>
<ellipse cx="356.37" cy="166.09" rx="3.00" ry="4.00" fill="#ff2a12" transform="rotate(0 356.37 166.09)"/>
<ellipse cx="350.52" cy="174.56" rx="3.60" ry="2.40" fill="#f4ff2c" transform="rotate(0 350.52 174.56)"/>
<ellipse cx="353.64" cy="173.85" rx="2.00" ry="2.00" fill="#3cff6a" transform="rotate(0 353.64 173.85)"/>
<ellipse cx="348.96" cy="169.62" rx="1.60" ry="1.60" fill="#2424ee" transform="rotate(0 348.96 169.62)"/>
</g>
<path d="M368.30,177.70 C369.42,187.37 366.68,197.04 367.80,207.00" stroke="#8a8a9a" stroke-width="1.3" fill="none" stroke-linecap="round"/>
<path d="M368.30,177.70 L367.95,198.21" stroke="#4a34cc" stroke-width="2.2" fill="none" stroke-linecap="round"/>
<clipPath id="m6_1"><path d="M368.69,143.70 L369.36,144.91 L370.03,146.11 L370.71,147.32 L371.38,148.53 L372.05,149.73 L372.69,150.94 L373.17,152.15 L373.66,153.36 L374.14,154.56 L374.62,155.77 L374.91,156.98 L375.16,158.18 L375.41,159.39 L375.66,160.60 L375.82,161.80 L375.90,163.01 L375.97,164.22 L376.04,165.42 L376.08,166.63 L375.93,167.84 L375.79,169.04 L375.64,170.25 L375.38,171.46 L374.90,172.67 L374.43,173.87 L373.96,175.08 L372.98,176.29 L371.94,177.49 L369.86,178.70 L366.74,178.70 L364.66,177.49 L363.62,176.29 L362.64,175.08 L362.17,173.87 L361.70,172.67 L361.22,171.46 L360.96,170.25 L360.81,169.04 L360.67,167.84 L360.52,166.63 L360.56,165.42 L360.63,164.22 L360.70,163.01 L360.78,161.80 L360.94,160.60 L361.19,159.39 L361.44,158.18 L361.69,156.98 L361.98,155.77 L362.46,154.56 L362.94,153.36 L363.43,152.15 L363.91,150.94 L364.55,149.73 L365.22,148.53 L365.89,147.32 L366.57,146.11 L367.24,144.91 L367.91,143.70Z"/></clipPath>
<path d="M368.69,143.70 L369.36,144.91 L370.03,146.11 L370.71,147.32 L371.38,148.53 L372.05,149.73 L372.69,150.94 L373.17,152.15 L373.66,153.36 L374.14,154.56 L374.62,155.77 L374.91,156.98 L375.16,158.18 L375.41,159.39 L375.66,160.60 L375.82,161.80 L375.90,163.01 L375.97,164.22 L376.04,165.42 L376.08,166.63 L375.93,167.84 L375.79,169.04 L375.64,170.25 L375.38,171.46 L374.90,172.67 L374.43,173.87 L373.96,175.08 L372.98,176.29 L371.94,177.49 L369.86,178.70 L366.74,178.70 L364.66,177.49 L363.62,176.29 L362.64,175.08 L362.17,173.87 L361.70,172.67 L361.22,171.46 L360.96,170.25 L360.81,169.04 L360.67,167.84 L360.52,166.63 L360.56,165.42 L360.63,164.22 L360.70,163.01 L360.78,161.80 L360.94,160.60 L361.19,159.39 L361.44,158.18 L361.69,156.98 L361.98,155.77 L362.46,154.56 L362.94,153.36 L363.43,152.15 L363.91,150.94 L364.55,149.73 L365.22,148.53 L365.89,147.32 L366.57,146.11 L367.24,144.91 L367.91,143.70Z" fill="#4a40c8"/>
<g clip-path="url(#m6_1)">
<path d="M368.67,144.57 L369.31,145.72 L369.95,146.87 L370.59,148.01 L371.23,149.16 L371.86,150.31 L372.47,151.45 L372.93,152.60 L373.39,153.75 L373.85,154.89 L374.31,156.04 L374.58,157.19 L374.82,158.33 L375.06,159.48 L375.29,160.63 L375.45,161.77 L375.52,162.92 L375.58,164.07 L375.65,165.21 L375.69,166.36 L375.55,167.51 L375.41,168.65 L375.28,169.80 L375.02,170.95 L374.57,172.09 L374.13,173.24 L373.68,174.39 L372.75,175.53 L371.76,176.68 L369.78,177.82 L366.82,177.82 L364.84,176.68 L363.85,175.53 L362.92,174.39 L362.47,173.24 L362.03,172.09 L361.58,170.95 L361.32,169.80 L361.19,168.65 L361.05,167.51 L360.91,166.36 L360.95,165.21 L361.02,164.07 L361.08,162.92 L361.15,161.77 L361.31,160.63 L361.54,159.48 L361.78,158.33 L362.02,157.19 L362.29,156.04 L362.75,154.89 L363.21,153.75 L363.67,152.60 L364.13,151.45 L364.74,150.31 L365.37,149.16 L366.01,148.01 L366.65,146.87 L367.29,145.72 L367.93,144.57Z" fill="#2424ee"/>
<path d="M368.64,145.80 L369.23,146.86 L369.83,147.92 L370.42,148.99 L371.01,150.05 L371.60,151.11 L372.16,152.17 L372.59,153.23 L373.01,154.30 L373.44,155.36 L373.86,156.42 L374.12,157.48 L374.34,158.54 L374.56,159.61 L374.78,160.67 L374.92,161.73 L374.98,162.79 L375.05,163.86 L375.11,164.92 L375.14,165.98 L375.02,167.04 L374.89,168.10 L374.76,169.17 L374.53,170.23 L374.11,171.29 L373.70,172.35 L373.28,173.41 L372.42,174.48 L371.51,175.54 L369.67,176.60 L366.93,176.60 L365.09,175.54 L364.18,174.48 L363.32,173.41 L362.90,172.35 L362.49,171.29 L362.07,170.23 L361.84,169.17 L361.71,168.10 L361.58,167.04 L361.46,165.98 L361.49,164.92 L361.55,163.86 L361.62,162.79 L361.68,161.73 L361.82,160.67 L362.04,159.61 L362.26,158.54 L362.48,157.48 L362.74,156.42 L363.16,155.36 L363.59,154.30 L364.01,153.23 L364.44,152.17 L365.00,151.11 L365.59,150.05 L366.18,148.99 L366.77,147.92 L367.37,146.86 L367.96,145.80Z" fill="#2fc8ff"/>
<ellipse cx="368.30" cy="154.20" rx="4.50" ry="4.00" fill="#3cff6a" transform="rotate(0 368.30 154.20)"/>
<ellipse cx="368.30" cy="161.20" rx="6.00" ry="7.00" fill="#f4ff2c" transform="rotate(0 368.30 161.20)"/>
<ellipse cx="367.52" cy="159.80" rx="4.60" ry="5.60" fill="#ff2a12" transform="rotate(0 367.52 159.80)"/>
<ellipse cx="362.68" cy="171.00" rx="3.00" ry="3.80" fill="#ff2a12" transform="rotate(0 362.68 171.00)"/>
<ellipse cx="373.92" cy="171.00" rx="3.00" ry="3.80" fill="#ff2a12" transform="rotate(0 373.92 171.00)"/>
<ellipse cx="368.30" cy="173.80" rx="2.20" ry="2.40" fill="#3cff6a" transform="rotate(0 368.30 173.80)"/>
<ellipse cx="369.08" cy="167.50" rx="1.30" ry="1.50" fill="#2424ee" transform="rotate(0 369.08 167.50)"/>
</g>
<path d="M384.20,177.20 C385.32,187.03 383.58,196.87 384.70,207.00" stroke="#8a8a9a" stroke-width="1.3" fill="none" stroke-linecap="round"/>
<clipPath id="m6_2"><path d="M384.58,144.20 L385.24,145.37 L385.89,146.54 L386.55,147.72 L387.20,148.89 L387.86,150.06 L388.47,151.23 L388.95,152.41 L389.42,153.58 L389.89,154.75 L390.36,155.92 L390.64,157.10 L390.88,158.27 L391.13,159.44 L391.37,160.61 L391.53,161.79 L391.60,162.96 L391.67,164.13 L391.74,165.30 L391.78,166.48 L391.64,167.65 L391.50,168.82 L391.36,169.99 L391.09,171.17 L390.64,172.34 L390.18,173.51 L389.72,174.68 L388.76,175.86 L387.75,177.03 L385.72,178.20 L382.68,178.20 L380.65,177.03 L379.64,175.86 L378.68,174.68 L378.22,173.51 L377.76,172.34 L377.31,171.17 L377.04,169.99 L376.90,168.82 L376.76,167.65 L376.62,166.48 L376.66,165.30 L376.73,164.13 L376.80,162.96 L376.87,161.79 L377.03,160.61 L377.27,159.44 L377.52,158.27 L377.76,157.10 L378.04,155.92 L378.51,154.75 L378.98,153.58 L379.45,152.41 L379.93,151.23 L380.54,150.06 L381.20,148.89 L381.85,147.72 L382.51,146.54 L383.16,145.37 L383.82,144.20Z"/></clipPath>
<path d="M384.58,144.20 L385.24,145.37 L385.89,146.54 L386.55,147.72 L387.20,148.89 L387.86,150.06 L388.47,151.23 L388.95,152.41 L389.42,153.58 L389.89,154.75 L390.36,155.92 L390.64,157.10 L390.88,158.27 L391.13,159.44 L391.37,160.61 L391.53,161.79 L391.60,162.96 L391.67,164.13 L391.74,165.30 L391.78,166.48 L391.64,167.65 L391.50,168.82 L391.36,169.99 L391.09,171.17 L390.64,172.34 L390.18,173.51 L389.72,174.68 L388.76,175.86 L387.75,177.03 L385.72,178.20 L382.68,178.20 L380.65,177.03 L379.64,175.86 L378.68,174.68 L378.22,173.51 L377.76,172.34 L377.31,171.17 L377.04,169.99 L376.90,168.82 L376.76,167.65 L376.62,166.48 L376.66,165.30 L376.73,164.13 L376.80,162.96 L376.87,161.79 L377.03,160.61 L377.27,159.44 L377.52,158.27 L377.76,157.10 L378.04,155.92 L378.51,154.75 L378.98,153.58 L379.45,152.41 L379.93,151.23 L380.54,150.06 L381.20,148.89 L381.85,147.72 L382.51,146.54 L383.16,145.37 L383.82,144.20Z" fill="#4a40c8"/>
<g clip-path="url(#m6_2)">
<path d="M384.56,145.05 L385.18,146.16 L385.81,147.28 L386.43,148.39 L387.05,149.51 L387.67,150.62 L388.26,151.73 L388.71,152.85 L389.16,153.96 L389.61,155.07 L390.05,156.19 L390.32,157.30 L390.55,158.42 L390.78,159.53 L391.02,160.64 L391.16,161.76 L391.23,162.87 L391.30,163.98 L391.36,165.10 L391.40,166.21 L391.27,167.33 L391.13,168.44 L391.00,169.55 L390.75,170.67 L390.31,171.78 L389.88,172.89 L389.44,174.01 L388.53,175.12 L387.57,176.24 L385.64,177.35 L382.76,177.35 L380.83,176.24 L379.87,175.12 L378.96,174.01 L378.52,172.89 L378.09,171.78 L377.65,170.67 L377.40,169.55 L377.27,168.44 L377.13,167.33 L377.00,166.21 L377.04,165.10 L377.10,163.98 L377.17,162.87 L377.24,161.76 L377.38,160.64 L377.62,159.53 L377.85,158.42 L378.08,157.30 L378.35,156.19 L378.79,155.07 L379.24,153.96 L379.69,152.85 L380.14,151.73 L380.73,150.62 L381.35,149.51 L381.97,148.39 L382.59,147.28 L383.22,146.16 L383.84,145.05Z" fill="#2424ee"/>
<path d="M384.52,146.92 L385.07,147.90 L385.62,148.89 L386.17,149.87 L386.72,150.86 L387.27,151.84 L387.79,152.83 L388.19,153.81 L388.58,154.80 L388.98,155.78 L389.38,156.77 L389.61,157.75 L389.81,158.74 L390.02,159.72 L390.23,160.71 L390.36,161.69 L390.42,162.68 L390.48,163.66 L390.53,164.65 L390.57,165.63 L390.45,166.62 L390.33,167.60 L390.21,168.59 L389.99,169.57 L389.61,170.56 L389.22,171.54 L388.84,172.53 L388.03,173.51 L387.18,174.50 L385.48,175.48 L382.92,175.48 L381.22,174.50 L380.37,173.51 L379.56,172.53 L379.18,171.54 L378.79,170.56 L378.41,169.57 L378.19,168.59 L378.07,167.60 L377.95,166.62 L377.83,165.63 L377.87,164.65 L377.92,163.66 L377.98,162.68 L378.04,161.69 L378.17,160.71 L378.38,159.72 L378.59,158.74 L378.79,157.75 L379.02,156.77 L379.42,155.78 L379.82,154.80 L380.21,153.81 L380.61,152.83 L381.13,151.84 L381.68,150.86 L382.23,149.87 L382.78,148.89 L383.33,147.90 L383.88,146.92Z" fill="#e8e8ff"/>
<ellipse cx="384.20" cy="149.30" rx="3.00" ry="4.50" fill="#2424ee" transform="rotate(0 384.20 149.30)"/>
<ellipse cx="386.86" cy="154.40" rx="2.60" ry="3.00" fill="#2424ee" transform="rotate(0 386.86 154.40)"/>
<ellipse cx="381.92" cy="157.80" rx="1.60" ry="1.60" fill="#2424ee" transform="rotate(0 381.92 157.80)"/>
<ellipse cx="378.12" cy="168.68" rx="2.40" ry="2.80" fill="#2424ee" transform="rotate(0 378.12 168.68)"/>
<ellipse cx="389.52" cy="171.40" rx="2.40" ry="2.60" fill="#2424ee" transform="rotate(0 389.52 171.40)"/>
<ellipse cx="384.20" cy="175.48" rx="3.00" ry="2.00" fill="#2424ee" transform="rotate(0 384.20 175.48)"/>
<ellipse cx="386.48" cy="151.68" rx="1.00" ry="1.00" fill="#e8e8ff" transform="rotate(0 386.48 151.68)"/>
<ellipse cx="388.00" cy="161.20" rx="1.40" ry="1.40" fill="#9090ff" transform="rotate(0 388.00 161.20)"/>
</g>
<path d="M398.80,178.00 C399.92,187.57 397.18,197.14 398.30,207.00" stroke="#8a8a9a" stroke-width="1.3" fill="none" stroke-linecap="round"/>
<path d="M398.80,178.00 L398.45,198.30" stroke="#4a34cc" stroke-width="2.2" fill="none" stroke-linecap="round"/>
<clipPath id="m6_3"><path d="M399.19,144.00 L399.86,145.21 L400.53,146.41 L401.21,147.62 L401.88,148.83 L402.55,150.03 L403.19,151.24 L403.67,152.45 L404.16,153.66 L404.64,154.86 L405.12,156.07 L405.41,157.28 L405.66,158.48 L405.91,159.69 L406.16,160.90 L406.32,162.10 L406.40,163.31 L406.47,164.52 L406.54,165.72 L406.58,166.93 L406.43,168.14 L406.29,169.34 L406.14,170.55 L405.88,171.76 L405.40,172.97 L404.93,174.17 L404.46,175.38 L403.48,176.59 L402.44,177.79 L400.36,179.00 L397.24,179.00 L395.16,177.79 L394.12,176.59 L393.14,175.38 L392.67,174.17 L392.20,172.97 L391.72,171.76 L391.46,170.55 L391.31,169.34 L391.17,168.14 L391.02,166.93 L391.06,165.72 L391.13,164.52 L391.20,163.31 L391.28,162.10 L391.44,160.90 L391.69,159.69 L391.94,158.48 L392.19,157.28 L392.48,156.07 L392.96,154.86 L393.44,153.66 L393.93,152.45 L394.41,151.24 L395.05,150.03 L395.72,148.83 L396.39,147.62 L397.07,146.41 L397.74,145.21 L398.41,144.00Z"/></clipPath>
<path d="M399.19,144.00 L399.86,145.21 L400.53,146.41 L401.21,147.62 L401.88,148.83 L402.55,150.03 L403.19,151.24 L403.67,152.45 L404.16,153.66 L404.64,154.86 L405.12,156.07 L405.41,157.28 L405.66,158.48 L405.91,159.69 L406.16,160.90 L406.32,162.10 L406.40,163.31 L406.47,164.52 L406.54,165.72 L406.58,166.93 L406.43,168.14 L406.29,169.34 L406.14,170.55 L405.88,171.76 L405.40,172.97 L404.93,174.17 L404.46,175.38 L403.48,176.59 L402.44,177.79 L400.36,179.00 L397.24,179.00 L395.16,177.79 L394.12,176.59 L393.14,175.38 L392.67,174.17 L392.20,172.97 L391.72,171.76 L391.46,170.55 L391.31,169.34 L391.17,168.14 L391.02,166.93 L391.06,165.72 L391.13,164.52 L391.20,163.31 L391.28,162.10 L391.44,160.90 L391.69,159.69 L391.94,158.48 L392.19,157.28 L392.48,156.07 L392.96,154.86 L393.44,153.66 L393.93,152.45 L394.41,151.24 L395.05,150.03 L395.72,148.83 L396.39,147.62 L397.07,146.41 L397.74,145.21 L398.41,144.00Z" fill="#4a40c8"/>
<g clip-path="url(#m6_3)">
<path d="M399.17,144.88 L399.81,146.02 L400.45,147.17 L401.09,148.31 L401.73,149.46 L402.36,150.61 L402.97,151.75 L403.43,152.90 L403.89,154.05 L404.35,155.19 L404.81,156.34 L405.08,157.49 L405.32,158.63 L405.56,159.78 L405.79,160.93 L405.95,162.07 L406.02,163.22 L406.08,164.37 L406.15,165.51 L406.19,166.66 L406.05,167.81 L405.91,168.95 L405.78,170.10 L405.52,171.25 L405.07,172.39 L404.63,173.54 L404.18,174.69 L403.25,175.83 L402.26,176.98 L400.28,178.12 L397.32,178.12 L395.34,176.98 L394.35,175.83 L393.42,174.69 L392.97,173.54 L392.53,172.39 L392.08,171.25 L391.82,170.10 L391.69,168.95 L391.55,167.81 L391.41,166.66 L391.45,165.51 L391.52,164.37 L391.58,163.22 L391.65,162.07 L391.81,160.93 L392.04,159.78 L392.28,158.63 L392.52,157.49 L392.79,156.34 L393.25,155.19 L393.71,154.05 L394.17,152.90 L394.63,151.75 L395.24,150.61 L395.87,149.46 L396.51,148.31 L397.15,147.17 L397.79,146.02 L398.43,144.88Z" fill="#2424ee"/>
<path d="M399.14,146.45 L399.71,147.49 L400.29,148.53 L400.87,149.56 L401.45,150.60 L402.03,151.64 L402.57,152.68 L402.99,153.72 L403.41,154.75 L403.82,155.79 L404.24,156.83 L404.48,157.87 L404.70,158.91 L404.92,159.94 L405.13,160.98 L405.27,162.02 L405.33,163.06 L405.39,164.09 L405.46,165.13 L405.49,166.17 L405.36,167.21 L405.24,168.25 L405.12,169.28 L404.88,170.32 L404.48,171.36 L404.08,172.40 L403.67,173.44 L402.83,174.47 L401.93,175.51 L400.14,176.55 L397.46,176.55 L395.67,175.51 L394.77,174.47 L393.93,173.44 L393.52,172.40 L393.12,171.36 L392.72,170.32 L392.48,169.28 L392.36,168.25 L392.24,167.21 L392.11,166.17 L392.14,165.13 L392.21,164.09 L392.27,163.06 L392.33,162.02 L392.47,160.98 L392.68,159.94 L392.90,158.91 L393.12,157.87 L393.36,156.83 L393.78,155.79 L394.19,154.75 L394.61,153.72 L395.03,152.68 L395.57,151.64 L396.15,150.60 L396.73,149.56 L397.31,148.53 L397.89,147.49 L398.46,146.45Z" fill="#2fc8ff"/>
<ellipse cx="398.80" cy="161.50" rx="6.50" ry="9.00" fill="#3cff6a" transform="rotate(0 398.80 161.50)"/>
<ellipse cx="398.80" cy="155.20" rx="3.40" ry="2.80" fill="#f4ff2c" transform="rotate(0 398.80 155.20)"/>
<ellipse cx="396.85" cy="155.20" rx="1.40" ry="2.00" fill="#ff2a12" transform="rotate(0 396.85 155.20)"/>
<ellipse cx="401.53" cy="156.60" rx="1.40" ry="1.60" fill="#ff2a12" transform="rotate(0 401.53 156.60)"/>
<ellipse cx="397.24" cy="167.10" rx="2.40" ry="2.00" fill="#2424ee" transform="rotate(0 397.24 167.10)"/>
<ellipse cx="394.12" cy="171.30" rx="2.40" ry="3.00" fill="#f4ff2c" transform="rotate(0 394.12 171.30)"/>
<ellipse cx="394.12" cy="172.00" rx="1.60" ry="2.40" fill="#ff2a12" transform="rotate(0 394.12 172.00)"/>
<ellipse cx="403.48" cy="169.90" rx="2.40" ry="3.00" fill="#f4ff2c" transform="rotate(0 403.48 169.90)"/>
<ellipse cx="403.64" cy="169.20" rx="1.60" ry="2.60" fill="#ff2a12" transform="rotate(0 403.64 169.20)"/>
<ellipse cx="398.80" cy="175.50" rx="2.40" ry="1.80" fill="#f4ff2c" transform="rotate(0 398.80 175.50)"/>
</g>
<path d="M415.00,177.50 C416.12,186.91 413.88,196.31 415.00,206.00" stroke="#8a8a9a" stroke-width="1.3" fill="none" stroke-linecap="round"/>
<path d="M415.00,177.50 L415.00,197.45" stroke="#4a34cc" stroke-width="2.2" fill="none" stroke-linecap="round"/>
<clipPath id="m6_4"><path d="M415.39,144.00 L416.06,145.19 L416.73,146.38 L417.41,147.57 L418.08,148.76 L418.75,149.95 L419.39,151.14 L419.87,152.33 L420.36,153.52 L420.84,154.71 L421.32,155.90 L421.61,157.09 L421.86,158.28 L422.11,159.47 L422.36,160.66 L422.52,161.84 L422.60,163.03 L422.67,164.22 L422.74,165.41 L422.78,166.60 L422.63,167.79 L422.49,168.98 L422.34,170.17 L422.08,171.36 L421.60,172.55 L421.13,173.74 L420.66,174.93 L419.68,176.12 L418.64,177.31 L416.56,178.50 L413.44,178.50 L411.36,177.31 L410.32,176.12 L409.34,174.93 L408.87,173.74 L408.40,172.55 L407.92,171.36 L407.66,170.17 L407.51,168.98 L407.37,167.79 L407.22,166.60 L407.26,165.41 L407.33,164.22 L407.40,163.03 L407.48,161.84 L407.64,160.66 L407.89,159.47 L408.14,158.28 L408.39,157.09 L408.68,155.90 L409.16,154.71 L409.64,153.52 L410.13,152.33 L410.61,151.14 L411.25,149.95 L411.92,148.76 L412.59,147.57 L413.27,146.38 L413.94,145.19 L414.61,144.00Z"/></clipPath>
<path d="M415.39,144.00 L416.06,145.19 L416.73,146.38 L417.41,147.57 L418.08,148.76 L418.75,149.95 L419.39,151.14 L419.87,152.33 L420.36,153.52 L420.84,154.71 L421.32,155.90 L421.61,157.09 L421.86,158.28 L422.11,159.47 L422.36,160.66 L422.52,161.84 L422.60,163.03 L422.67,164.22 L422.74,165.41 L422.78,166.60 L422.63,167.79 L422.49,168.98 L422.34,170.17 L422.08,171.36 L421.60,172.55 L421.13,173.74 L420.66,174.93 L419.68,176.12 L418.64,177.31 L416.56,178.50 L413.44,178.50 L411.36,177.31 L410.32,176.12 L409.34,174.93 L408.87,173.74 L408.40,172.55 L407.92,171.36 L407.66,170.17 L407.51,168.98 L407.37,167.79 L407.22,166.60 L407.26,165.41 L407.33,164.22 L407.40,163.03 L407.48,161.84 L407.64,160.66 L407.89,159.47 L408.14,158.28 L408.39,157.09 L408.68,155.90 L409.16,154.71 L409.64,153.52 L410.13,152.33 L410.61,151.14 L411.25,149.95 L411.92,148.76 L412.59,147.57 L413.27,146.38 L413.94,145.19 L414.61,144.00Z" fill="#4a40c8"/>
<g clip-path="url(#m6_4)">
<path d="M415.37,144.86 L416.01,145.99 L416.65,147.12 L417.29,148.25 L417.93,149.38 L418.56,150.51 L419.17,151.64 L419.63,152.77 L420.09,153.90 L420.55,155.03 L421.01,156.16 L421.28,157.29 L421.52,158.42 L421.76,159.55 L421.99,160.68 L422.15,161.82 L422.22,162.95 L422.28,164.08 L422.35,165.21 L422.39,166.34 L422.25,167.47 L422.11,168.60 L421.98,169.73 L421.72,170.86 L421.27,171.99 L420.83,173.12 L420.38,174.25 L419.45,175.38 L418.46,176.51 L416.48,177.64 L413.52,177.64 L411.54,176.51 L410.55,175.38 L409.62,174.25 L409.17,173.12 L408.73,171.99 L408.28,170.86 L408.02,169.73 L407.89,168.60 L407.75,167.47 L407.61,166.34 L407.65,165.21 L407.72,164.08 L407.78,162.95 L407.85,161.82 L408.01,160.68 L408.24,159.55 L408.48,158.42 L408.72,157.29 L408.99,156.16 L409.45,155.03 L409.91,153.90 L410.37,152.77 L410.83,151.64 L411.44,150.51 L412.07,149.38 L412.71,148.25 L413.35,147.12 L413.99,145.99 L414.63,144.86Z" fill="#2424ee"/>
<path d="M415.34,146.07 L415.93,147.12 L416.53,148.16 L417.12,149.21 L417.71,150.26 L418.30,151.30 L418.86,152.35 L419.29,153.40 L419.71,154.45 L420.14,155.49 L420.56,156.54 L420.82,157.59 L421.04,158.63 L421.26,159.68 L421.48,160.73 L421.62,161.77 L421.68,162.82 L421.75,163.87 L421.81,164.91 L421.84,165.96 L421.72,167.01 L421.59,168.05 L421.46,169.10 L421.23,170.15 L420.81,171.20 L420.40,172.24 L419.98,173.29 L419.12,174.34 L418.21,175.38 L416.37,176.43 L413.63,176.43 L411.79,175.38 L410.88,174.34 L410.02,173.29 L409.60,172.24 L409.19,171.20 L408.77,170.15 L408.54,169.10 L408.41,168.05 L408.28,167.01 L408.16,165.96 L408.19,164.91 L408.25,163.87 L408.32,162.82 L408.38,161.77 L408.52,160.73 L408.74,159.68 L408.96,158.63 L409.18,157.59 L409.44,156.54 L409.86,155.49 L410.29,154.45 L410.71,153.40 L411.14,152.35 L411.70,151.30 L412.29,150.26 L412.88,149.21 L413.47,148.16 L414.07,147.12 L414.66,146.07Z" fill="#2fc8ff"/>
<ellipse cx="415.00" cy="159.53" rx="6.50" ry="9.00" fill="#3cff6a" transform="rotate(0 415.00 159.53)"/>
<ellipse cx="415.78" cy="159.18" rx="4.80" ry="6.00" fill="#f4ff2c" transform="rotate(0 415.78 159.18)"/>
<ellipse cx="416.17" cy="158.49" rx="3.40" ry="4.60" fill="#ff2a12" transform="rotate(0 416.17 158.49)"/>
<ellipse cx="415.00" cy="166.77" rx="3.00" ry="1.60" fill="#2424ee" transform="rotate(0 415.00 166.77)"/>
<ellipse cx="409.93" cy="171.60" rx="2.60" ry="3.20" fill="#ff2a12" transform="rotate(0 409.93 171.60)"/>
<ellipse cx="420.46" cy="171.60" rx="2.60" ry="3.20" fill="#ff2a12" transform="rotate(0 420.46 171.60)"/>
<ellipse cx="415.00" cy="175.05" rx="3.00" ry="2.00" fill="#3cff6a" transform="rotate(0 415.00 175.05)"/>
</g>
</g></g>
<text x="11.2" y="258.5" font-size="16.3" font-weight="bold" fill="#111" color="#111">B</text>
<line x1="77.4" y1="272.7" x2="91.8" y2="272.7" stroke="#273562" stroke-width="2.6"/>
<line x1="84.5" y1="271" x2="84.5" y2="273" stroke="#273562" stroke-width="1"/>
<text x="95.6" y="275.6" font-size="11.8" textLength="35.6" lengthAdjust="spacingAndGlyphs" fill="#1a1a1a" color="#1a1a1a">Vehicle</text>
<line x1="157" y1="272.6" x2="171.5" y2="272.6" stroke="#8e0c32" stroke-width="2.6"/>
<line x1="164" y1="270.6" x2="164" y2="272.6" stroke="#8e0c32" stroke-width="1"/>
<text x="176.4" y="275.6" font-size="11.8" textLength="38" lengthAdjust="spacingAndGlyphs" fill="#1a1a1a" color="#1a1a1a">Ibrutinib</text>
<line x1="72" y1="283.4" x2="72" y2="404.5" stroke="#111" stroke-width="1.8"/>
<line x1="68" y1="400.6" x2="81" y2="400.6" stroke="#111" stroke-width="1.8"/>
<line x1="80.8" y1="397" x2="80.8" y2="404" stroke="#111" stroke-width="1.6"/>
<line x1="88.5" y1="400.6" x2="249.5" y2="400.6" stroke="#111" stroke-width="1.8"/>
<line x1="88.5" y1="397" x2="88.5" y2="404.5" stroke="#111" stroke-width="1.6"/>
<line x1="124" y1="400" x2="124" y2="404.5" stroke="#111" stroke-width="1.6"/>
<line x1="159.7" y1="400" x2="159.7" y2="404.5" stroke="#111" stroke-width="1.6"/>
<line x1="195.6" y1="400" x2="195.6" y2="404.5" stroke="#111" stroke-width="1.6"/>
<line x1="231.3" y1="400" x2="231.3" y2="404.5" stroke="#111" stroke-width="1.6"/>
<line x1="68" y1="288.1" x2="72" y2="288.1" stroke="#111" stroke-width="1.6"/>
<text x="63.6" y="292.3" font-size="10.4" text-anchor="end" transform="matrix(1.13,0,0,1,-8.268,0)" fill="#1a1a1a" color="#1a1a1a">100</text>
<line x1="68" y1="310.3" x2="72" y2="310.3" stroke="#111" stroke-width="1.6"/>
<text x="63.6" y="314.5" font-size="10.4" text-anchor="end" transform="matrix(1.13,0,0,1,-8.268,0)" fill="#1a1a1a" color="#1a1a1a">80</text>
<line x1="68" y1="332.9" x2="72" y2="332.9" stroke="#111" stroke-width="1.6"/>
<text x="63.6" y="337.09999999999997" font-size="10.4" text-anchor="end" transform="matrix(1.13,0,0,1,-8.268,0)" fill="#1a1a1a" color="#1a1a1a">60</text>
<line x1="68" y1="355.2" x2="72" y2="355.2" stroke="#111" stroke-width="1.6"/>
<text x="63.6" y="359.4" font-size="10.4" text-anchor="end" transform="matrix(1.13,0,0,1,-8.268,0)" fill="#1a1a1a" color="#1a1a1a">40</text>
<line x1="68" y1="377.8" x2="72" y2="377.8" stroke="#111" stroke-width="1.6"/>
<text x="63.6" y="382.0" font-size="10.4" text-anchor="end" transform="matrix(1.13,0,0,1,-8.268,0)" fill="#1a1a1a" color="#1a1a1a">20</text>
<line x1="68" y1="400.3" x2="72" y2="400.3" stroke="#111" stroke-width="1.6"/>
<text x="63.6" y="404.5" font-size="10.4" text-anchor="end" transform="matrix(1.13,0,0,1,-8.268,0)" fill="#1a1a1a" color="#1a1a1a">0</text>
<text x="72.3" y="419.7" font-size="10.4" text-anchor="middle" transform="matrix(1.13,0,0,1,-9.399,0)" fill="#1a1a1a" color="#1a1a1a">0</text>
<text x="88.5" y="419.7" font-size="10.4" text-anchor="middle" transform="matrix(1.13,0,0,1,-11.505,0)" fill="#1a1a1a" color="#1a1a1a">30</text>
<text x="124" y="419.7" font-size="10.4" text-anchor="middle" transform="matrix(1.13,0,0,1,-16.120,0)" fill="#1a1a1a" color="#1a1a1a">40</text>
<text x="159.7" y="419.7" font-size="10.4" text-anchor="middle" transform="matrix(1.13,0,0,1,-20.761,0)" fill="#1a1a1a" color="#1a1a1a">50</text>
<text x="195.6" y="419.7" font-size="10.4" text-anchor="middle" transform="matrix(1.13,0,0,1,-25.428,0)" fill="#1a1a1a" color="#1a1a1a">60</text>
<text x="231.3" y="419.7" font-size="10.4" text-anchor="middle" transform="matrix(1.13,0,0,1,-30.069,0)" fill="#1a1a1a" color="#1a1a1a">70</text>
<text x="90" y="439" font-size="14" textLength="141" lengthAdjust="spacingAndGlyphs" fill="#1a1a1a" color="#1a1a1a">Time post-injection, days</text>
<text x="35.2" y="373" font-size="14" textLength="63.5" lengthAdjust="spacingAndGlyphs" transform="rotate(-90 35.2 373)" fill="#1a1a1a" color="#1a1a1a">Survival, %</text>
<text x="97.2" y="299.9" font-size="10.7" textLength="30.5" lengthAdjust="spacingAndGlyphs" fill="#1a1a1a" color="#1a1a1a">ICN12</text>
<text x="181.2" y="392" font-size="10.7" textLength="48.5" lengthAdjust="spacingAndGlyphs" fill="#1a1a1a" color="#1a1a1a">P=0.0002</text>
<polyline points="163.3,288 220.5,288 220.5,336.1 231.7,336.1 231.7,368 234.7,368 234.7,400.6" fill="none" stroke="#8e0c32" stroke-width="2.3" stroke-linejoin="miter"/>
<polyline points="72,288 80.4,288" fill="none" stroke="#273562" stroke-width="2.3" stroke-linejoin="miter"/>
<polyline points="89.5,288 163.3,288 163.3,319.7 168,319.7 168,351.8 170.8,351.8 170.8,384.7 177.6,384.7 177.6,400.6" fill="none" stroke="#273562" stroke-width="2.3" stroke-linejoin="miter"/>
<text x="255.0" y="258.7" font-size="16.3" font-weight="bold" fill="#111" color="#111">C</text>
<line x1="325.2" y1="270.3" x2="338.9" y2="270.3" stroke="#273562" stroke-width="2.6"/>
<line x1="332.3" y1="268.3" x2="332.3" y2="270.3" stroke="#273562" stroke-width="1"/>
<text x="343.5" y="272.6" font-size="11.8" textLength="35.6" lengthAdjust="spacingAndGlyphs" fill="#1a1a1a" color="#1a1a1a">Vehicle</text>
<line x1="405.1" y1="270.3" x2="419" y2="270.3" stroke="#8e0c32" stroke-width="2.6"/>
<line x1="412" y1="268.3" x2="412" y2="270.3" stroke="#8e0c32" stroke-width="1"/>
<text x="423.3" y="272.6" font-size="11.8" textLength="38.3" lengthAdjust="spacingAndGlyphs" fill="#1a1a1a" color="#1a1a1a">Ibrutinib</text>
<line x1="316.5" y1="279.6" x2="316.5" y2="404.3" stroke="#111" stroke-width="1.8"/>
<line x1="312" y1="399.6" x2="501.5" y2="399.6" stroke="#111" stroke-width="1.8"/>
<line x1="316.3" y1="399.6" x2="316.3" y2="404" stroke="#111" stroke-width="1.6"/>
<text x="316.3" y="419.5" font-size="10.4" text-anchor="middle" transform="matrix(1.13,0,0,1,-41.119,0)" fill="#1a1a1a" color="#1a1a1a">0</text>
<line x1="376.3" y1="399.6" x2="376.3" y2="404" stroke="#111" stroke-width="1.6"/>
<text x="376.3" y="419.5" font-size="10.4" text-anchor="middle" transform="matrix(1.13,0,0,1,-48.919,0)" fill="#1a1a1a" color="#1a1a1a">10</text>
<line x1="436.4" y1="399.6" x2="436.4" y2="404" stroke="#111" stroke-width="1.6"/>
<text x="436.4" y="419.5" font-size="10.4" text-anchor="middle" transform="matrix(1.13,0,0,1,-56.732,0)" fill="#1a1a1a" color="#1a1a1a">20</text>
<line x1="497" y1="399.6" x2="497" y2="404" stroke="#111" stroke-width="1.6"/>
<text x="497" y="419.5" font-size="10.4" text-anchor="middle" transform="matrix(1.13,0,0,1,-64.610,0)" fill="#1a1a1a" color="#1a1a1a">30</text>
<line x1="312" y1="285.3" x2="316.5" y2="285.3" stroke="#111" stroke-width="1.6"/>
<text x="307.3" y="289.90000000000003" font-size="10.4" text-anchor="end" transform="matrix(1.13,0,0,1,-39.949,0)" fill="#1a1a1a" color="#1a1a1a">100</text>
<line x1="312" y1="308" x2="316.5" y2="308" stroke="#111" stroke-width="1.6"/>
<text x="307.3" y="312.6" font-size="10.4" text-anchor="end" transform="matrix(1.13,0,0,1,-39.949,0)" fill="#1a1a1a" color="#1a1a1a">80</text>
<line x1="312" y1="330.7" x2="316.5" y2="330.7" stroke="#111" stroke-width="1.6"/>
<text x="307.3" y="335.3" font-size="10.4" text-anchor="end" transform="matrix(1.13,0,0,1,-39.949,0)" fill="#1a1a1a" color="#1a1a1a">60</text>
<line x1="312" y1="353.4" x2="316.5" y2="353.4" stroke="#111" stroke-width="1.6"/>
<text x="307.3" y="358.0" font-size="10.4" text-anchor="end" transform="matrix(1.13,0,0,1,-39.949,0)" fill="#1a1a1a" color="#1a1a1a">40</text>
<line x1="312" y1="376.4" x2="316.5" y2="376.4" stroke="#111" stroke-width="1.6"/>
<text x="307.3" y="381.0" font-size="10.4" text-anchor="end" transform="matrix(1.13,0,0,1,-39.949,0)" fill="#1a1a1a" color="#1a1a1a">20</text>
<line x1="312" y1="399.4" x2="316.5" y2="399.4" stroke="#111" stroke-width="1.6"/>
<text x="307.3" y="404.0" font-size="10.4" text-anchor="end" transform="matrix(1.13,0,0,1,-39.949,0)" fill="#1a1a1a" color="#1a1a1a">0</text>
<text x="337.8" y="438.5" font-size="14" textLength="141.5" lengthAdjust="spacingAndGlyphs" fill="#1a1a1a" color="#1a1a1a">Time post-injection, days</text>
<text x="279.5" y="372.3" font-size="14" textLength="64.5" lengthAdjust="spacingAndGlyphs" transform="rotate(-90 279.5 372.3)" fill="#1a1a1a" color="#1a1a1a">Survival, %</text>
<text x="326.7" y="298.2" font-size="10.7" textLength="50.5" lengthAdjust="spacingAndGlyphs" fill="#1a1a1a" color="#1a1a1a">RCH-ACV</text>
<text x="404.2" y="391.9" font-size="10.7" textLength="47" lengthAdjust="spacingAndGlyphs" fill="#1a1a1a" color="#1a1a1a">P&lt;0.0001</text>
<polyline points="448.7,285.6 466.3,285.6 466.3,342.4 472,342.4 472,365.4 478.7,365.4 478.7,399.6" fill="none" stroke="#8e0c32" stroke-width="2.3" stroke-linejoin="miter"/>
<polyline points="316.5,285.6 448.7,285.6 448.7,331 454.3,331 454.3,399.6" fill="none" stroke="#273562" stroke-width="2.3" stroke-linejoin="miter"/>
<text x="11.0" y="479.6" font-size="16.3" font-weight="bold" fill="#111" color="#111">D</text>
<line x1="68.1" y1="485" x2="68.1" y2="641" stroke="#111" stroke-width="2"/>
<line x1="63.2" y1="640" x2="251.5" y2="640" stroke="#111" stroke-width="2"/>
<line x1="63.4" y1="490.9" x2="68.1" y2="490.9" stroke="#111" stroke-width="1.7"/>
<line x1="63.4" y1="528" x2="68.1" y2="528" stroke="#111" stroke-width="1.7"/>
<line x1="63.4" y1="565.2" x2="68.1" y2="565.2" stroke="#111" stroke-width="1.7"/>
<line x1="63.4" y1="602.6" x2="68.1" y2="602.6" stroke="#111" stroke-width="1.7"/>
<line x1="85.8" y1="640" x2="85.8" y2="645" stroke="#111" stroke-width="1.6"/>
<line x1="103.7" y1="640" x2="103.7" y2="645" stroke="#111" stroke-width="1.6"/>
<line x1="121.6" y1="640" x2="121.6" y2="645" stroke="#111" stroke-width="1.6"/>
<line x1="139.6" y1="640" x2="139.6" y2="645" stroke="#111" stroke-width="1.6"/>
<line x1="157.5" y1="640" x2="157.5" y2="645" stroke="#111" stroke-width="1.6"/>
<line x1="175.4" y1="640" x2="175.4" y2="645" stroke="#111" stroke-width="1.6"/>
<line x1="193.3" y1="640" x2="193.3" y2="645" stroke="#111" stroke-width="1.6"/>
<line x1="211.2" y1="640" x2="211.2" y2="645" stroke="#111" stroke-width="1.6"/>
<line x1="229.2" y1="640" x2="229.2" y2="645" stroke="#111" stroke-width="1.6"/>
<line x1="247.1" y1="640" x2="247.1" y2="645" stroke="#111" stroke-width="1.6"/>
<text x="58.3" y="494.6" font-size="10.4" text-anchor="end" transform="matrix(1.1,0,0,1,-5.830,0)" fill="#1a1a1a" color="#1a1a1a">2</text>
<text x="59.2" y="569.5" font-size="10.4" text-anchor="end" transform="matrix(1.1,0,0,1,-5.920,0)" fill="#1a1a1a" color="#1a1a1a">1</text>
<text x="58.8" y="643.6" font-size="10.4" text-anchor="end" transform="matrix(1.1,0,0,1,-5.880,0)" fill="#1a1a1a" color="#1a1a1a">0</text>
<text x="79.7" y="659.5" font-size="10.4" text-anchor="middle" transform="matrix(1.1,0,0,1,-7.970,0)" fill="#1a1a1a" color="#1a1a1a">0</text>
<text x="157.3" y="659.5" font-size="10.4" text-anchor="middle" transform="matrix(1.12,0,0,1,-18.876,0)" fill="#1a1a1a" color="#1a1a1a">0.5</text>
<text x="242.3" y="659.5" font-size="10.4" text-anchor="middle" transform="matrix(1.1,0,0,1,-24.230,0)" fill="#1a1a1a" color="#1a1a1a">1</text>
<text x="112.8" y="679.2" font-size="14" textLength="93" lengthAdjust="spacingAndGlyphs" fill="#1a1a1a" color="#1a1a1a">Fraction affected</text>
<text x="45.3" y="615" font-size="14" textLength="105.5" lengthAdjust="spacingAndGlyphs" transform="rotate(-90 45.3 615)" fill="#1a1a1a" color="#1a1a1a">Combination index</text>
<line x1="70.1" y1="565.2" x2="247" y2="565.2" stroke="#111" stroke-width="1.9" stroke-dasharray="1.7 1.42"/>
<path d="M102.00,491.73 L103.77,500.00 L105.54,507.44 L107.31,514.15 L109.08,520.24 L110.85,525.78 L112.63,530.84 L114.40,535.48 L116.17,539.74 L117.94,543.67 L119.71,547.29 L121.48,550.65 L123.25,553.77 L125.02,556.66 L126.79,559.36 L128.56,561.87 L130.33,564.22 L132.11,566.42 L133.88,568.48 L135.65,570.41 L137.42,572.23 L139.19,573.93 L140.96,575.53 L142.73,577.04 L144.50,578.46 L146.27,579.80 L148.04,581.06 L149.81,582.25 L151.58,583.37 L153.36,584.43 L155.13,585.43 L156.90,586.38 L158.67,587.27 L160.44,588.11 L162.21,588.90 L163.98,589.65 L165.75,590.36 L167.52,591.02 L169.29,591.64 L171.06,592.23 L172.84,592.78 L174.61,593.29 L176.38,593.77 L178.15,594.22 L179.92,594.63 L181.69,595.01 L183.46,595.37 L185.23,595.69 L187.00,595.98 L188.77,596.24 L190.54,596.48 L192.32,596.69 L194.09,596.86 L195.86,597.01 L197.63,597.13 L199.40,597.22 L201.17,597.28 L202.94,597.31 L204.71,597.30 L206.48,597.26 L208.25,597.19 L210.02,597.08 L211.79,596.94 L213.57,596.74 L215.34,596.51 L217.11,596.22 L218.88,595.88 L220.65,595.48 L222.42,595.02 L224.19,594.47 L225.96,593.83 L227.73,593.08 L229.50,592.21 L231.27,591.17 L233.05,589.94 L234.82,588.44 L236.59,586.59 L238.36,584.23 L240.13,581.06 L241.90,576.50" fill="none" stroke="#800a2e" stroke-width="2.4" stroke-linecap="butt"/>
<path d="M76.50,601.18 L78.59,603.45 L80.69,605.05 L82.78,606.27 L84.87,607.24 L86.97,608.06 L89.06,608.75 L91.16,609.36 L93.25,609.91 L95.34,610.40 L97.44,610.85 L99.53,611.26 L101.62,611.64 L103.72,612.00 L105.81,612.33 L107.91,612.65 L110.00,612.95 L112.09,613.23 L114.19,613.51 L116.28,613.77 L118.37,614.02 L120.47,614.26 L122.56,614.50 L124.65,614.72 L126.75,614.94 L128.84,615.16 L130.94,615.36 L133.03,615.57 L135.12,615.77 L137.22,615.96 L139.31,616.15 L141.40,616.34 L143.50,616.52 L145.59,616.70 L147.68,616.88 L149.78,617.05 L151.87,617.23 L153.97,617.40 L156.06,617.57 L158.15,617.74 L160.25,617.91 L162.34,618.07 L164.43,618.24 L166.53,618.40 L168.62,618.57 L170.72,618.73 L172.81,618.90 L174.90,619.06 L177.00,619.22 L179.09,619.39 L181.18,619.55 L183.28,619.72 L185.37,619.89 L187.46,620.06 L189.56,620.23 L191.65,620.40 L193.75,620.57 L195.84,620.75 L197.93,620.93 L200.03,621.11 L202.12,621.30 L204.21,621.49 L206.31,621.69 L208.40,621.89 L210.49,622.09 L212.59,622.30 L214.68,622.53 L216.78,622.75 L218.87,622.99 L220.96,623.24 L223.06,623.51 L225.15,623.79 L227.24,624.09 L229.34,624.41 L231.43,624.77 L233.53,625.16 L235.62,625.60 L237.71,626.11 L239.81,626.73 L241.90,627.53" fill="none" stroke="#22306a" stroke-width="2.4" stroke-linecap="butt"/>
<circle cx="172.6" cy="617.1" r="2.6" fill="#c8d0e4" stroke="#1c2950" stroke-width="1.4"/>
<circle cx="195.6" cy="620" r="2.6" fill="#c8d0e4" stroke="#1c2950" stroke-width="1.4"/>
<circle cx="214.2" cy="622.9" r="2.6" fill="#c8d0e4" stroke="#1c2950" stroke-width="1.4"/>
<circle cx="225.8" cy="624.8" r="2.6" fill="#c8d0e4" stroke="#1c2950" stroke-width="1.4"/>
<circle cx="232.5" cy="622.9" r="2.6" fill="#c8d0e4" stroke="#1c2950" stroke-width="1.4"/>
<rect x="113.5" y="558.7" width="5.6" height="5.6" fill="#f4d8e0" stroke="#7a0a2c" stroke-width="1.5"/>
<rect x="115.8" y="561.0" width="1.1" height="1.1" fill="#7a0a2c"/>
<rect x="128.6" y="538.7" width="5.6" height="5.6" fill="#f4d8e0" stroke="#7a0a2c" stroke-width="1.5"/>
<rect x="130.9" y="541.0" width="1.1" height="1.1" fill="#7a0a2c"/>
<rect x="188.6" y="582.4000000000001" width="5.6" height="5.6" fill="#f4d8e0" stroke="#7a0a2c" stroke-width="1.5"/>
<rect x="190.9" y="584.7" width="1.1" height="1.1" fill="#7a0a2c"/>
<rect x="237.79999999999998" y="595.7" width="5.6" height="5.6" fill="#f4d8e0" stroke="#7a0a2c" stroke-width="1.5"/>
<rect x="240.1" y="598.0" width="1.1" height="1.1" fill="#7a0a2c"/>
<rect x="239.7" y="567.4000000000001" width="5.6" height="5.6" fill="#f4d8e0" stroke="#7a0a2c" stroke-width="1.5"/>
<rect x="242.0" y="569.7" width="1.1" height="1.1" fill="#7a0a2c"/>
<circle cx="123.6" cy="492.8" r="2.7" fill="#c8d0e4" stroke="#1c2950" stroke-width="1.5"/>
<circle cx="123.9" cy="492.8" r="0.7" fill="#1c2950"/>
<rect x="120.69999999999999" y="504.5" width="5.8" height="5.8" fill="#f4d8e0" stroke="#7a0a2c" stroke-width="1.6"/>
<rect x="123.19999999999999" y="507.2" width="1.1" height="1.1" fill="#7a0a2c"/>
<text x="131.8" y="497" font-size="11.2" textLength="128" lengthAdjust="spacingAndGlyphs" fill="#1a1a1a" color="#1a1a1a">Ibrutinib+Dexamethasone</text>
<text x="131.8" y="510.8" font-size="11.2" textLength="96.5" lengthAdjust="spacingAndGlyphs" fill="#1a1a1a" color="#1a1a1a">Ibrutinib+Vincristine</text>
<line x1="278" y1="484" x2="413.5" y2="484" stroke="#222" stroke-width="1.4"/>
<line x1="278" y1="494.8" x2="413.5" y2="494.8" stroke="#222" stroke-width="1.4"/>
<line x1="278" y1="554.5" x2="413.5" y2="554.5" stroke="#222" stroke-width="1.4"/>
<text x="295.4" y="492.4" font-size="7.9" text-anchor="middle" transform="matrix(0.99,0,0,1,2.954,0)" fill="#222" color="#222" style="stroke-width:0.28px">Ibr, <tspan font-style="italic">µ</tspan>M</text>
<text x="329.3" y="492.4" font-size="7.9" text-anchor="middle" transform="matrix(0.99,0,0,1,3.293,0)" fill="#222" color="#222" style="stroke-width:0.28px">Dex, nM</text>
<text x="366.3" y="492.4" font-size="7.9" text-anchor="middle" transform="matrix(0.99,0,0,1,3.663,0)" fill="#222" color="#222" style="stroke-width:0.28px">Fa</text>
<text x="400" y="492.4" font-size="7.9" text-anchor="middle" transform="matrix(0.99,0,0,1,4.000,0)" fill="#222" color="#222" style="stroke-width:0.28px">CI</text>
<text x="295.4" y="504.9" font-size="7.9" text-anchor="middle" transform="matrix(1.04,0,0,1,-11.816,0)" fill="#222" color="#222" style="stroke-width:0.28px">0.15</text>
<text x="329.3" y="504.9" font-size="7.9" text-anchor="middle" transform="matrix(1.04,0,0,1,-13.172,0)" fill="#222" color="#222" style="stroke-width:0.28px">3.75</text>
<text x="366.3" y="504.9" font-size="7.9" text-anchor="middle" transform="matrix(1.04,0,0,1,-14.652,0)" fill="#222" color="#222" style="stroke-width:0.28px">0.588</text>
<text x="400" y="504.9" font-size="7.9" text-anchor="middle" transform="matrix(1.04,0,0,1,-16.000,0)" fill="#222" color="#222" style="stroke-width:0.28px">0.310</text>
<text x="295.4" y="516.5" font-size="7.9" text-anchor="middle" transform="matrix(1.04,0,0,1,-11.816,0)" fill="#222" color="#222" style="stroke-width:0.28px">0.3</text>
<text x="329.3" y="516.5" font-size="7.9" text-anchor="middle" transform="matrix(1.04,0,0,1,-13.172,0)" fill="#222" color="#222" style="stroke-width:0.28px">7.5</text>
<text x="366.3" y="516.5" font-size="7.9" text-anchor="middle" transform="matrix(1.04,0,0,1,-14.652,0)" fill="#222" color="#222" style="stroke-width:0.28px">0.717</text>
<text x="400" y="516.5" font-size="7.9" text-anchor="middle" transform="matrix(1.04,0,0,1,-16.000,0)" fill="#222" color="#222" style="stroke-width:0.28px">0.269</text>
<text x="295.4" y="528.0" font-size="7.9" text-anchor="middle" transform="matrix(1.04,0,0,1,-11.816,0)" fill="#222" color="#222" style="stroke-width:0.28px">0.6</text>
<text x="329.3" y="528.0" font-size="7.9" text-anchor="middle" transform="matrix(1.04,0,0,1,-13.172,0)" fill="#222" color="#222" style="stroke-width:0.28px">15</text>
<text x="366.3" y="528.0" font-size="7.9" text-anchor="middle" transform="matrix(1.04,0,0,1,-14.652,0)" fill="#222" color="#222" style="stroke-width:0.28px">0.820</text>
<text x="400" y="528.0" font-size="7.9" text-anchor="middle" transform="matrix(1.04,0,0,1,-16.000,0)" fill="#222" color="#222" style="stroke-width:0.28px">0.229</text>
<text x="295.4" y="539.5" font-size="7.9" text-anchor="middle" transform="matrix(1.04,0,0,1,-11.816,0)" fill="#222" color="#222" style="stroke-width:0.28px">1.2</text>
<text x="329.3" y="539.5" font-size="7.9" text-anchor="middle" transform="matrix(1.04,0,0,1,-13.172,0)" fill="#222" color="#222" style="stroke-width:0.28px">30</text>
<text x="366.3" y="539.5" font-size="7.9" text-anchor="middle" transform="matrix(1.04,0,0,1,-14.652,0)" fill="#222" color="#222" style="stroke-width:0.28px">0.887</text>
<text x="400" y="539.5" font-size="7.9" text-anchor="middle" transform="matrix(1.04,0,0,1,-16.000,0)" fill="#222" color="#222" style="stroke-width:0.28px">0.208</text>
<text x="295.4" y="550.6" font-size="7.9" text-anchor="middle" transform="matrix(1.04,0,0,1,-11.816,0)" fill="#222" color="#222" style="stroke-width:0.28px">2.4</text>
<text x="329.3" y="550.6" font-size="7.9" text-anchor="middle" transform="matrix(1.04,0,0,1,-13.172,0)" fill="#222" color="#222" style="stroke-width:0.28px">60</text>
<text x="366.3" y="550.6" font-size="7.9" text-anchor="middle" transform="matrix(1.04,0,0,1,-14.652,0)" fill="#222" color="#222" style="stroke-width:0.28px">0.922</text>
<text x="400" y="550.6" font-size="7.9" text-anchor="middle" transform="matrix(1.04,0,0,1,-16.000,0)" fill="#222" color="#222" style="stroke-width:0.28px">0.230</text>
<line x1="420" y1="484.5" x2="509.5" y2="484.5" stroke="#222" stroke-width="1.4"/>
<line x1="420" y1="497.8" x2="509.5" y2="497.8" stroke="#222" stroke-width="1.4"/>
<line x1="420" y1="554.8" x2="509.5" y2="554.8" stroke="#222" stroke-width="1.4"/>
<text x="443.8" y="494.0" font-size="7.9" text-anchor="middle" transform="matrix(0.99,0,0,1,4.438,0)" fill="#222" color="#222" style="stroke-width:0.28px">Combo ED</text>
<text x="487.3" y="494.0" font-size="7.9" text-anchor="middle" transform="matrix(0.99,0,0,1,4.873,0)" fill="#222" color="#222" style="stroke-width:0.28px">CI</text>
<text x="442.9" y="510.09999999999997" font-size="7.9" text-anchor="middle" transform="matrix(0.99,0,0,1,4.429,0)" fill="#222" color="#222" style="stroke-width:0.28px">ED50</text>
<text x="487.7" y="510.09999999999997" font-size="7.9" text-anchor="middle" transform="matrix(1.04,0,0,1,-19.508,0)" fill="#222" color="#222" style="stroke-width:0.28px">0.312</text>
<text x="442.9" y="522.9" font-size="7.9" text-anchor="middle" transform="matrix(0.99,0,0,1,4.429,0)" fill="#222" color="#222" style="stroke-width:0.28px">ED75</text>
<text x="487.7" y="522.9" font-size="7.9" text-anchor="middle" transform="matrix(1.04,0,0,1,-19.508,0)" fill="#222" color="#222" style="stroke-width:0.28px">0.261</text>
<text x="442.9" y="535.9" font-size="7.9" text-anchor="middle" transform="matrix(0.99,0,0,1,4.429,0)" fill="#222" color="#222" style="stroke-width:0.28px">ED90</text>
<text x="487.7" y="535.9" font-size="7.9" text-anchor="middle" transform="matrix(1.04,0,0,1,-19.508,0)" fill="#222" color="#222" style="stroke-width:0.28px">0.220</text>
<text x="442.9" y="548.6999999999999" font-size="7.9" text-anchor="middle" transform="matrix(0.99,0,0,1,4.429,0)" fill="#222" color="#222" style="stroke-width:0.28px">ED95</text>
<text x="487.7" y="548.6999999999999" font-size="7.9" text-anchor="middle" transform="matrix(1.04,0,0,1,-19.508,0)" fill="#222" color="#222" style="stroke-width:0.28px">0.196</text>
<line x1="278" y1="568.3" x2="413.5" y2="568.3" stroke="#222" stroke-width="1.4"/>
<line x1="278" y1="578.8" x2="413.5" y2="578.8" stroke="#222" stroke-width="1.4"/>
<line x1="278" y1="638.5" x2="413.5" y2="638.5" stroke="#222" stroke-width="1.4"/>
<text x="295.4" y="576.6999999999999" font-size="7.9" text-anchor="middle" transform="matrix(0.99,0,0,1,2.954,0)" fill="#222" color="#222" style="stroke-width:0.28px">Ibr, <tspan font-style="italic">µ</tspan>M</text>
<text x="329.3" y="576.6999999999999" font-size="7.9" text-anchor="middle" transform="matrix(0.99,0,0,1,3.293,0)" fill="#222" color="#222" style="stroke-width:0.28px">Vin, nM</text>
<text x="366.3" y="576.6999999999999" font-size="7.9" text-anchor="middle" transform="matrix(0.99,0,0,1,3.663,0)" fill="#222" color="#222" style="stroke-width:0.28px">Fa</text>
<text x="400" y="576.6999999999999" font-size="7.9" text-anchor="middle" transform="matrix(0.99,0,0,1,4.000,0)" fill="#222" color="#222" style="stroke-width:0.28px">CI</text>
<text x="295.4" y="588.8" font-size="7.9" text-anchor="middle" transform="matrix(1.04,0,0,1,-11.816,0)" fill="#222" color="#222" style="stroke-width:0.28px">0.15</text>
<text x="329.3" y="588.8" font-size="7.9" text-anchor="middle" transform="matrix(1.04,0,0,1,-13.172,0)" fill="#222" color="#222" style="stroke-width:0.28px">0.3</text>
<text x="366.3" y="588.8" font-size="7.9" text-anchor="middle" transform="matrix(1.04,0,0,1,-14.652,0)" fill="#222" color="#222" style="stroke-width:0.28px">0.275</text>
<text x="400" y="588.8" font-size="7.9" text-anchor="middle" transform="matrix(1.04,0,0,1,-16.000,0)" fill="#222" color="#222" style="stroke-width:0.28px">1.051</text>
<text x="295.4" y="600.1999999999999" font-size="7.9" text-anchor="middle" transform="matrix(1.04,0,0,1,-11.816,0)" fill="#222" color="#222" style="stroke-width:0.28px">0.3</text>
<text x="329.3" y="600.1999999999999" font-size="7.9" text-anchor="middle" transform="matrix(1.04,0,0,1,-13.172,0)" fill="#222" color="#222" style="stroke-width:0.28px">0.6</text>
<text x="366.3" y="600.1999999999999" font-size="7.9" text-anchor="middle" transform="matrix(1.04,0,0,1,-14.652,0)" fill="#222" color="#222" style="stroke-width:0.28px">0.356</text>
<text x="400" y="600.1999999999999" font-size="7.9" text-anchor="middle" transform="matrix(1.04,0,0,1,-16.000,0)" fill="#222" color="#222" style="stroke-width:0.28px">1.318</text>
<text x="295.4" y="611.6" font-size="7.9" text-anchor="middle" transform="matrix(1.04,0,0,1,-11.816,0)" fill="#222" color="#222" style="stroke-width:0.28px">0.6</text>
<text x="329.3" y="611.6" font-size="7.9" text-anchor="middle" transform="matrix(1.04,0,0,1,-13.172,0)" fill="#222" color="#222" style="stroke-width:0.28px">1.2</text>
<text x="366.3" y="611.6" font-size="7.9" text-anchor="middle" transform="matrix(1.04,0,0,1,-14.652,0)" fill="#222" color="#222" style="stroke-width:0.28px">0.693</text>
<text x="400" y="611.6" font-size="7.9" text-anchor="middle" transform="matrix(1.04,0,0,1,-16.000,0)" fill="#222" color="#222" style="stroke-width:0.28px">0.736</text>
<text x="295.4" y="622.9" font-size="7.9" text-anchor="middle" transform="matrix(1.04,0,0,1,-11.816,0)" fill="#222" color="#222" style="stroke-width:0.28px">1.2</text>
<text x="329.3" y="622.9" font-size="7.9" text-anchor="middle" transform="matrix(1.04,0,0,1,-13.172,0)" fill="#222" color="#222" style="stroke-width:0.28px">2.4</text>
<text x="366.3" y="622.9" font-size="7.9" text-anchor="middle" transform="matrix(1.04,0,0,1,-14.652,0)" fill="#222" color="#222" style="stroke-width:0.28px">0.964</text>
<text x="400" y="622.9" font-size="7.9" text-anchor="middle" transform="matrix(1.04,0,0,1,-16.000,0)" fill="#222" color="#222" style="stroke-width:0.28px">0.554</text>
<text x="295.4" y="634.4" font-size="7.9" text-anchor="middle" transform="matrix(1.04,0,0,1,-11.816,0)" fill="#222" color="#222" style="stroke-width:0.28px">2.4</text>
<text x="329.3" y="634.4" font-size="7.9" text-anchor="middle" transform="matrix(1.04,0,0,1,-13.172,0)" fill="#222" color="#222" style="stroke-width:0.28px">4.8</text>
<text x="366.3" y="634.4" font-size="7.9" text-anchor="middle" transform="matrix(1.04,0,0,1,-14.652,0)" fill="#222" color="#222" style="stroke-width:0.28px">0.980</text>
<text x="400" y="634.4" font-size="7.9" text-anchor="middle" transform="matrix(1.04,0,0,1,-16.000,0)" fill="#222" color="#222" style="stroke-width:0.28px">0.936</text>
<line x1="420" y1="568.1" x2="509.5" y2="568.1" stroke="#222" stroke-width="1.4"/>
<line x1="420" y1="581.2" x2="509.5" y2="581.2" stroke="#222" stroke-width="1.4"/>
<line x1="420" y1="638.4" x2="509.5" y2="638.4" stroke="#222" stroke-width="1.4"/>
<text x="443.8" y="578.1999999999999" font-size="7.9" text-anchor="middle" transform="matrix(0.99,0,0,1,4.438,0)" fill="#222" color="#222" style="stroke-width:0.28px">Combo ED</text>
<text x="487.3" y="578.1999999999999" font-size="7.9" text-anchor="middle" transform="matrix(0.99,0,0,1,4.873,0)" fill="#222" color="#222" style="stroke-width:0.28px">CI</text>
<text x="442.9" y="593.6999999999999" font-size="7.9" text-anchor="middle" transform="matrix(0.99,0,0,1,4.429,0)" fill="#222" color="#222" style="stroke-width:0.28px">ED50</text>
<text x="487.7" y="593.6999999999999" font-size="7.9" text-anchor="middle" transform="matrix(1.04,0,0,1,-19.508,0)" fill="#222" color="#222" style="stroke-width:0.28px">0.727</text>
<text x="442.9" y="606.8" font-size="7.9" text-anchor="middle" transform="matrix(0.99,0,0,1,4.429,0)" fill="#222" color="#222" style="stroke-width:0.28px">ED75</text>
<text x="487.7" y="606.8" font-size="7.9" text-anchor="middle" transform="matrix(1.04,0,0,1,-19.508,0)" fill="#222" color="#222" style="stroke-width:0.28px">0.566</text>
<text x="442.9" y="620.0" font-size="7.9" text-anchor="middle" transform="matrix(0.99,0,0,1,4.429,0)" fill="#222" color="#222" style="stroke-width:0.28px">ED90</text>
<text x="487.7" y="620.0" font-size="7.9" text-anchor="middle" transform="matrix(1.04,0,0,1,-19.508,0)" fill="#222" color="#222" style="stroke-width:0.28px">0.618</text>
<text x="442.9" y="633.1" font-size="7.9" text-anchor="middle" transform="matrix(0.99,0,0,1,4.429,0)" fill="#222" color="#222" style="stroke-width:0.28px">ED95</text>
<text x="487.7" y="633.1" font-size="7.9" text-anchor="middle" transform="matrix(1.04,0,0,1,-19.508,0)" fill="#222" color="#222" style="stroke-width:0.28px">0.713</text>
</g>
<rect x="1" y="1" width="518" height="691" fill="none" stroke="#000" stroke-width="2"/>
</svg></body></html>
